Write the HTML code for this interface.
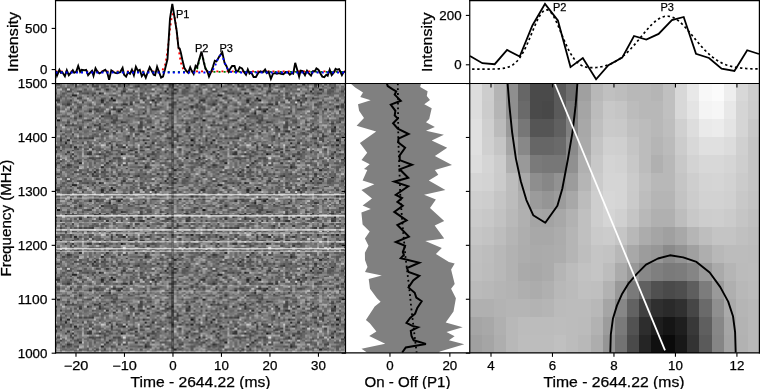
<!DOCTYPE html><html><head><meta charset="utf-8"><style>html,body{margin:0;padding:0;background:#fff;}svg{display:block;will-change:transform}text{font-family:"Liberation Sans", sans-serif;fill:#000;stroke:#000;stroke-width:0.25px}</style></head><body>
<svg width="760" height="389" viewBox="0 0 760 389">
<defs><filter id="nz" x="55" y="83.5" width="291" height="269" filterUnits="userSpaceOnUse" color-interpolation-filters="sRGB"><feTurbulence type="fractalNoise" baseFrequency="0.5 0.6" numOctaves="2" seed="3" result="t"/><feColorMatrix in="t" type="matrix" values="0 0 0 0.85 0.034  0 0 0 0.85 0.034  0 0 0 0.85 0.034  0 0 0 0 1"/></filter></defs>
<defs><pattern id="np" patternUnits="userSpaceOnUse" x="55" y="83.5" width="145.500" height="89.667"><g shape-rendering="crispEdges">
<path fill="#141414" d="M55.77 14.35h2.44v1.81h-2.44zM58.20 16.14h2.44v1.81h-2.44zM2.42 35.87h2.44v1.81h-2.44zM135.80 55.59h2.44v1.81h-2.44zM65.47 69.94h2.44v1.81h-2.44z"/>
<path fill="#252525" d="M130.95 3.59h2.44v1.81h-2.44zM118.82 5.38h2.44v1.81h-2.44zM109.12 7.17h2.44v1.81h-2.44zM43.65 8.97h2.44v1.81h-2.44zM16.97 10.76h2.44v1.81h-2.44zM19.40 10.76h2.44v1.81h-2.44zM46.07 16.14h2.44v1.81h-2.44zM97.00 16.14h2.44v1.81h-2.44zM135.80 21.52h2.44v1.81h-2.44zM65.47 25.11h2.44v1.81h-2.44zM63.05 26.90h2.44v1.81h-2.44zM53.35 28.69h2.44v1.81h-2.44zM43.65 39.45h2.44v1.81h-2.44zM97.00 43.04h2.44v1.81h-2.44zM133.38 43.04h2.44v1.81h-2.44zM58.20 48.42h2.44v1.81h-2.44zM12.12 55.59h2.44v1.81h-2.44zM9.70 59.18h2.44v1.81h-2.44zM89.72 59.18h2.44v1.81h-2.44zM135.80 60.97h2.44v1.81h-2.44zM19.40 62.77h2.44v1.81h-2.44zM67.90 62.77h2.44v1.81h-2.44zM75.17 66.35h2.44v1.81h-2.44zM130.95 73.53h2.44v1.81h-2.44zM143.07 73.53h2.44v1.81h-2.44zM97.00 75.32h2.44v1.81h-2.44zM140.65 75.32h2.44v1.81h-2.44zM24.25 78.91h2.44v1.81h-2.44zM46.07 82.49h2.44v1.81h-2.44zM89.72 82.49h2.44v1.81h-2.44zM118.82 86.08h2.44v1.81h-2.44zM38.80 87.87h2.44v1.81h-2.44z"/>
<path fill="#353535" d="M36.38 0.00h2.44v1.81h-2.44zM101.85 0.00h2.44v1.81h-2.44zM113.97 0.00h2.44v1.81h-2.44zM82.45 1.79h2.44v1.81h-2.44zM75.17 3.59h2.44v1.81h-2.44zM50.92 5.38h2.44v1.81h-2.44zM111.55 5.38h2.44v1.81h-2.44zM67.90 7.17h2.44v1.81h-2.44zM104.27 14.35h2.44v1.81h-2.44zM111.55 14.35h2.44v1.81h-2.44zM0.00 16.14h2.44v1.81h-2.44zM2.42 16.14h2.44v1.81h-2.44zM46.07 17.93h2.44v1.81h-2.44zM99.42 17.93h2.44v1.81h-2.44zM12.12 19.73h2.44v1.81h-2.44zM67.90 19.73h2.44v1.81h-2.44zM70.32 19.73h2.44v1.81h-2.44zM75.17 19.73h2.44v1.81h-2.44zM99.42 21.52h2.44v1.81h-2.44zM135.80 23.31h2.44v1.81h-2.44zM14.55 25.11h2.44v1.81h-2.44zM58.20 25.11h2.44v1.81h-2.44zM123.67 25.11h2.44v1.81h-2.44zM33.95 26.90h2.44v1.81h-2.44zM87.30 28.69h2.44v1.81h-2.44zM113.97 28.69h2.44v1.81h-2.44zM72.75 30.49h2.44v1.81h-2.44zM24.25 32.28h2.44v1.81h-2.44zM46.07 32.28h2.44v1.81h-2.44zM65.47 37.66h2.44v1.81h-2.44zM111.55 39.45h2.44v1.81h-2.44zM130.95 39.45h2.44v1.81h-2.44zM9.70 41.25h2.44v1.81h-2.44zM38.80 41.25h2.44v1.81h-2.44zM0.00 43.04h2.44v1.81h-2.44zM31.52 43.04h2.44v1.81h-2.44zM43.65 43.04h2.44v1.81h-2.44zM75.17 43.04h2.44v1.81h-2.44zM116.40 43.04h2.44v1.81h-2.44zM24.25 44.83h2.44v1.81h-2.44zM43.65 44.83h2.44v1.81h-2.44zM77.60 44.83h2.44v1.81h-2.44zM111.55 44.83h2.44v1.81h-2.44zM50.92 46.63h2.44v1.81h-2.44zM84.88 46.63h2.44v1.81h-2.44zM87.30 46.63h2.44v1.81h-2.44zM130.95 46.63h2.44v1.81h-2.44zM101.85 48.42h2.44v1.81h-2.44zM72.75 52.01h2.44v1.81h-2.44zM92.15 52.01h2.44v1.81h-2.44zM121.25 52.01h2.44v1.81h-2.44zM36.38 53.80h2.44v1.81h-2.44zM113.97 53.80h2.44v1.81h-2.44zM4.85 55.59h2.44v1.81h-2.44zM87.30 55.59h2.44v1.81h-2.44zM53.35 59.18h2.44v1.81h-2.44zM97.00 59.18h2.44v1.81h-2.44zM60.62 60.97h2.44v1.81h-2.44zM116.40 60.97h2.44v1.81h-2.44zM0.00 62.77h2.44v1.81h-2.44zM55.77 62.77h2.44v1.81h-2.44zM92.15 62.77h2.44v1.81h-2.44zM4.85 66.35h2.44v1.81h-2.44zM16.97 66.35h2.44v1.81h-2.44zM72.75 66.35h2.44v1.81h-2.44zM84.88 66.35h2.44v1.81h-2.44zM87.30 66.35h2.44v1.81h-2.44zM111.55 66.35h2.44v1.81h-2.44zM138.22 66.35h2.44v1.81h-2.44zM12.12 68.15h2.44v1.81h-2.44zM33.95 68.15h2.44v1.81h-2.44zM80.02 68.15h2.44v1.81h-2.44zM133.38 68.15h2.44v1.81h-2.44zM16.97 69.94h2.44v1.81h-2.44zM31.52 69.94h2.44v1.81h-2.44zM33.95 69.94h2.44v1.81h-2.44zM43.65 69.94h2.44v1.81h-2.44zM92.15 71.73h2.44v1.81h-2.44zM87.30 73.53h2.44v1.81h-2.44zM111.55 75.32h2.44v1.81h-2.44zM53.35 77.11h2.44v1.81h-2.44zM50.92 78.91h2.44v1.81h-2.44zM80.02 78.91h2.44v1.81h-2.44zM12.12 80.70h2.44v1.81h-2.44zM70.32 84.29h2.44v1.81h-2.44zM116.40 84.29h2.44v1.81h-2.44z"/>
<path fill="#464646" d="M2.42 0.00h2.44v1.81h-2.44zM26.67 0.00h2.44v1.81h-2.44zM63.05 0.00h2.44v1.81h-2.44zM72.75 0.00h2.44v1.81h-2.44zM89.72 0.00h2.44v1.81h-2.44zM36.38 1.79h2.44v1.81h-2.44zM38.80 1.79h2.44v1.81h-2.44zM41.22 1.79h2.44v1.81h-2.44zM58.20 1.79h2.44v1.81h-2.44zM80.02 1.79h2.44v1.81h-2.44zM113.97 1.79h2.44v1.81h-2.44zM2.42 3.59h2.44v1.81h-2.44zM60.62 3.59h2.44v1.81h-2.44zM116.40 3.59h2.44v1.81h-2.44zM41.22 5.38h2.44v1.81h-2.44zM12.12 7.17h2.44v1.81h-2.44zM24.25 7.17h2.44v1.81h-2.44zM77.60 7.17h2.44v1.81h-2.44zM140.65 7.17h2.44v1.81h-2.44zM31.52 8.97h2.44v1.81h-2.44zM38.80 8.97h2.44v1.81h-2.44zM46.07 8.97h2.44v1.81h-2.44zM65.47 8.97h2.44v1.81h-2.44zM84.88 8.97h2.44v1.81h-2.44zM104.27 8.97h2.44v1.81h-2.44zM111.55 8.97h2.44v1.81h-2.44zM116.40 8.97h2.44v1.81h-2.44zM118.82 8.97h2.44v1.81h-2.44zM36.38 10.76h2.44v1.81h-2.44zM101.85 10.76h2.44v1.81h-2.44zM4.85 12.55h2.44v1.81h-2.44zM14.55 12.55h2.44v1.81h-2.44zM31.52 12.55h2.44v1.81h-2.44zM123.67 12.55h2.44v1.81h-2.44zM21.82 14.35h2.44v1.81h-2.44zM24.25 14.35h2.44v1.81h-2.44zM84.88 14.35h2.44v1.81h-2.44zM87.30 14.35h2.44v1.81h-2.44zM89.72 14.35h2.44v1.81h-2.44zM14.55 16.14h2.44v1.81h-2.44zM53.35 16.14h2.44v1.81h-2.44zM87.30 16.14h2.44v1.81h-2.44zM135.80 16.14h2.44v1.81h-2.44zM26.67 17.93h2.44v1.81h-2.44zM75.17 17.93h2.44v1.81h-2.44zM82.45 17.93h2.44v1.81h-2.44zM118.82 17.93h2.44v1.81h-2.44zM143.07 17.93h2.44v1.81h-2.44zM48.50 19.73h2.44v1.81h-2.44zM94.57 19.73h2.44v1.81h-2.44zM113.97 19.73h2.44v1.81h-2.44zM140.65 19.73h2.44v1.81h-2.44zM140.65 21.52h2.44v1.81h-2.44zM24.25 23.31h2.44v1.81h-2.44zM140.65 23.31h2.44v1.81h-2.44zM2.42 25.11h2.44v1.81h-2.44zM38.80 25.11h2.44v1.81h-2.44zM41.22 25.11h2.44v1.81h-2.44zM63.05 25.11h2.44v1.81h-2.44zM97.00 25.11h2.44v1.81h-2.44zM99.42 25.11h2.44v1.81h-2.44zM128.52 25.11h2.44v1.81h-2.44zM41.22 26.90h2.44v1.81h-2.44zM53.35 26.90h2.44v1.81h-2.44zM89.72 26.90h2.44v1.81h-2.44zM138.22 26.90h2.44v1.81h-2.44zM116.40 28.69h2.44v1.81h-2.44zM58.20 30.49h2.44v1.81h-2.44zM82.45 30.49h2.44v1.81h-2.44zM99.42 30.49h2.44v1.81h-2.44zM111.55 32.28h2.44v1.81h-2.44zM19.40 34.07h2.44v1.81h-2.44zM36.38 34.07h2.44v1.81h-2.44zM55.77 34.07h2.44v1.81h-2.44zM60.62 34.07h2.44v1.81h-2.44zM84.88 34.07h2.44v1.81h-2.44zM138.22 34.07h2.44v1.81h-2.44zM140.65 34.07h2.44v1.81h-2.44zM31.52 35.87h2.44v1.81h-2.44zM33.95 35.87h2.44v1.81h-2.44zM58.20 35.87h2.44v1.81h-2.44zM60.62 35.87h2.44v1.81h-2.44zM126.10 35.87h2.44v1.81h-2.44zM12.12 37.66h2.44v1.81h-2.44zM55.77 37.66h2.44v1.81h-2.44zM58.20 37.66h2.44v1.81h-2.44zM67.90 37.66h2.44v1.81h-2.44zM84.88 37.66h2.44v1.81h-2.44zM94.57 37.66h2.44v1.81h-2.44zM104.27 37.66h2.44v1.81h-2.44zM138.22 37.66h2.44v1.81h-2.44zM50.92 39.45h2.44v1.81h-2.44zM84.88 39.45h2.44v1.81h-2.44zM128.52 39.45h2.44v1.81h-2.44zM16.97 41.25h2.44v1.81h-2.44zM41.22 41.25h2.44v1.81h-2.44zM48.50 41.25h2.44v1.81h-2.44zM84.88 41.25h2.44v1.81h-2.44zM109.12 41.25h2.44v1.81h-2.44zM24.25 43.04h2.44v1.81h-2.44zM82.45 43.04h2.44v1.81h-2.44zM84.88 43.04h2.44v1.81h-2.44zM92.15 44.83h2.44v1.81h-2.44zM113.97 44.83h2.44v1.81h-2.44zM130.95 44.83h2.44v1.81h-2.44zM133.38 44.83h2.44v1.81h-2.44zM4.85 46.63h2.44v1.81h-2.44zM60.62 46.63h2.44v1.81h-2.44zM65.47 46.63h2.44v1.81h-2.44zM133.38 46.63h2.44v1.81h-2.44zM92.15 48.42h2.44v1.81h-2.44zM118.82 48.42h2.44v1.81h-2.44zM16.97 50.21h2.44v1.81h-2.44zM80.02 50.21h2.44v1.81h-2.44zM82.45 50.21h2.44v1.81h-2.44zM121.25 50.21h2.44v1.81h-2.44zM123.67 52.01h2.44v1.81h-2.44zM4.85 53.80h2.44v1.81h-2.44zM24.25 53.80h2.44v1.81h-2.44zM29.10 53.80h2.44v1.81h-2.44zM33.95 53.80h2.44v1.81h-2.44zM77.60 53.80h2.44v1.81h-2.44zM111.55 53.80h2.44v1.81h-2.44zM118.82 53.80h2.44v1.81h-2.44zM121.25 55.59h2.44v1.81h-2.44zM143.07 55.59h2.44v1.81h-2.44zM9.70 57.39h2.44v1.81h-2.44zM16.97 57.39h2.44v1.81h-2.44zM31.52 57.39h2.44v1.81h-2.44zM43.65 57.39h2.44v1.81h-2.44zM104.27 57.39h2.44v1.81h-2.44zM121.25 57.39h2.44v1.81h-2.44zM138.22 57.39h2.44v1.81h-2.44zM26.67 59.18h2.44v1.81h-2.44zM113.97 59.18h2.44v1.81h-2.44zM14.55 60.97h2.44v1.81h-2.44zM70.32 60.97h2.44v1.81h-2.44zM123.67 60.97h2.44v1.81h-2.44zM130.95 60.97h2.44v1.81h-2.44zM143.07 60.97h2.44v1.81h-2.44zM2.42 62.77h2.44v1.81h-2.44zM14.55 62.77h2.44v1.81h-2.44zM33.95 62.77h2.44v1.81h-2.44zM65.47 62.77h2.44v1.81h-2.44zM84.88 62.77h2.44v1.81h-2.44zM106.70 62.77h2.44v1.81h-2.44zM21.82 64.56h2.44v1.81h-2.44zM36.38 64.56h2.44v1.81h-2.44zM55.77 64.56h2.44v1.81h-2.44zM80.02 64.56h2.44v1.81h-2.44zM101.85 64.56h2.44v1.81h-2.44zM123.67 64.56h2.44v1.81h-2.44zM143.07 64.56h2.44v1.81h-2.44zM0.00 66.35h2.44v1.81h-2.44zM48.50 66.35h2.44v1.81h-2.44zM60.62 66.35h2.44v1.81h-2.44zM0.00 68.15h2.44v1.81h-2.44zM50.92 68.15h2.44v1.81h-2.44zM97.00 68.15h2.44v1.81h-2.44zM109.12 68.15h2.44v1.81h-2.44zM9.70 69.94h2.44v1.81h-2.44zM67.90 69.94h2.44v1.81h-2.44zM97.00 69.94h2.44v1.81h-2.44zM130.95 69.94h2.44v1.81h-2.44zM138.22 69.94h2.44v1.81h-2.44zM14.55 71.73h2.44v1.81h-2.44zM48.50 71.73h2.44v1.81h-2.44zM80.02 71.73h2.44v1.81h-2.44zM2.42 73.53h2.44v1.81h-2.44zM16.97 73.53h2.44v1.81h-2.44zM33.95 73.53h2.44v1.81h-2.44zM36.38 73.53h2.44v1.81h-2.44zM43.65 73.53h2.44v1.81h-2.44zM58.20 73.53h2.44v1.81h-2.44zM63.05 73.53h2.44v1.81h-2.44zM38.80 75.32h2.44v1.81h-2.44zM65.47 75.32h2.44v1.81h-2.44zM82.45 75.32h2.44v1.81h-2.44zM84.88 75.32h2.44v1.81h-2.44zM87.30 75.32h2.44v1.81h-2.44zM89.72 75.32h2.44v1.81h-2.44zM4.85 77.11h2.44v1.81h-2.44zM21.82 77.11h2.44v1.81h-2.44zM2.42 78.91h2.44v1.81h-2.44zM14.55 80.70h2.44v1.81h-2.44zM48.50 80.70h2.44v1.81h-2.44zM63.05 80.70h2.44v1.81h-2.44zM67.90 80.70h2.44v1.81h-2.44zM89.72 80.70h2.44v1.81h-2.44zM123.67 80.70h2.44v1.81h-2.44zM126.10 80.70h2.44v1.81h-2.44zM7.27 82.49h2.44v1.81h-2.44zM21.82 82.49h2.44v1.81h-2.44zM55.77 82.49h2.44v1.81h-2.44zM92.15 82.49h2.44v1.81h-2.44zM89.72 84.29h2.44v1.81h-2.44zM104.27 84.29h2.44v1.81h-2.44zM111.55 84.29h2.44v1.81h-2.44zM121.25 84.29h2.44v1.81h-2.44zM126.10 84.29h2.44v1.81h-2.44zM41.22 86.08h2.44v1.81h-2.44zM48.50 86.08h2.44v1.81h-2.44zM19.40 87.87h2.44v1.81h-2.44zM46.07 87.87h2.44v1.81h-2.44z"/>
<path fill="#565656" d="M0.00 0.00h2.44v1.81h-2.44zM16.97 0.00h2.44v1.81h-2.44zM29.10 0.00h2.44v1.81h-2.44zM41.22 0.00h2.44v1.81h-2.44zM48.50 0.00h2.44v1.81h-2.44zM67.90 0.00h2.44v1.81h-2.44zM82.45 0.00h2.44v1.81h-2.44zM87.30 0.00h2.44v1.81h-2.44zM94.57 0.00h2.44v1.81h-2.44zM106.70 0.00h2.44v1.81h-2.44zM123.67 0.00h2.44v1.81h-2.44zM128.52 0.00h2.44v1.81h-2.44zM133.38 0.00h2.44v1.81h-2.44zM31.52 1.79h2.44v1.81h-2.44zM48.50 1.79h2.44v1.81h-2.44zM50.92 1.79h2.44v1.81h-2.44zM55.77 1.79h2.44v1.81h-2.44zM63.05 1.79h2.44v1.81h-2.44zM97.00 1.79h2.44v1.81h-2.44zM121.25 1.79h2.44v1.81h-2.44zM133.38 1.79h2.44v1.81h-2.44zM9.70 3.59h2.44v1.81h-2.44zM12.12 3.59h2.44v1.81h-2.44zM46.07 3.59h2.44v1.81h-2.44zM67.90 3.59h2.44v1.81h-2.44zM84.88 3.59h2.44v1.81h-2.44zM94.57 3.59h2.44v1.81h-2.44zM104.27 3.59h2.44v1.81h-2.44zM106.70 3.59h2.44v1.81h-2.44zM111.55 3.59h2.44v1.81h-2.44zM123.67 3.59h2.44v1.81h-2.44zM9.70 5.38h2.44v1.81h-2.44zM14.55 5.38h2.44v1.81h-2.44zM29.10 5.38h2.44v1.81h-2.44zM43.65 5.38h2.44v1.81h-2.44zM60.62 5.38h2.44v1.81h-2.44zM67.90 5.38h2.44v1.81h-2.44zM89.72 5.38h2.44v1.81h-2.44zM121.25 5.38h2.44v1.81h-2.44zM128.52 5.38h2.44v1.81h-2.44zM143.07 5.38h2.44v1.81h-2.44zM14.55 7.17h2.44v1.81h-2.44zM21.82 7.17h2.44v1.81h-2.44zM65.47 7.17h2.44v1.81h-2.44zM97.00 7.17h2.44v1.81h-2.44zM121.25 7.17h2.44v1.81h-2.44zM126.10 7.17h2.44v1.81h-2.44zM128.52 7.17h2.44v1.81h-2.44zM130.95 7.17h2.44v1.81h-2.44zM0.00 8.97h2.44v1.81h-2.44zM7.27 8.97h2.44v1.81h-2.44zM26.67 8.97h2.44v1.81h-2.44zM29.10 8.97h2.44v1.81h-2.44zM36.38 8.97h2.44v1.81h-2.44zM70.32 8.97h2.44v1.81h-2.44zM72.75 8.97h2.44v1.81h-2.44zM75.17 8.97h2.44v1.81h-2.44zM126.10 8.97h2.44v1.81h-2.44zM128.52 8.97h2.44v1.81h-2.44zM58.20 10.76h2.44v1.81h-2.44zM77.60 10.76h2.44v1.81h-2.44zM84.88 10.76h2.44v1.81h-2.44zM89.72 10.76h2.44v1.81h-2.44zM94.57 10.76h2.44v1.81h-2.44zM24.25 12.55h2.44v1.81h-2.44zM38.80 12.55h2.44v1.81h-2.44zM60.62 12.55h2.44v1.81h-2.44zM75.17 12.55h2.44v1.81h-2.44zM80.02 12.55h2.44v1.81h-2.44zM94.57 12.55h2.44v1.81h-2.44zM126.10 12.55h2.44v1.81h-2.44zM143.07 12.55h2.44v1.81h-2.44zM2.42 14.35h2.44v1.81h-2.44zM38.80 14.35h2.44v1.81h-2.44zM46.07 14.35h2.44v1.81h-2.44zM48.50 14.35h2.44v1.81h-2.44zM70.32 14.35h2.44v1.81h-2.44zM77.60 14.35h2.44v1.81h-2.44zM99.42 14.35h2.44v1.81h-2.44zM101.85 14.35h2.44v1.81h-2.44zM113.97 14.35h2.44v1.81h-2.44zM116.40 14.35h2.44v1.81h-2.44zM133.38 14.35h2.44v1.81h-2.44zM29.10 16.14h2.44v1.81h-2.44zM55.77 16.14h2.44v1.81h-2.44zM94.57 16.14h2.44v1.81h-2.44zM101.85 16.14h2.44v1.81h-2.44zM104.27 16.14h2.44v1.81h-2.44zM109.12 16.14h2.44v1.81h-2.44zM121.25 16.14h2.44v1.81h-2.44zM2.42 17.93h2.44v1.81h-2.44zM12.12 17.93h2.44v1.81h-2.44zM19.40 17.93h2.44v1.81h-2.44zM50.92 17.93h2.44v1.81h-2.44zM80.02 17.93h2.44v1.81h-2.44zM89.72 17.93h2.44v1.81h-2.44zM123.67 17.93h2.44v1.81h-2.44zM7.27 19.73h2.44v1.81h-2.44zM9.70 19.73h2.44v1.81h-2.44zM14.55 19.73h2.44v1.81h-2.44zM21.82 19.73h2.44v1.81h-2.44zM33.95 19.73h2.44v1.81h-2.44zM60.62 19.73h2.44v1.81h-2.44zM65.47 19.73h2.44v1.81h-2.44zM99.42 19.73h2.44v1.81h-2.44zM116.40 19.73h2.44v1.81h-2.44zM118.82 19.73h2.44v1.81h-2.44zM128.52 19.73h2.44v1.81h-2.44zM9.70 21.52h2.44v1.81h-2.44zM12.12 21.52h2.44v1.81h-2.44zM24.25 21.52h2.44v1.81h-2.44zM33.95 21.52h2.44v1.81h-2.44zM65.47 21.52h2.44v1.81h-2.44zM72.75 21.52h2.44v1.81h-2.44zM87.30 21.52h2.44v1.81h-2.44zM113.97 21.52h2.44v1.81h-2.44zM116.40 21.52h2.44v1.81h-2.44zM133.38 21.52h2.44v1.81h-2.44zM138.22 21.52h2.44v1.81h-2.44zM0.00 23.31h2.44v1.81h-2.44zM2.42 23.31h2.44v1.81h-2.44zM21.82 23.31h2.44v1.81h-2.44zM43.65 23.31h2.44v1.81h-2.44zM58.20 23.31h2.44v1.81h-2.44zM67.90 23.31h2.44v1.81h-2.44zM104.27 23.31h2.44v1.81h-2.44zM116.40 23.31h2.44v1.81h-2.44zM33.95 25.11h2.44v1.81h-2.44zM46.07 25.11h2.44v1.81h-2.44zM55.77 25.11h2.44v1.81h-2.44zM60.62 25.11h2.44v1.81h-2.44zM87.30 25.11h2.44v1.81h-2.44zM101.85 25.11h2.44v1.81h-2.44zM130.95 25.11h2.44v1.81h-2.44zM143.07 25.11h2.44v1.81h-2.44zM19.40 26.90h2.44v1.81h-2.44zM21.82 26.90h2.44v1.81h-2.44zM43.65 26.90h2.44v1.81h-2.44zM46.07 26.90h2.44v1.81h-2.44zM60.62 26.90h2.44v1.81h-2.44zM111.55 26.90h2.44v1.81h-2.44zM121.25 26.90h2.44v1.81h-2.44zM19.40 28.69h2.44v1.81h-2.44zM50.92 28.69h2.44v1.81h-2.44zM77.60 28.69h2.44v1.81h-2.44zM138.22 28.69h2.44v1.81h-2.44zM24.25 30.49h2.44v1.81h-2.44zM53.35 30.49h2.44v1.81h-2.44zM80.02 30.49h2.44v1.81h-2.44zM133.38 30.49h2.44v1.81h-2.44zM140.65 30.49h2.44v1.81h-2.44zM7.27 32.28h2.44v1.81h-2.44zM12.12 32.28h2.44v1.81h-2.44zM48.50 32.28h2.44v1.81h-2.44zM50.92 32.28h2.44v1.81h-2.44zM53.35 32.28h2.44v1.81h-2.44zM55.77 32.28h2.44v1.81h-2.44zM60.62 32.28h2.44v1.81h-2.44zM72.75 32.28h2.44v1.81h-2.44zM75.17 32.28h2.44v1.81h-2.44zM92.15 32.28h2.44v1.81h-2.44zM0.00 34.07h2.44v1.81h-2.44zM43.65 34.07h2.44v1.81h-2.44zM87.30 34.07h2.44v1.81h-2.44zM29.10 35.87h2.44v1.81h-2.44zM92.15 35.87h2.44v1.81h-2.44zM94.57 35.87h2.44v1.81h-2.44zM138.22 35.87h2.44v1.81h-2.44zM26.67 37.66h2.44v1.81h-2.44zM70.32 37.66h2.44v1.81h-2.44zM92.15 37.66h2.44v1.81h-2.44zM106.70 37.66h2.44v1.81h-2.44zM130.95 37.66h2.44v1.81h-2.44zM135.80 37.66h2.44v1.81h-2.44zM16.97 39.45h2.44v1.81h-2.44zM36.38 39.45h2.44v1.81h-2.44zM58.20 39.45h2.44v1.81h-2.44zM143.07 39.45h2.44v1.81h-2.44zM12.12 41.25h2.44v1.81h-2.44zM14.55 41.25h2.44v1.81h-2.44zM19.40 41.25h2.44v1.81h-2.44zM43.65 41.25h2.44v1.81h-2.44zM72.75 41.25h2.44v1.81h-2.44zM82.45 41.25h2.44v1.81h-2.44zM104.27 41.25h2.44v1.81h-2.44zM33.95 43.04h2.44v1.81h-2.44zM55.77 43.04h2.44v1.81h-2.44zM60.62 43.04h2.44v1.81h-2.44zM63.05 43.04h2.44v1.81h-2.44zM65.47 43.04h2.44v1.81h-2.44zM89.72 43.04h2.44v1.81h-2.44zM113.97 43.04h2.44v1.81h-2.44zM19.40 44.83h2.44v1.81h-2.44zM46.07 44.83h2.44v1.81h-2.44zM48.50 44.83h2.44v1.81h-2.44zM65.47 44.83h2.44v1.81h-2.44zM75.17 44.83h2.44v1.81h-2.44zM101.85 44.83h2.44v1.81h-2.44zM109.12 44.83h2.44v1.81h-2.44zM0.00 46.63h2.44v1.81h-2.44zM14.55 46.63h2.44v1.81h-2.44zM36.38 46.63h2.44v1.81h-2.44zM75.17 46.63h2.44v1.81h-2.44zM77.60 46.63h2.44v1.81h-2.44zM82.45 46.63h2.44v1.81h-2.44zM106.70 46.63h2.44v1.81h-2.44zM109.12 46.63h2.44v1.81h-2.44zM111.55 46.63h2.44v1.81h-2.44zM116.40 46.63h2.44v1.81h-2.44zM138.22 46.63h2.44v1.81h-2.44zM9.70 48.42h2.44v1.81h-2.44zM21.82 48.42h2.44v1.81h-2.44zM48.50 48.42h2.44v1.81h-2.44zM87.30 48.42h2.44v1.81h-2.44zM99.42 48.42h2.44v1.81h-2.44zM109.12 48.42h2.44v1.81h-2.44zM7.27 50.21h2.44v1.81h-2.44zM38.80 50.21h2.44v1.81h-2.44zM48.50 50.21h2.44v1.81h-2.44zM50.92 50.21h2.44v1.81h-2.44zM58.20 50.21h2.44v1.81h-2.44zM101.85 50.21h2.44v1.81h-2.44zM104.27 50.21h2.44v1.81h-2.44zM106.70 50.21h2.44v1.81h-2.44zM130.95 50.21h2.44v1.81h-2.44zM135.80 50.21h2.44v1.81h-2.44zM138.22 50.21h2.44v1.81h-2.44zM143.07 50.21h2.44v1.81h-2.44zM9.70 52.01h2.44v1.81h-2.44zM36.38 52.01h2.44v1.81h-2.44zM41.22 52.01h2.44v1.81h-2.44zM46.07 52.01h2.44v1.81h-2.44zM70.32 52.01h2.44v1.81h-2.44zM133.38 52.01h2.44v1.81h-2.44zM14.55 53.80h2.44v1.81h-2.44zM19.40 53.80h2.44v1.81h-2.44zM31.52 53.80h2.44v1.81h-2.44zM70.32 53.80h2.44v1.81h-2.44zM72.75 53.80h2.44v1.81h-2.44zM121.25 53.80h2.44v1.81h-2.44zM135.80 53.80h2.44v1.81h-2.44zM138.22 53.80h2.44v1.81h-2.44zM70.32 55.59h2.44v1.81h-2.44zM72.75 55.59h2.44v1.81h-2.44zM82.45 55.59h2.44v1.81h-2.44zM89.72 55.59h2.44v1.81h-2.44zM92.15 55.59h2.44v1.81h-2.44zM99.42 55.59h2.44v1.81h-2.44zM118.82 55.59h2.44v1.81h-2.44zM138.22 55.59h2.44v1.81h-2.44zM4.85 57.39h2.44v1.81h-2.44zM19.40 57.39h2.44v1.81h-2.44zM48.50 57.39h2.44v1.81h-2.44zM55.77 57.39h2.44v1.81h-2.44zM58.20 57.39h2.44v1.81h-2.44zM63.05 57.39h2.44v1.81h-2.44zM80.02 57.39h2.44v1.81h-2.44zM97.00 57.39h2.44v1.81h-2.44zM109.12 57.39h2.44v1.81h-2.44zM128.52 57.39h2.44v1.81h-2.44zM126.10 59.18h2.44v1.81h-2.44zM138.22 59.18h2.44v1.81h-2.44zM4.85 60.97h2.44v1.81h-2.44zM7.27 60.97h2.44v1.81h-2.44zM33.95 60.97h2.44v1.81h-2.44zM36.38 60.97h2.44v1.81h-2.44zM50.92 60.97h2.44v1.81h-2.44zM55.77 60.97h2.44v1.81h-2.44zM63.05 60.97h2.44v1.81h-2.44zM65.47 60.97h2.44v1.81h-2.44zM94.57 60.97h2.44v1.81h-2.44zM101.85 60.97h2.44v1.81h-2.44zM104.27 60.97h2.44v1.81h-2.44zM109.12 60.97h2.44v1.81h-2.44zM140.65 60.97h2.44v1.81h-2.44zM7.27 62.77h2.44v1.81h-2.44zM24.25 62.77h2.44v1.81h-2.44zM63.05 62.77h2.44v1.81h-2.44zM72.75 62.77h2.44v1.81h-2.44zM77.60 62.77h2.44v1.81h-2.44zM89.72 62.77h2.44v1.81h-2.44zM94.57 62.77h2.44v1.81h-2.44zM116.40 62.77h2.44v1.81h-2.44zM143.07 62.77h2.44v1.81h-2.44zM19.40 64.56h2.44v1.81h-2.44zM29.10 64.56h2.44v1.81h-2.44zM31.52 64.56h2.44v1.81h-2.44zM43.65 64.56h2.44v1.81h-2.44zM75.17 64.56h2.44v1.81h-2.44zM77.60 64.56h2.44v1.81h-2.44zM135.80 64.56h2.44v1.81h-2.44zM41.22 66.35h2.44v1.81h-2.44zM43.65 66.35h2.44v1.81h-2.44zM55.77 66.35h2.44v1.81h-2.44zM58.20 66.35h2.44v1.81h-2.44zM63.05 66.35h2.44v1.81h-2.44zM77.60 66.35h2.44v1.81h-2.44zM99.42 66.35h2.44v1.81h-2.44zM123.67 66.35h2.44v1.81h-2.44zM143.07 66.35h2.44v1.81h-2.44zM31.52 68.15h2.44v1.81h-2.44zM53.35 68.15h2.44v1.81h-2.44zM63.05 68.15h2.44v1.81h-2.44zM101.85 68.15h2.44v1.81h-2.44zM116.40 68.15h2.44v1.81h-2.44zM143.07 68.15h2.44v1.81h-2.44zM41.22 69.94h2.44v1.81h-2.44zM46.07 69.94h2.44v1.81h-2.44zM48.50 69.94h2.44v1.81h-2.44zM53.35 69.94h2.44v1.81h-2.44zM55.77 69.94h2.44v1.81h-2.44zM60.62 69.94h2.44v1.81h-2.44zM75.17 69.94h2.44v1.81h-2.44zM92.15 69.94h2.44v1.81h-2.44zM94.57 69.94h2.44v1.81h-2.44zM99.42 69.94h2.44v1.81h-2.44zM140.65 69.94h2.44v1.81h-2.44zM19.40 71.73h2.44v1.81h-2.44zM50.92 71.73h2.44v1.81h-2.44zM99.42 71.73h2.44v1.81h-2.44zM128.52 71.73h2.44v1.81h-2.44zM135.80 71.73h2.44v1.81h-2.44zM14.55 73.53h2.44v1.81h-2.44zM38.80 73.53h2.44v1.81h-2.44zM41.22 73.53h2.44v1.81h-2.44zM48.50 73.53h2.44v1.81h-2.44zM60.62 73.53h2.44v1.81h-2.44zM84.88 73.53h2.44v1.81h-2.44zM97.00 73.53h2.44v1.81h-2.44zM118.82 73.53h2.44v1.81h-2.44zM121.25 73.53h2.44v1.81h-2.44zM0.00 75.32h2.44v1.81h-2.44zM7.27 75.32h2.44v1.81h-2.44zM16.97 75.32h2.44v1.81h-2.44zM21.82 75.32h2.44v1.81h-2.44zM24.25 75.32h2.44v1.81h-2.44zM29.10 75.32h2.44v1.81h-2.44zM36.38 75.32h2.44v1.81h-2.44zM48.50 75.32h2.44v1.81h-2.44zM63.05 75.32h2.44v1.81h-2.44zM70.32 75.32h2.44v1.81h-2.44zM72.75 75.32h2.44v1.81h-2.44zM94.57 75.32h2.44v1.81h-2.44zM99.42 75.32h2.44v1.81h-2.44zM104.27 75.32h2.44v1.81h-2.44zM109.12 75.32h2.44v1.81h-2.44zM116.40 75.32h2.44v1.81h-2.44zM128.52 75.32h2.44v1.81h-2.44zM19.40 77.11h2.44v1.81h-2.44zM55.77 77.11h2.44v1.81h-2.44zM63.05 77.11h2.44v1.81h-2.44zM72.75 77.11h2.44v1.81h-2.44zM77.60 77.11h2.44v1.81h-2.44zM121.25 77.11h2.44v1.81h-2.44zM143.07 77.11h2.44v1.81h-2.44zM0.00 78.91h2.44v1.81h-2.44zM38.80 78.91h2.44v1.81h-2.44zM70.32 78.91h2.44v1.81h-2.44zM87.30 78.91h2.44v1.81h-2.44zM92.15 78.91h2.44v1.81h-2.44zM97.00 78.91h2.44v1.81h-2.44zM104.27 78.91h2.44v1.81h-2.44zM106.70 78.91h2.44v1.81h-2.44zM109.12 78.91h2.44v1.81h-2.44zM126.10 78.91h2.44v1.81h-2.44zM133.38 78.91h2.44v1.81h-2.44zM135.80 78.91h2.44v1.81h-2.44zM140.65 78.91h2.44v1.81h-2.44zM0.00 80.70h2.44v1.81h-2.44zM70.32 80.70h2.44v1.81h-2.44zM92.15 80.70h2.44v1.81h-2.44zM113.97 80.70h2.44v1.81h-2.44zM143.07 80.70h2.44v1.81h-2.44zM12.12 82.49h2.44v1.81h-2.44zM14.55 82.49h2.44v1.81h-2.44zM19.40 82.49h2.44v1.81h-2.44zM58.20 82.49h2.44v1.81h-2.44zM82.45 82.49h2.44v1.81h-2.44zM84.88 82.49h2.44v1.81h-2.44zM94.57 82.49h2.44v1.81h-2.44zM135.80 82.49h2.44v1.81h-2.44zM138.22 82.49h2.44v1.81h-2.44zM31.52 84.29h2.44v1.81h-2.44zM38.80 84.29h2.44v1.81h-2.44zM94.57 84.29h2.44v1.81h-2.44zM106.70 84.29h2.44v1.81h-2.44zM135.80 84.29h2.44v1.81h-2.44zM24.25 86.08h2.44v1.81h-2.44zM31.52 86.08h2.44v1.81h-2.44zM60.62 86.08h2.44v1.81h-2.44zM75.17 86.08h2.44v1.81h-2.44zM84.88 86.08h2.44v1.81h-2.44zM104.27 86.08h2.44v1.81h-2.44zM106.70 86.08h2.44v1.81h-2.44zM123.67 86.08h2.44v1.81h-2.44zM135.80 86.08h2.44v1.81h-2.44zM4.85 87.87h2.44v1.81h-2.44zM21.82 87.87h2.44v1.81h-2.44zM24.25 87.87h2.44v1.81h-2.44zM31.52 87.87h2.44v1.81h-2.44zM33.95 87.87h2.44v1.81h-2.44zM48.50 87.87h2.44v1.81h-2.44zM50.92 87.87h2.44v1.81h-2.44zM55.77 87.87h2.44v1.81h-2.44zM65.47 87.87h2.44v1.81h-2.44z"/>
<path fill="#676767" d="M4.85 0.00h2.44v1.81h-2.44zM14.55 0.00h2.44v1.81h-2.44zM43.65 0.00h2.44v1.81h-2.44zM46.07 0.00h2.44v1.81h-2.44zM55.77 0.00h2.44v1.81h-2.44zM65.47 0.00h2.44v1.81h-2.44zM70.32 0.00h2.44v1.81h-2.44zM80.02 0.00h2.44v1.81h-2.44zM84.88 0.00h2.44v1.81h-2.44zM116.40 0.00h2.44v1.81h-2.44zM118.82 0.00h2.44v1.81h-2.44zM130.95 0.00h2.44v1.81h-2.44zM4.85 1.79h2.44v1.81h-2.44zM12.12 1.79h2.44v1.81h-2.44zM21.82 1.79h2.44v1.81h-2.44zM24.25 1.79h2.44v1.81h-2.44zM46.07 1.79h2.44v1.81h-2.44zM65.47 1.79h2.44v1.81h-2.44zM70.32 1.79h2.44v1.81h-2.44zM77.60 1.79h2.44v1.81h-2.44zM84.88 1.79h2.44v1.81h-2.44zM87.30 1.79h2.44v1.81h-2.44zM92.15 1.79h2.44v1.81h-2.44zM94.57 1.79h2.44v1.81h-2.44zM99.42 1.79h2.44v1.81h-2.44zM104.27 1.79h2.44v1.81h-2.44zM128.52 1.79h2.44v1.81h-2.44zM130.95 1.79h2.44v1.81h-2.44zM140.65 1.79h2.44v1.81h-2.44zM7.27 3.59h2.44v1.81h-2.44zM19.40 3.59h2.44v1.81h-2.44zM48.50 3.59h2.44v1.81h-2.44zM77.60 3.59h2.44v1.81h-2.44zM80.02 3.59h2.44v1.81h-2.44zM87.30 3.59h2.44v1.81h-2.44zM89.72 3.59h2.44v1.81h-2.44zM92.15 3.59h2.44v1.81h-2.44zM113.97 3.59h2.44v1.81h-2.44zM133.38 3.59h2.44v1.81h-2.44zM135.80 3.59h2.44v1.81h-2.44zM143.07 3.59h2.44v1.81h-2.44zM7.27 5.38h2.44v1.81h-2.44zM16.97 5.38h2.44v1.81h-2.44zM48.50 5.38h2.44v1.81h-2.44zM53.35 5.38h2.44v1.81h-2.44zM70.32 5.38h2.44v1.81h-2.44zM84.88 5.38h2.44v1.81h-2.44zM99.42 5.38h2.44v1.81h-2.44zM106.70 5.38h2.44v1.81h-2.44zM126.10 5.38h2.44v1.81h-2.44zM130.95 5.38h2.44v1.81h-2.44zM133.38 5.38h2.44v1.81h-2.44zM140.65 5.38h2.44v1.81h-2.44zM9.70 7.17h2.44v1.81h-2.44zM29.10 7.17h2.44v1.81h-2.44zM31.52 7.17h2.44v1.81h-2.44zM33.95 7.17h2.44v1.81h-2.44zM50.92 7.17h2.44v1.81h-2.44zM58.20 7.17h2.44v1.81h-2.44zM87.30 7.17h2.44v1.81h-2.44zM92.15 7.17h2.44v1.81h-2.44zM94.57 7.17h2.44v1.81h-2.44zM113.97 7.17h2.44v1.81h-2.44zM116.40 7.17h2.44v1.81h-2.44zM138.22 7.17h2.44v1.81h-2.44zM9.70 8.97h2.44v1.81h-2.44zM16.97 8.97h2.44v1.81h-2.44zM24.25 8.97h2.44v1.81h-2.44zM33.95 8.97h2.44v1.81h-2.44zM80.02 8.97h2.44v1.81h-2.44zM87.30 8.97h2.44v1.81h-2.44zM106.70 8.97h2.44v1.81h-2.44zM109.12 8.97h2.44v1.81h-2.44zM113.97 8.97h2.44v1.81h-2.44zM130.95 8.97h2.44v1.81h-2.44zM133.38 8.97h2.44v1.81h-2.44zM135.80 8.97h2.44v1.81h-2.44zM140.65 8.97h2.44v1.81h-2.44zM4.85 10.76h2.44v1.81h-2.44zM7.27 10.76h2.44v1.81h-2.44zM12.12 10.76h2.44v1.81h-2.44zM41.22 10.76h2.44v1.81h-2.44zM53.35 10.76h2.44v1.81h-2.44zM55.77 10.76h2.44v1.81h-2.44zM60.62 10.76h2.44v1.81h-2.44zM65.47 10.76h2.44v1.81h-2.44zM99.42 10.76h2.44v1.81h-2.44zM113.97 10.76h2.44v1.81h-2.44zM116.40 10.76h2.44v1.81h-2.44zM128.52 10.76h2.44v1.81h-2.44zM130.95 10.76h2.44v1.81h-2.44zM138.22 10.76h2.44v1.81h-2.44zM140.65 10.76h2.44v1.81h-2.44zM7.27 12.55h2.44v1.81h-2.44zM9.70 12.55h2.44v1.81h-2.44zM43.65 12.55h2.44v1.81h-2.44zM63.05 12.55h2.44v1.81h-2.44zM84.88 12.55h2.44v1.81h-2.44zM87.30 12.55h2.44v1.81h-2.44zM97.00 12.55h2.44v1.81h-2.44zM101.85 12.55h2.44v1.81h-2.44zM138.22 12.55h2.44v1.81h-2.44zM4.85 14.35h2.44v1.81h-2.44zM9.70 14.35h2.44v1.81h-2.44zM63.05 14.35h2.44v1.81h-2.44zM75.17 14.35h2.44v1.81h-2.44zM94.57 14.35h2.44v1.81h-2.44zM135.80 14.35h2.44v1.81h-2.44zM9.70 16.14h2.44v1.81h-2.44zM12.12 16.14h2.44v1.81h-2.44zM26.67 16.14h2.44v1.81h-2.44zM36.38 16.14h2.44v1.81h-2.44zM43.65 16.14h2.44v1.81h-2.44zM48.50 16.14h2.44v1.81h-2.44zM67.90 16.14h2.44v1.81h-2.44zM70.32 16.14h2.44v1.81h-2.44zM75.17 16.14h2.44v1.81h-2.44zM77.60 16.14h2.44v1.81h-2.44zM92.15 16.14h2.44v1.81h-2.44zM130.95 16.14h2.44v1.81h-2.44zM143.07 16.14h2.44v1.81h-2.44zM7.27 17.93h2.44v1.81h-2.44zM9.70 17.93h2.44v1.81h-2.44zM14.55 17.93h2.44v1.81h-2.44zM67.90 17.93h2.44v1.81h-2.44zM92.15 17.93h2.44v1.81h-2.44zM101.85 17.93h2.44v1.81h-2.44zM116.40 17.93h2.44v1.81h-2.44zM24.25 19.73h2.44v1.81h-2.44zM31.52 19.73h2.44v1.81h-2.44zM41.22 19.73h2.44v1.81h-2.44zM43.65 19.73h2.44v1.81h-2.44zM50.92 19.73h2.44v1.81h-2.44zM53.35 19.73h2.44v1.81h-2.44zM58.20 19.73h2.44v1.81h-2.44zM84.88 19.73h2.44v1.81h-2.44zM87.30 19.73h2.44v1.81h-2.44zM92.15 19.73h2.44v1.81h-2.44zM106.70 19.73h2.44v1.81h-2.44zM130.95 19.73h2.44v1.81h-2.44zM36.38 21.52h2.44v1.81h-2.44zM38.80 21.52h2.44v1.81h-2.44zM50.92 21.52h2.44v1.81h-2.44zM58.20 21.52h2.44v1.81h-2.44zM70.32 21.52h2.44v1.81h-2.44zM77.60 21.52h2.44v1.81h-2.44zM89.72 21.52h2.44v1.81h-2.44zM94.57 21.52h2.44v1.81h-2.44zM143.07 21.52h2.44v1.81h-2.44zM14.55 23.31h2.44v1.81h-2.44zM16.97 23.31h2.44v1.81h-2.44zM38.80 23.31h2.44v1.81h-2.44zM50.92 23.31h2.44v1.81h-2.44zM77.60 23.31h2.44v1.81h-2.44zM89.72 23.31h2.44v1.81h-2.44zM94.57 23.31h2.44v1.81h-2.44zM101.85 23.31h2.44v1.81h-2.44zM106.70 23.31h2.44v1.81h-2.44zM118.82 23.31h2.44v1.81h-2.44zM133.38 23.31h2.44v1.81h-2.44zM138.22 23.31h2.44v1.81h-2.44zM7.27 25.11h2.44v1.81h-2.44zM21.82 25.11h2.44v1.81h-2.44zM24.25 25.11h2.44v1.81h-2.44zM36.38 25.11h2.44v1.81h-2.44zM43.65 25.11h2.44v1.81h-2.44zM48.50 25.11h2.44v1.81h-2.44zM70.32 25.11h2.44v1.81h-2.44zM84.88 25.11h2.44v1.81h-2.44zM89.72 25.11h2.44v1.81h-2.44zM94.57 25.11h2.44v1.81h-2.44zM113.97 25.11h2.44v1.81h-2.44zM135.80 25.11h2.44v1.81h-2.44zM2.42 26.90h2.44v1.81h-2.44zM12.12 26.90h2.44v1.81h-2.44zM29.10 26.90h2.44v1.81h-2.44zM31.52 26.90h2.44v1.81h-2.44zM67.90 26.90h2.44v1.81h-2.44zM70.32 26.90h2.44v1.81h-2.44zM72.75 26.90h2.44v1.81h-2.44zM82.45 26.90h2.44v1.81h-2.44zM94.57 26.90h2.44v1.81h-2.44zM109.12 26.90h2.44v1.81h-2.44zM116.40 26.90h2.44v1.81h-2.44zM0.00 28.69h2.44v1.81h-2.44zM2.42 28.69h2.44v1.81h-2.44zM16.97 28.69h2.44v1.81h-2.44zM24.25 28.69h2.44v1.81h-2.44zM38.80 28.69h2.44v1.81h-2.44zM43.65 28.69h2.44v1.81h-2.44zM63.05 28.69h2.44v1.81h-2.44zM65.47 28.69h2.44v1.81h-2.44zM82.45 28.69h2.44v1.81h-2.44zM89.72 28.69h2.44v1.81h-2.44zM94.57 28.69h2.44v1.81h-2.44zM106.70 28.69h2.44v1.81h-2.44zM109.12 28.69h2.44v1.81h-2.44zM111.55 28.69h2.44v1.81h-2.44zM121.25 28.69h2.44v1.81h-2.44zM128.52 28.69h2.44v1.81h-2.44zM9.70 30.49h2.44v1.81h-2.44zM26.67 30.49h2.44v1.81h-2.44zM31.52 30.49h2.44v1.81h-2.44zM41.22 30.49h2.44v1.81h-2.44zM48.50 30.49h2.44v1.81h-2.44zM50.92 30.49h2.44v1.81h-2.44zM60.62 30.49h2.44v1.81h-2.44zM67.90 30.49h2.44v1.81h-2.44zM84.88 30.49h2.44v1.81h-2.44zM101.85 30.49h2.44v1.81h-2.44zM104.27 30.49h2.44v1.81h-2.44zM109.12 30.49h2.44v1.81h-2.44zM130.95 30.49h2.44v1.81h-2.44zM135.80 30.49h2.44v1.81h-2.44zM4.85 32.28h2.44v1.81h-2.44zM9.70 32.28h2.44v1.81h-2.44zM19.40 32.28h2.44v1.81h-2.44zM26.67 32.28h2.44v1.81h-2.44zM41.22 32.28h2.44v1.81h-2.44zM58.20 32.28h2.44v1.81h-2.44zM77.60 32.28h2.44v1.81h-2.44zM113.97 32.28h2.44v1.81h-2.44zM121.25 32.28h2.44v1.81h-2.44zM128.52 32.28h2.44v1.81h-2.44zM133.38 32.28h2.44v1.81h-2.44zM143.07 32.28h2.44v1.81h-2.44zM14.55 34.07h2.44v1.81h-2.44zM24.25 34.07h2.44v1.81h-2.44zM48.50 34.07h2.44v1.81h-2.44zM50.92 34.07h2.44v1.81h-2.44zM53.35 34.07h2.44v1.81h-2.44zM58.20 34.07h2.44v1.81h-2.44zM80.02 34.07h2.44v1.81h-2.44zM82.45 34.07h2.44v1.81h-2.44zM89.72 34.07h2.44v1.81h-2.44zM94.57 34.07h2.44v1.81h-2.44zM99.42 34.07h2.44v1.81h-2.44zM101.85 34.07h2.44v1.81h-2.44zM113.97 34.07h2.44v1.81h-2.44zM116.40 34.07h2.44v1.81h-2.44zM4.85 35.87h2.44v1.81h-2.44zM12.12 35.87h2.44v1.81h-2.44zM19.40 35.87h2.44v1.81h-2.44zM26.67 35.87h2.44v1.81h-2.44zM46.07 35.87h2.44v1.81h-2.44zM63.05 35.87h2.44v1.81h-2.44zM65.47 35.87h2.44v1.81h-2.44zM70.32 35.87h2.44v1.81h-2.44zM72.75 35.87h2.44v1.81h-2.44zM82.45 35.87h2.44v1.81h-2.44zM84.88 35.87h2.44v1.81h-2.44zM89.72 35.87h2.44v1.81h-2.44zM104.27 35.87h2.44v1.81h-2.44zM109.12 35.87h2.44v1.81h-2.44zM111.55 35.87h2.44v1.81h-2.44zM113.97 35.87h2.44v1.81h-2.44zM123.67 35.87h2.44v1.81h-2.44zM130.95 35.87h2.44v1.81h-2.44zM133.38 35.87h2.44v1.81h-2.44zM135.80 35.87h2.44v1.81h-2.44zM140.65 35.87h2.44v1.81h-2.44zM7.27 37.66h2.44v1.81h-2.44zM21.82 37.66h2.44v1.81h-2.44zM41.22 37.66h2.44v1.81h-2.44zM46.07 37.66h2.44v1.81h-2.44zM48.50 37.66h2.44v1.81h-2.44zM111.55 37.66h2.44v1.81h-2.44zM12.12 39.45h2.44v1.81h-2.44zM21.82 39.45h2.44v1.81h-2.44zM60.62 39.45h2.44v1.81h-2.44zM63.05 39.45h2.44v1.81h-2.44zM89.72 39.45h2.44v1.81h-2.44zM92.15 39.45h2.44v1.81h-2.44zM118.82 39.45h2.44v1.81h-2.44zM123.67 39.45h2.44v1.81h-2.44zM133.38 39.45h2.44v1.81h-2.44zM140.65 39.45h2.44v1.81h-2.44zM21.82 41.25h2.44v1.81h-2.44zM24.25 41.25h2.44v1.81h-2.44zM26.67 41.25h2.44v1.81h-2.44zM50.92 41.25h2.44v1.81h-2.44zM60.62 41.25h2.44v1.81h-2.44zM67.90 41.25h2.44v1.81h-2.44zM87.30 41.25h2.44v1.81h-2.44zM89.72 41.25h2.44v1.81h-2.44zM94.57 41.25h2.44v1.81h-2.44zM111.55 41.25h2.44v1.81h-2.44zM116.40 41.25h2.44v1.81h-2.44zM130.95 41.25h2.44v1.81h-2.44zM143.07 41.25h2.44v1.81h-2.44zM21.82 43.04h2.44v1.81h-2.44zM46.07 43.04h2.44v1.81h-2.44zM70.32 43.04h2.44v1.81h-2.44zM94.57 43.04h2.44v1.81h-2.44zM106.70 43.04h2.44v1.81h-2.44zM109.12 43.04h2.44v1.81h-2.44zM121.25 43.04h2.44v1.81h-2.44zM126.10 43.04h2.44v1.81h-2.44zM128.52 43.04h2.44v1.81h-2.44zM130.95 43.04h2.44v1.81h-2.44zM138.22 43.04h2.44v1.81h-2.44zM140.65 43.04h2.44v1.81h-2.44zM14.55 44.83h2.44v1.81h-2.44zM41.22 44.83h2.44v1.81h-2.44zM50.92 44.83h2.44v1.81h-2.44zM58.20 44.83h2.44v1.81h-2.44zM67.90 44.83h2.44v1.81h-2.44zM82.45 44.83h2.44v1.81h-2.44zM84.88 44.83h2.44v1.81h-2.44zM94.57 44.83h2.44v1.81h-2.44zM123.67 44.83h2.44v1.81h-2.44zM9.70 46.63h2.44v1.81h-2.44zM12.12 46.63h2.44v1.81h-2.44zM21.82 46.63h2.44v1.81h-2.44zM29.10 46.63h2.44v1.81h-2.44zM31.52 46.63h2.44v1.81h-2.44zM38.80 46.63h2.44v1.81h-2.44zM41.22 46.63h2.44v1.81h-2.44zM46.07 46.63h2.44v1.81h-2.44zM118.82 46.63h2.44v1.81h-2.44zM123.67 46.63h2.44v1.81h-2.44zM0.00 48.42h2.44v1.81h-2.44zM12.12 48.42h2.44v1.81h-2.44zM14.55 48.42h2.44v1.81h-2.44zM19.40 48.42h2.44v1.81h-2.44zM29.10 48.42h2.44v1.81h-2.44zM43.65 48.42h2.44v1.81h-2.44zM75.17 48.42h2.44v1.81h-2.44zM116.40 48.42h2.44v1.81h-2.44zM140.65 48.42h2.44v1.81h-2.44zM0.00 50.21h2.44v1.81h-2.44zM24.25 50.21h2.44v1.81h-2.44zM36.38 50.21h2.44v1.81h-2.44zM41.22 50.21h2.44v1.81h-2.44zM46.07 50.21h2.44v1.81h-2.44zM75.17 50.21h2.44v1.81h-2.44zM89.72 50.21h2.44v1.81h-2.44zM97.00 50.21h2.44v1.81h-2.44zM99.42 50.21h2.44v1.81h-2.44zM116.40 50.21h2.44v1.81h-2.44zM128.52 50.21h2.44v1.81h-2.44zM4.85 52.01h2.44v1.81h-2.44zM14.55 52.01h2.44v1.81h-2.44zM16.97 52.01h2.44v1.81h-2.44zM33.95 52.01h2.44v1.81h-2.44zM38.80 52.01h2.44v1.81h-2.44zM60.62 52.01h2.44v1.81h-2.44zM67.90 52.01h2.44v1.81h-2.44zM80.02 52.01h2.44v1.81h-2.44zM104.27 52.01h2.44v1.81h-2.44zM111.55 52.01h2.44v1.81h-2.44zM116.40 52.01h2.44v1.81h-2.44zM126.10 52.01h2.44v1.81h-2.44zM140.65 52.01h2.44v1.81h-2.44zM7.27 53.80h2.44v1.81h-2.44zM26.67 53.80h2.44v1.81h-2.44zM46.07 53.80h2.44v1.81h-2.44zM50.92 53.80h2.44v1.81h-2.44zM101.85 53.80h2.44v1.81h-2.44zM109.12 53.80h2.44v1.81h-2.44zM133.38 53.80h2.44v1.81h-2.44zM43.65 55.59h2.44v1.81h-2.44zM46.07 55.59h2.44v1.81h-2.44zM77.60 55.59h2.44v1.81h-2.44zM97.00 55.59h2.44v1.81h-2.44zM113.97 55.59h2.44v1.81h-2.44zM126.10 55.59h2.44v1.81h-2.44zM2.42 57.39h2.44v1.81h-2.44zM7.27 57.39h2.44v1.81h-2.44zM26.67 57.39h2.44v1.81h-2.44zM33.95 57.39h2.44v1.81h-2.44zM38.80 57.39h2.44v1.81h-2.44zM65.47 57.39h2.44v1.81h-2.44zM70.32 57.39h2.44v1.81h-2.44zM77.60 57.39h2.44v1.81h-2.44zM82.45 57.39h2.44v1.81h-2.44zM99.42 57.39h2.44v1.81h-2.44zM113.97 57.39h2.44v1.81h-2.44zM130.95 57.39h2.44v1.81h-2.44zM4.85 59.18h2.44v1.81h-2.44zM21.82 59.18h2.44v1.81h-2.44zM31.52 59.18h2.44v1.81h-2.44zM33.95 59.18h2.44v1.81h-2.44zM41.22 59.18h2.44v1.81h-2.44zM50.92 59.18h2.44v1.81h-2.44zM60.62 59.18h2.44v1.81h-2.44zM77.60 59.18h2.44v1.81h-2.44zM104.27 59.18h2.44v1.81h-2.44zM106.70 59.18h2.44v1.81h-2.44zM116.40 59.18h2.44v1.81h-2.44zM128.52 59.18h2.44v1.81h-2.44zM133.38 59.18h2.44v1.81h-2.44zM12.12 60.97h2.44v1.81h-2.44zM16.97 60.97h2.44v1.81h-2.44zM29.10 60.97h2.44v1.81h-2.44zM87.30 60.97h2.44v1.81h-2.44zM106.70 60.97h2.44v1.81h-2.44zM118.82 60.97h2.44v1.81h-2.44zM126.10 60.97h2.44v1.81h-2.44zM133.38 60.97h2.44v1.81h-2.44zM9.70 62.77h2.44v1.81h-2.44zM12.12 62.77h2.44v1.81h-2.44zM41.22 62.77h2.44v1.81h-2.44zM43.65 62.77h2.44v1.81h-2.44zM118.82 62.77h2.44v1.81h-2.44zM130.95 62.77h2.44v1.81h-2.44zM140.65 62.77h2.44v1.81h-2.44zM2.42 64.56h2.44v1.81h-2.44zM7.27 64.56h2.44v1.81h-2.44zM38.80 64.56h2.44v1.81h-2.44zM41.22 64.56h2.44v1.81h-2.44zM46.07 64.56h2.44v1.81h-2.44zM84.88 64.56h2.44v1.81h-2.44zM94.57 64.56h2.44v1.81h-2.44zM104.27 64.56h2.44v1.81h-2.44zM50.92 66.35h2.44v1.81h-2.44zM104.27 66.35h2.44v1.81h-2.44zM109.12 66.35h2.44v1.81h-2.44zM121.25 66.35h2.44v1.81h-2.44zM128.52 66.35h2.44v1.81h-2.44zM135.80 66.35h2.44v1.81h-2.44zM21.82 68.15h2.44v1.81h-2.44zM24.25 68.15h2.44v1.81h-2.44zM29.10 68.15h2.44v1.81h-2.44zM46.07 68.15h2.44v1.81h-2.44zM65.47 68.15h2.44v1.81h-2.44zM67.90 68.15h2.44v1.81h-2.44zM70.32 68.15h2.44v1.81h-2.44zM72.75 68.15h2.44v1.81h-2.44zM113.97 68.15h2.44v1.81h-2.44zM123.67 68.15h2.44v1.81h-2.44zM130.95 68.15h2.44v1.81h-2.44zM14.55 69.94h2.44v1.81h-2.44zM24.25 69.94h2.44v1.81h-2.44zM29.10 69.94h2.44v1.81h-2.44zM38.80 69.94h2.44v1.81h-2.44zM77.60 69.94h2.44v1.81h-2.44zM80.02 69.94h2.44v1.81h-2.44zM82.45 69.94h2.44v1.81h-2.44zM87.30 69.94h2.44v1.81h-2.44zM101.85 69.94h2.44v1.81h-2.44zM104.27 69.94h2.44v1.81h-2.44zM113.97 69.94h2.44v1.81h-2.44zM135.80 69.94h2.44v1.81h-2.44zM143.07 69.94h2.44v1.81h-2.44zM82.45 71.73h2.44v1.81h-2.44zM101.85 71.73h2.44v1.81h-2.44zM123.67 71.73h2.44v1.81h-2.44zM130.95 71.73h2.44v1.81h-2.44zM138.22 71.73h2.44v1.81h-2.44zM143.07 71.73h2.44v1.81h-2.44zM31.52 73.53h2.44v1.81h-2.44zM46.07 73.53h2.44v1.81h-2.44zM72.75 73.53h2.44v1.81h-2.44zM99.42 73.53h2.44v1.81h-2.44zM101.85 73.53h2.44v1.81h-2.44zM111.55 73.53h2.44v1.81h-2.44zM113.97 73.53h2.44v1.81h-2.44zM31.52 75.32h2.44v1.81h-2.44zM55.77 75.32h2.44v1.81h-2.44zM58.20 75.32h2.44v1.81h-2.44zM77.60 75.32h2.44v1.81h-2.44zM80.02 75.32h2.44v1.81h-2.44zM113.97 75.32h2.44v1.81h-2.44zM143.07 75.32h2.44v1.81h-2.44zM7.27 77.11h2.44v1.81h-2.44zM14.55 77.11h2.44v1.81h-2.44zM24.25 77.11h2.44v1.81h-2.44zM31.52 77.11h2.44v1.81h-2.44zM38.80 77.11h2.44v1.81h-2.44zM41.22 77.11h2.44v1.81h-2.44zM43.65 77.11h2.44v1.81h-2.44zM48.50 77.11h2.44v1.81h-2.44zM58.20 77.11h2.44v1.81h-2.44zM65.47 77.11h2.44v1.81h-2.44zM70.32 77.11h2.44v1.81h-2.44zM75.17 77.11h2.44v1.81h-2.44zM94.57 77.11h2.44v1.81h-2.44zM101.85 77.11h2.44v1.81h-2.44zM109.12 77.11h2.44v1.81h-2.44zM123.67 77.11h2.44v1.81h-2.44zM135.80 77.11h2.44v1.81h-2.44zM140.65 77.11h2.44v1.81h-2.44zM12.12 78.91h2.44v1.81h-2.44zM19.40 78.91h2.44v1.81h-2.44zM33.95 78.91h2.44v1.81h-2.44zM46.07 78.91h2.44v1.81h-2.44zM55.77 78.91h2.44v1.81h-2.44zM63.05 78.91h2.44v1.81h-2.44zM65.47 78.91h2.44v1.81h-2.44zM84.88 78.91h2.44v1.81h-2.44zM111.55 78.91h2.44v1.81h-2.44zM113.97 78.91h2.44v1.81h-2.44zM121.25 78.91h2.44v1.81h-2.44zM123.67 78.91h2.44v1.81h-2.44zM138.22 78.91h2.44v1.81h-2.44zM4.85 80.70h2.44v1.81h-2.44zM9.70 80.70h2.44v1.81h-2.44zM16.97 80.70h2.44v1.81h-2.44zM33.95 80.70h2.44v1.81h-2.44zM50.92 80.70h2.44v1.81h-2.44zM53.35 80.70h2.44v1.81h-2.44zM109.12 80.70h2.44v1.81h-2.44zM111.55 80.70h2.44v1.81h-2.44zM118.82 80.70h2.44v1.81h-2.44zM138.22 80.70h2.44v1.81h-2.44zM140.65 80.70h2.44v1.81h-2.44zM0.00 82.49h2.44v1.81h-2.44zM9.70 82.49h2.44v1.81h-2.44zM33.95 82.49h2.44v1.81h-2.44zM50.92 82.49h2.44v1.81h-2.44zM75.17 82.49h2.44v1.81h-2.44zM77.60 82.49h2.44v1.81h-2.44zM80.02 82.49h2.44v1.81h-2.44zM106.70 82.49h2.44v1.81h-2.44zM113.97 82.49h2.44v1.81h-2.44zM123.67 82.49h2.44v1.81h-2.44zM130.95 82.49h2.44v1.81h-2.44zM133.38 82.49h2.44v1.81h-2.44zM4.85 84.29h2.44v1.81h-2.44zM7.27 84.29h2.44v1.81h-2.44zM12.12 84.29h2.44v1.81h-2.44zM21.82 84.29h2.44v1.81h-2.44zM48.50 84.29h2.44v1.81h-2.44zM55.77 84.29h2.44v1.81h-2.44zM58.20 84.29h2.44v1.81h-2.44zM60.62 84.29h2.44v1.81h-2.44zM87.30 84.29h2.44v1.81h-2.44zM92.15 84.29h2.44v1.81h-2.44zM113.97 84.29h2.44v1.81h-2.44zM7.27 86.08h2.44v1.81h-2.44zM9.70 86.08h2.44v1.81h-2.44zM14.55 86.08h2.44v1.81h-2.44zM16.97 86.08h2.44v1.81h-2.44zM26.67 86.08h2.44v1.81h-2.44zM29.10 86.08h2.44v1.81h-2.44zM36.38 86.08h2.44v1.81h-2.44zM65.47 86.08h2.44v1.81h-2.44zM99.42 86.08h2.44v1.81h-2.44zM109.12 86.08h2.44v1.81h-2.44zM111.55 86.08h2.44v1.81h-2.44zM121.25 86.08h2.44v1.81h-2.44zM126.10 86.08h2.44v1.81h-2.44zM12.12 87.87h2.44v1.81h-2.44zM41.22 87.87h2.44v1.81h-2.44zM60.62 87.87h2.44v1.81h-2.44zM63.05 87.87h2.44v1.81h-2.44zM84.88 87.87h2.44v1.81h-2.44zM89.72 87.87h2.44v1.81h-2.44zM97.00 87.87h2.44v1.81h-2.44zM99.42 87.87h2.44v1.81h-2.44zM111.55 87.87h2.44v1.81h-2.44zM130.95 87.87h2.44v1.81h-2.44zM135.80 87.87h2.44v1.81h-2.44zM138.22 87.87h2.44v1.81h-2.44z"/>
<path fill="#777777" d="M12.12 0.00h2.44v1.81h-2.44zM24.25 0.00h2.44v1.81h-2.44zM33.95 0.00h2.44v1.81h-2.44zM38.80 0.00h2.44v1.81h-2.44zM53.35 0.00h2.44v1.81h-2.44zM75.17 0.00h2.44v1.81h-2.44zM77.60 0.00h2.44v1.81h-2.44zM92.15 0.00h2.44v1.81h-2.44zM104.27 0.00h2.44v1.81h-2.44zM109.12 0.00h2.44v1.81h-2.44zM111.55 0.00h2.44v1.81h-2.44zM7.27 1.79h2.44v1.81h-2.44zM14.55 1.79h2.44v1.81h-2.44zM16.97 1.79h2.44v1.81h-2.44zM26.67 1.79h2.44v1.81h-2.44zM29.10 1.79h2.44v1.81h-2.44zM67.90 1.79h2.44v1.81h-2.44zM72.75 1.79h2.44v1.81h-2.44zM89.72 1.79h2.44v1.81h-2.44zM101.85 1.79h2.44v1.81h-2.44zM106.70 1.79h2.44v1.81h-2.44zM118.82 1.79h2.44v1.81h-2.44zM126.10 1.79h2.44v1.81h-2.44zM135.80 1.79h2.44v1.81h-2.44zM4.85 3.59h2.44v1.81h-2.44zM14.55 3.59h2.44v1.81h-2.44zM21.82 3.59h2.44v1.81h-2.44zM26.67 3.59h2.44v1.81h-2.44zM41.22 3.59h2.44v1.81h-2.44zM58.20 3.59h2.44v1.81h-2.44zM72.75 3.59h2.44v1.81h-2.44zM97.00 3.59h2.44v1.81h-2.44zM109.12 3.59h2.44v1.81h-2.44zM140.65 3.59h2.44v1.81h-2.44zM0.00 5.38h2.44v1.81h-2.44zM19.40 5.38h2.44v1.81h-2.44zM26.67 5.38h2.44v1.81h-2.44zM33.95 5.38h2.44v1.81h-2.44zM38.80 5.38h2.44v1.81h-2.44zM55.77 5.38h2.44v1.81h-2.44zM80.02 5.38h2.44v1.81h-2.44zM87.30 5.38h2.44v1.81h-2.44zM92.15 5.38h2.44v1.81h-2.44zM94.57 5.38h2.44v1.81h-2.44zM113.97 5.38h2.44v1.81h-2.44zM0.00 7.17h2.44v1.81h-2.44zM4.85 7.17h2.44v1.81h-2.44zM19.40 7.17h2.44v1.81h-2.44zM26.67 7.17h2.44v1.81h-2.44zM36.38 7.17h2.44v1.81h-2.44zM38.80 7.17h2.44v1.81h-2.44zM53.35 7.17h2.44v1.81h-2.44zM72.75 7.17h2.44v1.81h-2.44zM84.88 7.17h2.44v1.81h-2.44zM89.72 7.17h2.44v1.81h-2.44zM101.85 7.17h2.44v1.81h-2.44zM104.27 7.17h2.44v1.81h-2.44zM106.70 7.17h2.44v1.81h-2.44zM118.82 7.17h2.44v1.81h-2.44zM133.38 7.17h2.44v1.81h-2.44zM4.85 8.97h2.44v1.81h-2.44zM63.05 8.97h2.44v1.81h-2.44zM67.90 8.97h2.44v1.81h-2.44zM77.60 8.97h2.44v1.81h-2.44zM92.15 8.97h2.44v1.81h-2.44zM121.25 8.97h2.44v1.81h-2.44zM123.67 8.97h2.44v1.81h-2.44zM138.22 8.97h2.44v1.81h-2.44zM143.07 8.97h2.44v1.81h-2.44zM2.42 10.76h2.44v1.81h-2.44zM14.55 10.76h2.44v1.81h-2.44zM21.82 10.76h2.44v1.81h-2.44zM24.25 10.76h2.44v1.81h-2.44zM31.52 10.76h2.44v1.81h-2.44zM33.95 10.76h2.44v1.81h-2.44zM46.07 10.76h2.44v1.81h-2.44zM48.50 10.76h2.44v1.81h-2.44zM80.02 10.76h2.44v1.81h-2.44zM87.30 10.76h2.44v1.81h-2.44zM92.15 10.76h2.44v1.81h-2.44zM126.10 10.76h2.44v1.81h-2.44zM12.12 12.55h2.44v1.81h-2.44zM19.40 12.55h2.44v1.81h-2.44zM26.67 12.55h2.44v1.81h-2.44zM33.95 12.55h2.44v1.81h-2.44zM50.92 12.55h2.44v1.81h-2.44zM70.32 12.55h2.44v1.81h-2.44zM77.60 12.55h2.44v1.81h-2.44zM82.45 12.55h2.44v1.81h-2.44zM89.72 12.55h2.44v1.81h-2.44zM106.70 12.55h2.44v1.81h-2.44zM109.12 12.55h2.44v1.81h-2.44zM111.55 12.55h2.44v1.81h-2.44zM121.25 12.55h2.44v1.81h-2.44zM140.65 12.55h2.44v1.81h-2.44zM0.00 14.35h2.44v1.81h-2.44zM16.97 14.35h2.44v1.81h-2.44zM50.92 14.35h2.44v1.81h-2.44zM53.35 14.35h2.44v1.81h-2.44zM58.20 14.35h2.44v1.81h-2.44zM60.62 14.35h2.44v1.81h-2.44zM65.47 14.35h2.44v1.81h-2.44zM80.02 14.35h2.44v1.81h-2.44zM97.00 14.35h2.44v1.81h-2.44zM106.70 14.35h2.44v1.81h-2.44zM109.12 14.35h2.44v1.81h-2.44zM118.82 14.35h2.44v1.81h-2.44zM121.25 14.35h2.44v1.81h-2.44zM140.65 14.35h2.44v1.81h-2.44zM143.07 14.35h2.44v1.81h-2.44zM7.27 16.14h2.44v1.81h-2.44zM16.97 16.14h2.44v1.81h-2.44zM24.25 16.14h2.44v1.81h-2.44zM38.80 16.14h2.44v1.81h-2.44zM41.22 16.14h2.44v1.81h-2.44zM65.47 16.14h2.44v1.81h-2.44zM72.75 16.14h2.44v1.81h-2.44zM80.02 16.14h2.44v1.81h-2.44zM82.45 16.14h2.44v1.81h-2.44zM89.72 16.14h2.44v1.81h-2.44zM111.55 16.14h2.44v1.81h-2.44zM113.97 16.14h2.44v1.81h-2.44zM126.10 16.14h2.44v1.81h-2.44zM128.52 16.14h2.44v1.81h-2.44zM138.22 16.14h2.44v1.81h-2.44zM4.85 17.93h2.44v1.81h-2.44zM16.97 17.93h2.44v1.81h-2.44zM31.52 17.93h2.44v1.81h-2.44zM33.95 17.93h2.44v1.81h-2.44zM41.22 17.93h2.44v1.81h-2.44zM43.65 17.93h2.44v1.81h-2.44zM53.35 17.93h2.44v1.81h-2.44zM55.77 17.93h2.44v1.81h-2.44zM97.00 17.93h2.44v1.81h-2.44zM126.10 17.93h2.44v1.81h-2.44zM133.38 17.93h2.44v1.81h-2.44zM135.80 17.93h2.44v1.81h-2.44zM0.00 19.73h2.44v1.81h-2.44zM19.40 19.73h2.44v1.81h-2.44zM26.67 19.73h2.44v1.81h-2.44zM29.10 19.73h2.44v1.81h-2.44zM55.77 19.73h2.44v1.81h-2.44zM63.05 19.73h2.44v1.81h-2.44zM89.72 19.73h2.44v1.81h-2.44zM121.25 19.73h2.44v1.81h-2.44zM126.10 19.73h2.44v1.81h-2.44zM138.22 19.73h2.44v1.81h-2.44zM0.00 21.52h2.44v1.81h-2.44zM2.42 21.52h2.44v1.81h-2.44zM16.97 21.52h2.44v1.81h-2.44zM21.82 21.52h2.44v1.81h-2.44zM26.67 21.52h2.44v1.81h-2.44zM31.52 21.52h2.44v1.81h-2.44zM41.22 21.52h2.44v1.81h-2.44zM48.50 21.52h2.44v1.81h-2.44zM53.35 21.52h2.44v1.81h-2.44zM55.77 21.52h2.44v1.81h-2.44zM60.62 21.52h2.44v1.81h-2.44zM63.05 21.52h2.44v1.81h-2.44zM84.88 21.52h2.44v1.81h-2.44zM101.85 21.52h2.44v1.81h-2.44zM109.12 21.52h2.44v1.81h-2.44zM118.82 21.52h2.44v1.81h-2.44zM126.10 21.52h2.44v1.81h-2.44zM128.52 21.52h2.44v1.81h-2.44zM7.27 23.31h2.44v1.81h-2.44zM9.70 23.31h2.44v1.81h-2.44zM41.22 23.31h2.44v1.81h-2.44zM46.07 23.31h2.44v1.81h-2.44zM48.50 23.31h2.44v1.81h-2.44zM75.17 23.31h2.44v1.81h-2.44zM80.02 23.31h2.44v1.81h-2.44zM99.42 23.31h2.44v1.81h-2.44zM109.12 23.31h2.44v1.81h-2.44zM121.25 23.31h2.44v1.81h-2.44zM123.67 23.31h2.44v1.81h-2.44zM126.10 23.31h2.44v1.81h-2.44zM130.95 23.31h2.44v1.81h-2.44zM143.07 23.31h2.44v1.81h-2.44zM0.00 25.11h2.44v1.81h-2.44zM4.85 25.11h2.44v1.81h-2.44zM19.40 25.11h2.44v1.81h-2.44zM31.52 25.11h2.44v1.81h-2.44zM53.35 25.11h2.44v1.81h-2.44zM72.75 25.11h2.44v1.81h-2.44zM77.60 25.11h2.44v1.81h-2.44zM80.02 25.11h2.44v1.81h-2.44zM82.45 25.11h2.44v1.81h-2.44zM104.27 25.11h2.44v1.81h-2.44zM106.70 25.11h2.44v1.81h-2.44zM109.12 25.11h2.44v1.81h-2.44zM118.82 25.11h2.44v1.81h-2.44zM140.65 25.11h2.44v1.81h-2.44zM0.00 26.90h2.44v1.81h-2.44zM14.55 26.90h2.44v1.81h-2.44zM38.80 26.90h2.44v1.81h-2.44zM84.88 26.90h2.44v1.81h-2.44zM97.00 26.90h2.44v1.81h-2.44zM99.42 26.90h2.44v1.81h-2.44zM113.97 26.90h2.44v1.81h-2.44zM123.67 26.90h2.44v1.81h-2.44zM130.95 26.90h2.44v1.81h-2.44zM140.65 26.90h2.44v1.81h-2.44zM143.07 26.90h2.44v1.81h-2.44zM4.85 28.69h2.44v1.81h-2.44zM9.70 28.69h2.44v1.81h-2.44zM26.67 28.69h2.44v1.81h-2.44zM46.07 28.69h2.44v1.81h-2.44zM48.50 28.69h2.44v1.81h-2.44zM60.62 28.69h2.44v1.81h-2.44zM70.32 28.69h2.44v1.81h-2.44zM75.17 28.69h2.44v1.81h-2.44zM84.88 28.69h2.44v1.81h-2.44zM97.00 28.69h2.44v1.81h-2.44zM101.85 28.69h2.44v1.81h-2.44zM126.10 28.69h2.44v1.81h-2.44zM133.38 28.69h2.44v1.81h-2.44zM7.27 30.49h2.44v1.81h-2.44zM14.55 30.49h2.44v1.81h-2.44zM21.82 30.49h2.44v1.81h-2.44zM36.38 30.49h2.44v1.81h-2.44zM38.80 30.49h2.44v1.81h-2.44zM43.65 30.49h2.44v1.81h-2.44zM77.60 30.49h2.44v1.81h-2.44zM87.30 30.49h2.44v1.81h-2.44zM92.15 30.49h2.44v1.81h-2.44zM113.97 30.49h2.44v1.81h-2.44zM118.82 30.49h2.44v1.81h-2.44zM121.25 30.49h2.44v1.81h-2.44zM123.67 30.49h2.44v1.81h-2.44zM126.10 30.49h2.44v1.81h-2.44zM2.42 32.28h2.44v1.81h-2.44zM21.82 32.28h2.44v1.81h-2.44zM29.10 32.28h2.44v1.81h-2.44zM31.52 32.28h2.44v1.81h-2.44zM33.95 32.28h2.44v1.81h-2.44zM38.80 32.28h2.44v1.81h-2.44zM63.05 32.28h2.44v1.81h-2.44zM67.90 32.28h2.44v1.81h-2.44zM70.32 32.28h2.44v1.81h-2.44zM82.45 32.28h2.44v1.81h-2.44zM104.27 32.28h2.44v1.81h-2.44zM106.70 32.28h2.44v1.81h-2.44zM109.12 32.28h2.44v1.81h-2.44zM116.40 32.28h2.44v1.81h-2.44zM123.67 32.28h2.44v1.81h-2.44zM135.80 32.28h2.44v1.81h-2.44zM4.85 34.07h2.44v1.81h-2.44zM16.97 34.07h2.44v1.81h-2.44zM21.82 34.07h2.44v1.81h-2.44zM26.67 34.07h2.44v1.81h-2.44zM33.95 34.07h2.44v1.81h-2.44zM67.90 34.07h2.44v1.81h-2.44zM70.32 34.07h2.44v1.81h-2.44zM72.75 34.07h2.44v1.81h-2.44zM75.17 34.07h2.44v1.81h-2.44zM77.60 34.07h2.44v1.81h-2.44zM92.15 34.07h2.44v1.81h-2.44zM121.25 34.07h2.44v1.81h-2.44zM126.10 34.07h2.44v1.81h-2.44zM135.80 34.07h2.44v1.81h-2.44zM143.07 34.07h2.44v1.81h-2.44zM16.97 35.87h2.44v1.81h-2.44zM41.22 35.87h2.44v1.81h-2.44zM48.50 35.87h2.44v1.81h-2.44zM53.35 35.87h2.44v1.81h-2.44zM55.77 35.87h2.44v1.81h-2.44zM67.90 35.87h2.44v1.81h-2.44zM75.17 35.87h2.44v1.81h-2.44zM80.02 35.87h2.44v1.81h-2.44zM97.00 35.87h2.44v1.81h-2.44zM121.25 35.87h2.44v1.81h-2.44zM128.52 35.87h2.44v1.81h-2.44zM2.42 37.66h2.44v1.81h-2.44zM4.85 37.66h2.44v1.81h-2.44zM9.70 37.66h2.44v1.81h-2.44zM24.25 37.66h2.44v1.81h-2.44zM29.10 37.66h2.44v1.81h-2.44zM31.52 37.66h2.44v1.81h-2.44zM36.38 37.66h2.44v1.81h-2.44zM50.92 37.66h2.44v1.81h-2.44zM53.35 37.66h2.44v1.81h-2.44zM60.62 37.66h2.44v1.81h-2.44zM63.05 37.66h2.44v1.81h-2.44zM72.75 37.66h2.44v1.81h-2.44zM75.17 37.66h2.44v1.81h-2.44zM87.30 37.66h2.44v1.81h-2.44zM97.00 37.66h2.44v1.81h-2.44zM109.12 37.66h2.44v1.81h-2.44zM113.97 37.66h2.44v1.81h-2.44zM116.40 37.66h2.44v1.81h-2.44zM121.25 37.66h2.44v1.81h-2.44zM123.67 37.66h2.44v1.81h-2.44zM126.10 37.66h2.44v1.81h-2.44zM2.42 39.45h2.44v1.81h-2.44zM7.27 39.45h2.44v1.81h-2.44zM26.67 39.45h2.44v1.81h-2.44zM33.95 39.45h2.44v1.81h-2.44zM38.80 39.45h2.44v1.81h-2.44zM53.35 39.45h2.44v1.81h-2.44zM70.32 39.45h2.44v1.81h-2.44zM72.75 39.45h2.44v1.81h-2.44zM80.02 39.45h2.44v1.81h-2.44zM87.30 39.45h2.44v1.81h-2.44zM94.57 39.45h2.44v1.81h-2.44zM97.00 39.45h2.44v1.81h-2.44zM104.27 39.45h2.44v1.81h-2.44zM113.97 39.45h2.44v1.81h-2.44zM121.25 39.45h2.44v1.81h-2.44zM135.80 39.45h2.44v1.81h-2.44zM2.42 41.25h2.44v1.81h-2.44zM7.27 41.25h2.44v1.81h-2.44zM33.95 41.25h2.44v1.81h-2.44zM36.38 41.25h2.44v1.81h-2.44zM46.07 41.25h2.44v1.81h-2.44zM53.35 41.25h2.44v1.81h-2.44zM58.20 41.25h2.44v1.81h-2.44zM65.47 41.25h2.44v1.81h-2.44zM75.17 41.25h2.44v1.81h-2.44zM77.60 41.25h2.44v1.81h-2.44zM92.15 41.25h2.44v1.81h-2.44zM101.85 41.25h2.44v1.81h-2.44zM133.38 41.25h2.44v1.81h-2.44zM138.22 41.25h2.44v1.81h-2.44zM140.65 41.25h2.44v1.81h-2.44zM2.42 43.04h2.44v1.81h-2.44zM4.85 43.04h2.44v1.81h-2.44zM12.12 43.04h2.44v1.81h-2.44zM19.40 43.04h2.44v1.81h-2.44zM26.67 43.04h2.44v1.81h-2.44zM38.80 43.04h2.44v1.81h-2.44zM53.35 43.04h2.44v1.81h-2.44zM72.75 43.04h2.44v1.81h-2.44zM0.00 44.83h2.44v1.81h-2.44zM4.85 44.83h2.44v1.81h-2.44zM9.70 44.83h2.44v1.81h-2.44zM26.67 44.83h2.44v1.81h-2.44zM29.10 44.83h2.44v1.81h-2.44zM31.52 44.83h2.44v1.81h-2.44zM33.95 44.83h2.44v1.81h-2.44zM53.35 44.83h2.44v1.81h-2.44zM60.62 44.83h2.44v1.81h-2.44zM63.05 44.83h2.44v1.81h-2.44zM72.75 44.83h2.44v1.81h-2.44zM121.25 44.83h2.44v1.81h-2.44zM126.10 44.83h2.44v1.81h-2.44zM135.80 44.83h2.44v1.81h-2.44zM140.65 44.83h2.44v1.81h-2.44zM143.07 44.83h2.44v1.81h-2.44zM7.27 46.63h2.44v1.81h-2.44zM19.40 46.63h2.44v1.81h-2.44zM26.67 46.63h2.44v1.81h-2.44zM43.65 46.63h2.44v1.81h-2.44zM55.77 46.63h2.44v1.81h-2.44zM72.75 46.63h2.44v1.81h-2.44zM80.02 46.63h2.44v1.81h-2.44zM97.00 46.63h2.44v1.81h-2.44zM99.42 46.63h2.44v1.81h-2.44zM104.27 46.63h2.44v1.81h-2.44zM113.97 46.63h2.44v1.81h-2.44zM24.25 48.42h2.44v1.81h-2.44zM31.52 48.42h2.44v1.81h-2.44zM33.95 48.42h2.44v1.81h-2.44zM41.22 48.42h2.44v1.81h-2.44zM53.35 48.42h2.44v1.81h-2.44zM55.77 48.42h2.44v1.81h-2.44zM67.90 48.42h2.44v1.81h-2.44zM82.45 48.42h2.44v1.81h-2.44zM84.88 48.42h2.44v1.81h-2.44zM104.27 48.42h2.44v1.81h-2.44zM113.97 48.42h2.44v1.81h-2.44zM121.25 48.42h2.44v1.81h-2.44zM123.67 48.42h2.44v1.81h-2.44zM130.95 48.42h2.44v1.81h-2.44zM4.85 50.21h2.44v1.81h-2.44zM12.12 50.21h2.44v1.81h-2.44zM26.67 50.21h2.44v1.81h-2.44zM29.10 50.21h2.44v1.81h-2.44zM31.52 50.21h2.44v1.81h-2.44zM53.35 50.21h2.44v1.81h-2.44zM60.62 50.21h2.44v1.81h-2.44zM63.05 50.21h2.44v1.81h-2.44zM67.90 50.21h2.44v1.81h-2.44zM87.30 50.21h2.44v1.81h-2.44zM92.15 50.21h2.44v1.81h-2.44zM111.55 50.21h2.44v1.81h-2.44zM140.65 50.21h2.44v1.81h-2.44zM0.00 52.01h2.44v1.81h-2.44zM12.12 52.01h2.44v1.81h-2.44zM24.25 52.01h2.44v1.81h-2.44zM29.10 52.01h2.44v1.81h-2.44zM43.65 52.01h2.44v1.81h-2.44zM48.50 52.01h2.44v1.81h-2.44zM50.92 52.01h2.44v1.81h-2.44zM75.17 52.01h2.44v1.81h-2.44zM84.88 52.01h2.44v1.81h-2.44zM94.57 52.01h2.44v1.81h-2.44zM97.00 52.01h2.44v1.81h-2.44zM99.42 52.01h2.44v1.81h-2.44zM113.97 52.01h2.44v1.81h-2.44zM138.22 52.01h2.44v1.81h-2.44zM2.42 53.80h2.44v1.81h-2.44zM9.70 53.80h2.44v1.81h-2.44zM16.97 53.80h2.44v1.81h-2.44zM21.82 53.80h2.44v1.81h-2.44zM58.20 53.80h2.44v1.81h-2.44zM63.05 53.80h2.44v1.81h-2.44zM65.47 53.80h2.44v1.81h-2.44zM67.90 53.80h2.44v1.81h-2.44zM82.45 53.80h2.44v1.81h-2.44zM94.57 53.80h2.44v1.81h-2.44zM97.00 53.80h2.44v1.81h-2.44zM128.52 53.80h2.44v1.81h-2.44zM130.95 53.80h2.44v1.81h-2.44zM2.42 55.59h2.44v1.81h-2.44zM9.70 55.59h2.44v1.81h-2.44zM16.97 55.59h2.44v1.81h-2.44zM19.40 55.59h2.44v1.81h-2.44zM21.82 55.59h2.44v1.81h-2.44zM24.25 55.59h2.44v1.81h-2.44zM26.67 55.59h2.44v1.81h-2.44zM29.10 55.59h2.44v1.81h-2.44zM31.52 55.59h2.44v1.81h-2.44zM41.22 55.59h2.44v1.81h-2.44zM50.92 55.59h2.44v1.81h-2.44zM53.35 55.59h2.44v1.81h-2.44zM55.77 55.59h2.44v1.81h-2.44zM58.20 55.59h2.44v1.81h-2.44zM67.90 55.59h2.44v1.81h-2.44zM75.17 55.59h2.44v1.81h-2.44zM80.02 55.59h2.44v1.81h-2.44zM84.88 55.59h2.44v1.81h-2.44zM101.85 55.59h2.44v1.81h-2.44zM104.27 55.59h2.44v1.81h-2.44zM109.12 55.59h2.44v1.81h-2.44zM111.55 55.59h2.44v1.81h-2.44zM128.52 55.59h2.44v1.81h-2.44zM24.25 57.39h2.44v1.81h-2.44zM36.38 57.39h2.44v1.81h-2.44zM46.07 57.39h2.44v1.81h-2.44zM60.62 57.39h2.44v1.81h-2.44zM75.17 57.39h2.44v1.81h-2.44zM101.85 57.39h2.44v1.81h-2.44zM106.70 57.39h2.44v1.81h-2.44zM111.55 57.39h2.44v1.81h-2.44zM123.67 57.39h2.44v1.81h-2.44zM133.38 57.39h2.44v1.81h-2.44zM135.80 57.39h2.44v1.81h-2.44zM140.65 57.39h2.44v1.81h-2.44zM2.42 59.18h2.44v1.81h-2.44zM7.27 59.18h2.44v1.81h-2.44zM12.12 59.18h2.44v1.81h-2.44zM16.97 59.18h2.44v1.81h-2.44zM19.40 59.18h2.44v1.81h-2.44zM24.25 59.18h2.44v1.81h-2.44zM38.80 59.18h2.44v1.81h-2.44zM46.07 59.18h2.44v1.81h-2.44zM55.77 59.18h2.44v1.81h-2.44zM63.05 59.18h2.44v1.81h-2.44zM67.90 59.18h2.44v1.81h-2.44zM70.32 59.18h2.44v1.81h-2.44zM75.17 59.18h2.44v1.81h-2.44zM92.15 59.18h2.44v1.81h-2.44zM94.57 59.18h2.44v1.81h-2.44zM101.85 59.18h2.44v1.81h-2.44zM109.12 59.18h2.44v1.81h-2.44zM111.55 59.18h2.44v1.81h-2.44zM135.80 59.18h2.44v1.81h-2.44zM143.07 59.18h2.44v1.81h-2.44zM2.42 60.97h2.44v1.81h-2.44zM9.70 60.97h2.44v1.81h-2.44zM31.52 60.97h2.44v1.81h-2.44zM77.60 60.97h2.44v1.81h-2.44zM84.88 60.97h2.44v1.81h-2.44zM97.00 60.97h2.44v1.81h-2.44zM99.42 60.97h2.44v1.81h-2.44zM113.97 60.97h2.44v1.81h-2.44zM121.25 60.97h2.44v1.81h-2.44zM128.52 60.97h2.44v1.81h-2.44zM26.67 62.77h2.44v1.81h-2.44zM29.10 62.77h2.44v1.81h-2.44zM38.80 62.77h2.44v1.81h-2.44zM58.20 62.77h2.44v1.81h-2.44zM75.17 62.77h2.44v1.81h-2.44zM87.30 62.77h2.44v1.81h-2.44zM97.00 62.77h2.44v1.81h-2.44zM104.27 62.77h2.44v1.81h-2.44zM111.55 62.77h2.44v1.81h-2.44zM113.97 62.77h2.44v1.81h-2.44zM133.38 62.77h2.44v1.81h-2.44zM135.80 62.77h2.44v1.81h-2.44zM138.22 62.77h2.44v1.81h-2.44zM24.25 64.56h2.44v1.81h-2.44zM50.92 64.56h2.44v1.81h-2.44zM53.35 64.56h2.44v1.81h-2.44zM60.62 64.56h2.44v1.81h-2.44zM63.05 64.56h2.44v1.81h-2.44zM67.90 64.56h2.44v1.81h-2.44zM70.32 64.56h2.44v1.81h-2.44zM87.30 64.56h2.44v1.81h-2.44zM97.00 64.56h2.44v1.81h-2.44zM99.42 64.56h2.44v1.81h-2.44zM109.12 64.56h2.44v1.81h-2.44zM121.25 64.56h2.44v1.81h-2.44zM138.22 64.56h2.44v1.81h-2.44zM140.65 64.56h2.44v1.81h-2.44zM2.42 66.35h2.44v1.81h-2.44zM12.12 66.35h2.44v1.81h-2.44zM14.55 66.35h2.44v1.81h-2.44zM19.40 66.35h2.44v1.81h-2.44zM29.10 66.35h2.44v1.81h-2.44zM92.15 66.35h2.44v1.81h-2.44zM101.85 66.35h2.44v1.81h-2.44zM2.42 68.15h2.44v1.81h-2.44zM4.85 68.15h2.44v1.81h-2.44zM7.27 68.15h2.44v1.81h-2.44zM19.40 68.15h2.44v1.81h-2.44zM41.22 68.15h2.44v1.81h-2.44zM55.77 68.15h2.44v1.81h-2.44zM84.88 68.15h2.44v1.81h-2.44zM87.30 68.15h2.44v1.81h-2.44zM89.72 68.15h2.44v1.81h-2.44zM104.27 68.15h2.44v1.81h-2.44zM106.70 68.15h2.44v1.81h-2.44zM111.55 68.15h2.44v1.81h-2.44zM121.25 68.15h2.44v1.81h-2.44zM128.52 68.15h2.44v1.81h-2.44zM7.27 69.94h2.44v1.81h-2.44zM12.12 69.94h2.44v1.81h-2.44zM21.82 69.94h2.44v1.81h-2.44zM50.92 69.94h2.44v1.81h-2.44zM58.20 69.94h2.44v1.81h-2.44zM63.05 69.94h2.44v1.81h-2.44zM72.75 69.94h2.44v1.81h-2.44zM89.72 69.94h2.44v1.81h-2.44zM106.70 69.94h2.44v1.81h-2.44zM109.12 69.94h2.44v1.81h-2.44zM123.67 69.94h2.44v1.81h-2.44zM128.52 69.94h2.44v1.81h-2.44zM133.38 69.94h2.44v1.81h-2.44zM2.42 71.73h2.44v1.81h-2.44zM24.25 71.73h2.44v1.81h-2.44zM36.38 71.73h2.44v1.81h-2.44zM46.07 71.73h2.44v1.81h-2.44zM53.35 71.73h2.44v1.81h-2.44zM60.62 71.73h2.44v1.81h-2.44zM63.05 71.73h2.44v1.81h-2.44zM84.88 71.73h2.44v1.81h-2.44zM87.30 71.73h2.44v1.81h-2.44zM94.57 71.73h2.44v1.81h-2.44zM97.00 71.73h2.44v1.81h-2.44zM109.12 71.73h2.44v1.81h-2.44zM111.55 71.73h2.44v1.81h-2.44zM113.97 71.73h2.44v1.81h-2.44zM118.82 71.73h2.44v1.81h-2.44zM126.10 71.73h2.44v1.81h-2.44zM140.65 71.73h2.44v1.81h-2.44zM12.12 73.53h2.44v1.81h-2.44zM24.25 73.53h2.44v1.81h-2.44zM26.67 73.53h2.44v1.81h-2.44zM53.35 73.53h2.44v1.81h-2.44zM65.47 73.53h2.44v1.81h-2.44zM70.32 73.53h2.44v1.81h-2.44zM75.17 73.53h2.44v1.81h-2.44zM77.60 73.53h2.44v1.81h-2.44zM82.45 73.53h2.44v1.81h-2.44zM89.72 73.53h2.44v1.81h-2.44zM94.57 73.53h2.44v1.81h-2.44zM106.70 73.53h2.44v1.81h-2.44zM126.10 73.53h2.44v1.81h-2.44zM135.80 73.53h2.44v1.81h-2.44zM138.22 73.53h2.44v1.81h-2.44zM41.22 75.32h2.44v1.81h-2.44zM43.65 75.32h2.44v1.81h-2.44zM60.62 75.32h2.44v1.81h-2.44zM106.70 75.32h2.44v1.81h-2.44zM118.82 75.32h2.44v1.81h-2.44zM123.67 75.32h2.44v1.81h-2.44zM133.38 75.32h2.44v1.81h-2.44zM2.42 77.11h2.44v1.81h-2.44zM9.70 77.11h2.44v1.81h-2.44zM16.97 77.11h2.44v1.81h-2.44zM33.95 77.11h2.44v1.81h-2.44zM67.90 77.11h2.44v1.81h-2.44zM82.45 77.11h2.44v1.81h-2.44zM99.42 77.11h2.44v1.81h-2.44zM116.40 77.11h2.44v1.81h-2.44zM128.52 77.11h2.44v1.81h-2.44zM130.95 77.11h2.44v1.81h-2.44zM7.27 78.91h2.44v1.81h-2.44zM21.82 78.91h2.44v1.81h-2.44zM29.10 78.91h2.44v1.81h-2.44zM43.65 78.91h2.44v1.81h-2.44zM53.35 78.91h2.44v1.81h-2.44zM128.52 78.91h2.44v1.81h-2.44zM130.95 78.91h2.44v1.81h-2.44zM143.07 78.91h2.44v1.81h-2.44zM19.40 80.70h2.44v1.81h-2.44zM21.82 80.70h2.44v1.81h-2.44zM29.10 80.70h2.44v1.81h-2.44zM38.80 80.70h2.44v1.81h-2.44zM41.22 80.70h2.44v1.81h-2.44zM43.65 80.70h2.44v1.81h-2.44zM58.20 80.70h2.44v1.81h-2.44zM75.17 80.70h2.44v1.81h-2.44zM77.60 80.70h2.44v1.81h-2.44zM80.02 80.70h2.44v1.81h-2.44zM104.27 80.70h2.44v1.81h-2.44zM135.80 80.70h2.44v1.81h-2.44zM4.85 82.49h2.44v1.81h-2.44zM16.97 82.49h2.44v1.81h-2.44zM29.10 82.49h2.44v1.81h-2.44zM36.38 82.49h2.44v1.81h-2.44zM41.22 82.49h2.44v1.81h-2.44zM48.50 82.49h2.44v1.81h-2.44zM53.35 82.49h2.44v1.81h-2.44zM72.75 82.49h2.44v1.81h-2.44zM87.30 82.49h2.44v1.81h-2.44zM101.85 82.49h2.44v1.81h-2.44zM104.27 82.49h2.44v1.81h-2.44zM116.40 82.49h2.44v1.81h-2.44zM140.65 82.49h2.44v1.81h-2.44zM2.42 84.29h2.44v1.81h-2.44zM16.97 84.29h2.44v1.81h-2.44zM19.40 84.29h2.44v1.81h-2.44zM29.10 84.29h2.44v1.81h-2.44zM41.22 84.29h2.44v1.81h-2.44zM46.07 84.29h2.44v1.81h-2.44zM63.05 84.29h2.44v1.81h-2.44zM80.02 84.29h2.44v1.81h-2.44zM82.45 84.29h2.44v1.81h-2.44zM99.42 84.29h2.44v1.81h-2.44zM123.67 84.29h2.44v1.81h-2.44zM133.38 84.29h2.44v1.81h-2.44zM4.85 86.08h2.44v1.81h-2.44zM12.12 86.08h2.44v1.81h-2.44zM19.40 86.08h2.44v1.81h-2.44zM46.07 86.08h2.44v1.81h-2.44zM55.77 86.08h2.44v1.81h-2.44zM77.60 86.08h2.44v1.81h-2.44zM80.02 86.08h2.44v1.81h-2.44zM92.15 86.08h2.44v1.81h-2.44zM101.85 86.08h2.44v1.81h-2.44zM128.52 86.08h2.44v1.81h-2.44zM130.95 86.08h2.44v1.81h-2.44zM140.65 86.08h2.44v1.81h-2.44zM0.00 87.87h2.44v1.81h-2.44zM9.70 87.87h2.44v1.81h-2.44zM14.55 87.87h2.44v1.81h-2.44zM29.10 87.87h2.44v1.81h-2.44zM36.38 87.87h2.44v1.81h-2.44zM72.75 87.87h2.44v1.81h-2.44zM80.02 87.87h2.44v1.81h-2.44zM82.45 87.87h2.44v1.81h-2.44zM87.30 87.87h2.44v1.81h-2.44zM106.70 87.87h2.44v1.81h-2.44zM113.97 87.87h2.44v1.81h-2.44zM118.82 87.87h2.44v1.81h-2.44zM126.10 87.87h2.44v1.81h-2.44z"/>
<path fill="#888888" d="M7.27 0.00h2.44v1.81h-2.44zM19.40 0.00h2.44v1.81h-2.44zM50.92 0.00h2.44v1.81h-2.44zM58.20 0.00h2.44v1.81h-2.44zM60.62 0.00h2.44v1.81h-2.44zM99.42 0.00h2.44v1.81h-2.44zM126.10 0.00h2.44v1.81h-2.44zM138.22 0.00h2.44v1.81h-2.44zM143.07 0.00h2.44v1.81h-2.44zM0.00 1.79h2.44v1.81h-2.44zM2.42 1.79h2.44v1.81h-2.44zM19.40 1.79h2.44v1.81h-2.44zM33.95 1.79h2.44v1.81h-2.44zM53.35 1.79h2.44v1.81h-2.44zM60.62 1.79h2.44v1.81h-2.44zM111.55 1.79h2.44v1.81h-2.44zM123.67 1.79h2.44v1.81h-2.44zM143.07 1.79h2.44v1.81h-2.44zM16.97 3.59h2.44v1.81h-2.44zM24.25 3.59h2.44v1.81h-2.44zM29.10 3.59h2.44v1.81h-2.44zM31.52 3.59h2.44v1.81h-2.44zM33.95 3.59h2.44v1.81h-2.44zM38.80 3.59h2.44v1.81h-2.44zM43.65 3.59h2.44v1.81h-2.44zM50.92 3.59h2.44v1.81h-2.44zM53.35 3.59h2.44v1.81h-2.44zM101.85 3.59h2.44v1.81h-2.44zM121.25 3.59h2.44v1.81h-2.44zM126.10 3.59h2.44v1.81h-2.44zM138.22 3.59h2.44v1.81h-2.44zM21.82 5.38h2.44v1.81h-2.44zM31.52 5.38h2.44v1.81h-2.44zM63.05 5.38h2.44v1.81h-2.44zM65.47 5.38h2.44v1.81h-2.44zM77.60 5.38h2.44v1.81h-2.44zM116.40 5.38h2.44v1.81h-2.44zM135.80 5.38h2.44v1.81h-2.44zM138.22 5.38h2.44v1.81h-2.44zM7.27 7.17h2.44v1.81h-2.44zM16.97 7.17h2.44v1.81h-2.44zM43.65 7.17h2.44v1.81h-2.44zM48.50 7.17h2.44v1.81h-2.44zM55.77 7.17h2.44v1.81h-2.44zM60.62 7.17h2.44v1.81h-2.44zM75.17 7.17h2.44v1.81h-2.44zM82.45 7.17h2.44v1.81h-2.44zM111.55 7.17h2.44v1.81h-2.44zM123.67 7.17h2.44v1.81h-2.44zM135.80 7.17h2.44v1.81h-2.44zM12.12 8.97h2.44v1.81h-2.44zM14.55 8.97h2.44v1.81h-2.44zM41.22 8.97h2.44v1.81h-2.44zM53.35 8.97h2.44v1.81h-2.44zM55.77 8.97h2.44v1.81h-2.44zM60.62 8.97h2.44v1.81h-2.44zM82.45 8.97h2.44v1.81h-2.44zM101.85 8.97h2.44v1.81h-2.44zM0.00 10.76h2.44v1.81h-2.44zM9.70 10.76h2.44v1.81h-2.44zM29.10 10.76h2.44v1.81h-2.44zM38.80 10.76h2.44v1.81h-2.44zM43.65 10.76h2.44v1.81h-2.44zM50.92 10.76h2.44v1.81h-2.44zM70.32 10.76h2.44v1.81h-2.44zM72.75 10.76h2.44v1.81h-2.44zM75.17 10.76h2.44v1.81h-2.44zM109.12 10.76h2.44v1.81h-2.44zM111.55 10.76h2.44v1.81h-2.44zM118.82 10.76h2.44v1.81h-2.44zM121.25 10.76h2.44v1.81h-2.44zM123.67 10.76h2.44v1.81h-2.44zM0.00 12.55h2.44v1.81h-2.44zM2.42 12.55h2.44v1.81h-2.44zM21.82 12.55h2.44v1.81h-2.44zM36.38 12.55h2.44v1.81h-2.44zM41.22 12.55h2.44v1.81h-2.44zM48.50 12.55h2.44v1.81h-2.44zM55.77 12.55h2.44v1.81h-2.44zM65.47 12.55h2.44v1.81h-2.44zM67.90 12.55h2.44v1.81h-2.44zM72.75 12.55h2.44v1.81h-2.44zM116.40 12.55h2.44v1.81h-2.44zM118.82 12.55h2.44v1.81h-2.44zM130.95 12.55h2.44v1.81h-2.44zM133.38 12.55h2.44v1.81h-2.44zM135.80 12.55h2.44v1.81h-2.44zM7.27 14.35h2.44v1.81h-2.44zM12.12 14.35h2.44v1.81h-2.44zM14.55 14.35h2.44v1.81h-2.44zM26.67 14.35h2.44v1.81h-2.44zM33.95 14.35h2.44v1.81h-2.44zM36.38 14.35h2.44v1.81h-2.44zM41.22 14.35h2.44v1.81h-2.44zM43.65 14.35h2.44v1.81h-2.44zM67.90 14.35h2.44v1.81h-2.44zM72.75 14.35h2.44v1.81h-2.44zM4.85 16.14h2.44v1.81h-2.44zM50.92 16.14h2.44v1.81h-2.44zM63.05 16.14h2.44v1.81h-2.44zM99.42 16.14h2.44v1.81h-2.44zM106.70 16.14h2.44v1.81h-2.44zM116.40 16.14h2.44v1.81h-2.44zM123.67 16.14h2.44v1.81h-2.44zM133.38 16.14h2.44v1.81h-2.44zM21.82 17.93h2.44v1.81h-2.44zM29.10 17.93h2.44v1.81h-2.44zM48.50 17.93h2.44v1.81h-2.44zM70.32 17.93h2.44v1.81h-2.44zM72.75 17.93h2.44v1.81h-2.44zM106.70 17.93h2.44v1.81h-2.44zM109.12 17.93h2.44v1.81h-2.44zM113.97 17.93h2.44v1.81h-2.44zM121.25 17.93h2.44v1.81h-2.44zM130.95 17.93h2.44v1.81h-2.44zM138.22 17.93h2.44v1.81h-2.44zM140.65 17.93h2.44v1.81h-2.44zM4.85 19.73h2.44v1.81h-2.44zM36.38 19.73h2.44v1.81h-2.44zM72.75 19.73h2.44v1.81h-2.44zM77.60 19.73h2.44v1.81h-2.44zM80.02 19.73h2.44v1.81h-2.44zM82.45 19.73h2.44v1.81h-2.44zM104.27 19.73h2.44v1.81h-2.44zM109.12 19.73h2.44v1.81h-2.44zM123.67 19.73h2.44v1.81h-2.44zM143.07 19.73h2.44v1.81h-2.44zM7.27 21.52h2.44v1.81h-2.44zM19.40 21.52h2.44v1.81h-2.44zM67.90 21.52h2.44v1.81h-2.44zM75.17 21.52h2.44v1.81h-2.44zM82.45 21.52h2.44v1.81h-2.44zM92.15 21.52h2.44v1.81h-2.44zM97.00 21.52h2.44v1.81h-2.44zM104.27 21.52h2.44v1.81h-2.44zM106.70 21.52h2.44v1.81h-2.44zM123.67 21.52h2.44v1.81h-2.44zM130.95 21.52h2.44v1.81h-2.44zM4.85 23.31h2.44v1.81h-2.44zM29.10 23.31h2.44v1.81h-2.44zM31.52 23.31h2.44v1.81h-2.44zM33.95 23.31h2.44v1.81h-2.44zM53.35 23.31h2.44v1.81h-2.44zM72.75 23.31h2.44v1.81h-2.44zM92.15 23.31h2.44v1.81h-2.44zM97.00 23.31h2.44v1.81h-2.44zM113.97 23.31h2.44v1.81h-2.44zM128.52 23.31h2.44v1.81h-2.44zM12.12 25.11h2.44v1.81h-2.44zM16.97 25.11h2.44v1.81h-2.44zM26.67 25.11h2.44v1.81h-2.44zM29.10 25.11h2.44v1.81h-2.44zM67.90 25.11h2.44v1.81h-2.44zM116.40 25.11h2.44v1.81h-2.44zM121.25 25.11h2.44v1.81h-2.44zM133.38 25.11h2.44v1.81h-2.44zM9.70 26.90h2.44v1.81h-2.44zM24.25 26.90h2.44v1.81h-2.44zM26.67 26.90h2.44v1.81h-2.44zM50.92 26.90h2.44v1.81h-2.44zM80.02 26.90h2.44v1.81h-2.44zM87.30 26.90h2.44v1.81h-2.44zM101.85 26.90h2.44v1.81h-2.44zM118.82 26.90h2.44v1.81h-2.44zM7.27 28.69h2.44v1.81h-2.44zM21.82 28.69h2.44v1.81h-2.44zM29.10 28.69h2.44v1.81h-2.44zM33.95 28.69h2.44v1.81h-2.44zM41.22 28.69h2.44v1.81h-2.44zM58.20 28.69h2.44v1.81h-2.44zM67.90 28.69h2.44v1.81h-2.44zM80.02 28.69h2.44v1.81h-2.44zM92.15 28.69h2.44v1.81h-2.44zM99.42 28.69h2.44v1.81h-2.44zM118.82 28.69h2.44v1.81h-2.44zM140.65 28.69h2.44v1.81h-2.44zM143.07 28.69h2.44v1.81h-2.44zM0.00 30.49h2.44v1.81h-2.44zM29.10 30.49h2.44v1.81h-2.44zM55.77 30.49h2.44v1.81h-2.44zM75.17 30.49h2.44v1.81h-2.44zM89.72 30.49h2.44v1.81h-2.44zM94.57 30.49h2.44v1.81h-2.44zM97.00 30.49h2.44v1.81h-2.44zM138.22 30.49h2.44v1.81h-2.44zM143.07 30.49h2.44v1.81h-2.44zM0.00 32.28h2.44v1.81h-2.44zM36.38 32.28h2.44v1.81h-2.44zM65.47 32.28h2.44v1.81h-2.44zM80.02 32.28h2.44v1.81h-2.44zM97.00 32.28h2.44v1.81h-2.44zM101.85 32.28h2.44v1.81h-2.44zM130.95 32.28h2.44v1.81h-2.44zM138.22 32.28h2.44v1.81h-2.44zM140.65 32.28h2.44v1.81h-2.44zM7.27 34.07h2.44v1.81h-2.44zM9.70 34.07h2.44v1.81h-2.44zM12.12 34.07h2.44v1.81h-2.44zM31.52 34.07h2.44v1.81h-2.44zM38.80 34.07h2.44v1.81h-2.44zM46.07 34.07h2.44v1.81h-2.44zM104.27 34.07h2.44v1.81h-2.44zM123.67 34.07h2.44v1.81h-2.44zM0.00 35.87h2.44v1.81h-2.44zM14.55 35.87h2.44v1.81h-2.44zM50.92 35.87h2.44v1.81h-2.44zM77.60 35.87h2.44v1.81h-2.44zM87.30 35.87h2.44v1.81h-2.44zM99.42 35.87h2.44v1.81h-2.44zM116.40 35.87h2.44v1.81h-2.44zM143.07 35.87h2.44v1.81h-2.44zM14.55 37.66h2.44v1.81h-2.44zM16.97 37.66h2.44v1.81h-2.44zM33.95 37.66h2.44v1.81h-2.44zM38.80 37.66h2.44v1.81h-2.44zM43.65 37.66h2.44v1.81h-2.44zM133.38 37.66h2.44v1.81h-2.44zM143.07 37.66h2.44v1.81h-2.44zM4.85 39.45h2.44v1.81h-2.44zM9.70 39.45h2.44v1.81h-2.44zM24.25 39.45h2.44v1.81h-2.44zM29.10 39.45h2.44v1.81h-2.44zM41.22 39.45h2.44v1.81h-2.44zM55.77 39.45h2.44v1.81h-2.44zM65.47 39.45h2.44v1.81h-2.44zM77.60 39.45h2.44v1.81h-2.44zM101.85 39.45h2.44v1.81h-2.44zM116.40 39.45h2.44v1.81h-2.44zM126.10 39.45h2.44v1.81h-2.44zM29.10 41.25h2.44v1.81h-2.44zM31.52 41.25h2.44v1.81h-2.44zM80.02 41.25h2.44v1.81h-2.44zM97.00 41.25h2.44v1.81h-2.44zM99.42 41.25h2.44v1.81h-2.44zM113.97 41.25h2.44v1.81h-2.44zM126.10 41.25h2.44v1.81h-2.44zM135.80 41.25h2.44v1.81h-2.44zM9.70 43.04h2.44v1.81h-2.44zM14.55 43.04h2.44v1.81h-2.44zM16.97 43.04h2.44v1.81h-2.44zM36.38 43.04h2.44v1.81h-2.44zM41.22 43.04h2.44v1.81h-2.44zM48.50 43.04h2.44v1.81h-2.44zM50.92 43.04h2.44v1.81h-2.44zM58.20 43.04h2.44v1.81h-2.44zM80.02 43.04h2.44v1.81h-2.44zM101.85 43.04h2.44v1.81h-2.44zM104.27 43.04h2.44v1.81h-2.44zM118.82 43.04h2.44v1.81h-2.44zM2.42 44.83h2.44v1.81h-2.44zM7.27 44.83h2.44v1.81h-2.44zM16.97 44.83h2.44v1.81h-2.44zM99.42 44.83h2.44v1.81h-2.44zM116.40 44.83h2.44v1.81h-2.44zM128.52 44.83h2.44v1.81h-2.44zM2.42 46.63h2.44v1.81h-2.44zM16.97 46.63h2.44v1.81h-2.44zM24.25 46.63h2.44v1.81h-2.44zM33.95 46.63h2.44v1.81h-2.44zM53.35 46.63h2.44v1.81h-2.44zM67.90 46.63h2.44v1.81h-2.44zM70.32 46.63h2.44v1.81h-2.44zM89.72 46.63h2.44v1.81h-2.44zM92.15 46.63h2.44v1.81h-2.44zM94.57 46.63h2.44v1.81h-2.44zM101.85 46.63h2.44v1.81h-2.44zM135.80 46.63h2.44v1.81h-2.44zM140.65 46.63h2.44v1.81h-2.44zM143.07 46.63h2.44v1.81h-2.44zM2.42 48.42h2.44v1.81h-2.44zM26.67 48.42h2.44v1.81h-2.44zM36.38 48.42h2.44v1.81h-2.44zM46.07 48.42h2.44v1.81h-2.44zM70.32 48.42h2.44v1.81h-2.44zM77.60 48.42h2.44v1.81h-2.44zM80.02 48.42h2.44v1.81h-2.44zM89.72 48.42h2.44v1.81h-2.44zM97.00 48.42h2.44v1.81h-2.44zM106.70 48.42h2.44v1.81h-2.44zM126.10 48.42h2.44v1.81h-2.44zM133.38 48.42h2.44v1.81h-2.44zM138.22 48.42h2.44v1.81h-2.44zM143.07 48.42h2.44v1.81h-2.44zM2.42 50.21h2.44v1.81h-2.44zM9.70 50.21h2.44v1.81h-2.44zM14.55 50.21h2.44v1.81h-2.44zM33.95 50.21h2.44v1.81h-2.44zM65.47 50.21h2.44v1.81h-2.44zM72.75 50.21h2.44v1.81h-2.44zM94.57 50.21h2.44v1.81h-2.44zM113.97 50.21h2.44v1.81h-2.44zM123.67 50.21h2.44v1.81h-2.44zM126.10 50.21h2.44v1.81h-2.44zM133.38 50.21h2.44v1.81h-2.44zM7.27 52.01h2.44v1.81h-2.44zM19.40 52.01h2.44v1.81h-2.44zM31.52 52.01h2.44v1.81h-2.44zM58.20 52.01h2.44v1.81h-2.44zM63.05 52.01h2.44v1.81h-2.44zM65.47 52.01h2.44v1.81h-2.44zM82.45 52.01h2.44v1.81h-2.44zM87.30 52.01h2.44v1.81h-2.44zM89.72 52.01h2.44v1.81h-2.44zM118.82 52.01h2.44v1.81h-2.44zM128.52 52.01h2.44v1.81h-2.44zM130.95 52.01h2.44v1.81h-2.44zM143.07 52.01h2.44v1.81h-2.44zM43.65 53.80h2.44v1.81h-2.44zM53.35 53.80h2.44v1.81h-2.44zM75.17 53.80h2.44v1.81h-2.44zM87.30 53.80h2.44v1.81h-2.44zM89.72 53.80h2.44v1.81h-2.44zM106.70 53.80h2.44v1.81h-2.44zM123.67 53.80h2.44v1.81h-2.44zM126.10 53.80h2.44v1.81h-2.44zM140.65 53.80h2.44v1.81h-2.44zM7.27 55.59h2.44v1.81h-2.44zM33.95 55.59h2.44v1.81h-2.44zM36.38 55.59h2.44v1.81h-2.44zM48.50 55.59h2.44v1.81h-2.44zM60.62 55.59h2.44v1.81h-2.44zM65.47 55.59h2.44v1.81h-2.44zM94.57 55.59h2.44v1.81h-2.44zM116.40 55.59h2.44v1.81h-2.44zM123.67 55.59h2.44v1.81h-2.44zM130.95 55.59h2.44v1.81h-2.44zM0.00 57.39h2.44v1.81h-2.44zM12.12 57.39h2.44v1.81h-2.44zM41.22 57.39h2.44v1.81h-2.44zM67.90 57.39h2.44v1.81h-2.44zM87.30 57.39h2.44v1.81h-2.44zM94.57 57.39h2.44v1.81h-2.44zM116.40 57.39h2.44v1.81h-2.44zM143.07 57.39h2.44v1.81h-2.44zM65.47 59.18h2.44v1.81h-2.44zM72.75 59.18h2.44v1.81h-2.44zM82.45 59.18h2.44v1.81h-2.44zM84.88 59.18h2.44v1.81h-2.44zM87.30 59.18h2.44v1.81h-2.44zM118.82 59.18h2.44v1.81h-2.44zM121.25 59.18h2.44v1.81h-2.44zM123.67 59.18h2.44v1.81h-2.44zM130.95 59.18h2.44v1.81h-2.44zM140.65 59.18h2.44v1.81h-2.44zM0.00 60.97h2.44v1.81h-2.44zM19.40 60.97h2.44v1.81h-2.44zM24.25 60.97h2.44v1.81h-2.44zM41.22 60.97h2.44v1.81h-2.44zM43.65 60.97h2.44v1.81h-2.44zM80.02 60.97h2.44v1.81h-2.44zM92.15 60.97h2.44v1.81h-2.44zM111.55 60.97h2.44v1.81h-2.44zM138.22 60.97h2.44v1.81h-2.44zM16.97 62.77h2.44v1.81h-2.44zM21.82 62.77h2.44v1.81h-2.44zM31.52 62.77h2.44v1.81h-2.44zM36.38 62.77h2.44v1.81h-2.44zM48.50 62.77h2.44v1.81h-2.44zM53.35 62.77h2.44v1.81h-2.44zM80.02 62.77h2.44v1.81h-2.44zM109.12 62.77h2.44v1.81h-2.44zM128.52 62.77h2.44v1.81h-2.44zM4.85 64.56h2.44v1.81h-2.44zM9.70 64.56h2.44v1.81h-2.44zM12.12 64.56h2.44v1.81h-2.44zM14.55 64.56h2.44v1.81h-2.44zM16.97 64.56h2.44v1.81h-2.44zM58.20 64.56h2.44v1.81h-2.44zM65.47 64.56h2.44v1.81h-2.44zM72.75 64.56h2.44v1.81h-2.44zM113.97 64.56h2.44v1.81h-2.44zM128.52 64.56h2.44v1.81h-2.44zM130.95 64.56h2.44v1.81h-2.44zM133.38 64.56h2.44v1.81h-2.44zM7.27 66.35h2.44v1.81h-2.44zM9.70 66.35h2.44v1.81h-2.44zM21.82 66.35h2.44v1.81h-2.44zM24.25 66.35h2.44v1.81h-2.44zM26.67 66.35h2.44v1.81h-2.44zM33.95 66.35h2.44v1.81h-2.44zM36.38 66.35h2.44v1.81h-2.44zM46.07 66.35h2.44v1.81h-2.44zM67.90 66.35h2.44v1.81h-2.44zM89.72 66.35h2.44v1.81h-2.44zM94.57 66.35h2.44v1.81h-2.44zM97.00 66.35h2.44v1.81h-2.44zM130.95 66.35h2.44v1.81h-2.44zM133.38 66.35h2.44v1.81h-2.44zM140.65 66.35h2.44v1.81h-2.44zM9.70 68.15h2.44v1.81h-2.44zM14.55 68.15h2.44v1.81h-2.44zM48.50 68.15h2.44v1.81h-2.44zM58.20 68.15h2.44v1.81h-2.44zM60.62 68.15h2.44v1.81h-2.44zM75.17 68.15h2.44v1.81h-2.44zM92.15 68.15h2.44v1.81h-2.44zM94.57 68.15h2.44v1.81h-2.44zM99.42 68.15h2.44v1.81h-2.44zM135.80 68.15h2.44v1.81h-2.44zM4.85 69.94h2.44v1.81h-2.44zM19.40 69.94h2.44v1.81h-2.44zM36.38 69.94h2.44v1.81h-2.44zM111.55 69.94h2.44v1.81h-2.44zM118.82 69.94h2.44v1.81h-2.44zM7.27 71.73h2.44v1.81h-2.44zM12.12 71.73h2.44v1.81h-2.44zM21.82 71.73h2.44v1.81h-2.44zM33.95 71.73h2.44v1.81h-2.44zM38.80 71.73h2.44v1.81h-2.44zM43.65 71.73h2.44v1.81h-2.44zM55.77 71.73h2.44v1.81h-2.44zM58.20 71.73h2.44v1.81h-2.44zM106.70 71.73h2.44v1.81h-2.44zM133.38 71.73h2.44v1.81h-2.44zM0.00 73.53h2.44v1.81h-2.44zM4.85 73.53h2.44v1.81h-2.44zM19.40 73.53h2.44v1.81h-2.44zM21.82 73.53h2.44v1.81h-2.44zM29.10 73.53h2.44v1.81h-2.44zM50.92 73.53h2.44v1.81h-2.44zM55.77 73.53h2.44v1.81h-2.44zM104.27 73.53h2.44v1.81h-2.44zM140.65 73.53h2.44v1.81h-2.44zM2.42 75.32h2.44v1.81h-2.44zM12.12 75.32h2.44v1.81h-2.44zM19.40 75.32h2.44v1.81h-2.44zM33.95 75.32h2.44v1.81h-2.44zM50.92 75.32h2.44v1.81h-2.44zM53.35 75.32h2.44v1.81h-2.44zM67.90 75.32h2.44v1.81h-2.44zM75.17 75.32h2.44v1.81h-2.44zM101.85 75.32h2.44v1.81h-2.44zM121.25 75.32h2.44v1.81h-2.44zM138.22 75.32h2.44v1.81h-2.44zM29.10 77.11h2.44v1.81h-2.44zM36.38 77.11h2.44v1.81h-2.44zM46.07 77.11h2.44v1.81h-2.44zM50.92 77.11h2.44v1.81h-2.44zM60.62 77.11h2.44v1.81h-2.44zM80.02 77.11h2.44v1.81h-2.44zM84.88 77.11h2.44v1.81h-2.44zM92.15 77.11h2.44v1.81h-2.44zM106.70 77.11h2.44v1.81h-2.44zM111.55 77.11h2.44v1.81h-2.44zM118.82 77.11h2.44v1.81h-2.44zM4.85 78.91h2.44v1.81h-2.44zM14.55 78.91h2.44v1.81h-2.44zM31.52 78.91h2.44v1.81h-2.44zM36.38 78.91h2.44v1.81h-2.44zM41.22 78.91h2.44v1.81h-2.44zM48.50 78.91h2.44v1.81h-2.44zM60.62 78.91h2.44v1.81h-2.44zM77.60 78.91h2.44v1.81h-2.44zM82.45 78.91h2.44v1.81h-2.44zM89.72 78.91h2.44v1.81h-2.44zM94.57 78.91h2.44v1.81h-2.44zM99.42 78.91h2.44v1.81h-2.44zM101.85 78.91h2.44v1.81h-2.44zM118.82 78.91h2.44v1.81h-2.44zM2.42 80.70h2.44v1.81h-2.44zM7.27 80.70h2.44v1.81h-2.44zM24.25 80.70h2.44v1.81h-2.44zM26.67 80.70h2.44v1.81h-2.44zM31.52 80.70h2.44v1.81h-2.44zM36.38 80.70h2.44v1.81h-2.44zM55.77 80.70h2.44v1.81h-2.44zM72.75 80.70h2.44v1.81h-2.44zM82.45 80.70h2.44v1.81h-2.44zM87.30 80.70h2.44v1.81h-2.44zM121.25 80.70h2.44v1.81h-2.44zM130.95 80.70h2.44v1.81h-2.44zM133.38 80.70h2.44v1.81h-2.44zM43.65 82.49h2.44v1.81h-2.44zM60.62 82.49h2.44v1.81h-2.44zM63.05 82.49h2.44v1.81h-2.44zM65.47 82.49h2.44v1.81h-2.44zM67.90 82.49h2.44v1.81h-2.44zM97.00 82.49h2.44v1.81h-2.44zM111.55 82.49h2.44v1.81h-2.44zM118.82 82.49h2.44v1.81h-2.44zM121.25 82.49h2.44v1.81h-2.44zM9.70 84.29h2.44v1.81h-2.44zM14.55 84.29h2.44v1.81h-2.44zM33.95 84.29h2.44v1.81h-2.44zM36.38 84.29h2.44v1.81h-2.44zM50.92 84.29h2.44v1.81h-2.44zM67.90 84.29h2.44v1.81h-2.44zM72.75 84.29h2.44v1.81h-2.44zM75.17 84.29h2.44v1.81h-2.44zM77.60 84.29h2.44v1.81h-2.44zM84.88 84.29h2.44v1.81h-2.44zM109.12 84.29h2.44v1.81h-2.44zM118.82 84.29h2.44v1.81h-2.44zM128.52 84.29h2.44v1.81h-2.44zM138.22 84.29h2.44v1.81h-2.44zM143.07 84.29h2.44v1.81h-2.44zM38.80 86.08h2.44v1.81h-2.44zM43.65 86.08h2.44v1.81h-2.44zM50.92 86.08h2.44v1.81h-2.44zM58.20 86.08h2.44v1.81h-2.44zM67.90 86.08h2.44v1.81h-2.44zM70.32 86.08h2.44v1.81h-2.44zM72.75 86.08h2.44v1.81h-2.44zM89.72 86.08h2.44v1.81h-2.44zM97.00 86.08h2.44v1.81h-2.44zM116.40 86.08h2.44v1.81h-2.44zM133.38 86.08h2.44v1.81h-2.44zM2.42 87.87h2.44v1.81h-2.44zM16.97 87.87h2.44v1.81h-2.44zM26.67 87.87h2.44v1.81h-2.44zM53.35 87.87h2.44v1.81h-2.44zM67.90 87.87h2.44v1.81h-2.44zM94.57 87.87h2.44v1.81h-2.44zM101.85 87.87h2.44v1.81h-2.44zM116.40 87.87h2.44v1.81h-2.44zM121.25 87.87h2.44v1.81h-2.44zM133.38 87.87h2.44v1.81h-2.44zM140.65 87.87h2.44v1.81h-2.44z"/>
<path fill="#989898" d="M9.70 0.00h2.44v1.81h-2.44zM97.00 0.00h2.44v1.81h-2.44zM121.25 0.00h2.44v1.81h-2.44zM135.80 0.00h2.44v1.81h-2.44zM9.70 1.79h2.44v1.81h-2.44zM43.65 1.79h2.44v1.81h-2.44zM75.17 1.79h2.44v1.81h-2.44zM138.22 1.79h2.44v1.81h-2.44zM65.47 3.59h2.44v1.81h-2.44zM70.32 3.59h2.44v1.81h-2.44zM99.42 3.59h2.44v1.81h-2.44zM128.52 3.59h2.44v1.81h-2.44zM24.25 5.38h2.44v1.81h-2.44zM46.07 5.38h2.44v1.81h-2.44zM58.20 5.38h2.44v1.81h-2.44zM82.45 5.38h2.44v1.81h-2.44zM101.85 5.38h2.44v1.81h-2.44zM104.27 5.38h2.44v1.81h-2.44zM109.12 5.38h2.44v1.81h-2.44zM123.67 5.38h2.44v1.81h-2.44zM2.42 7.17h2.44v1.81h-2.44zM41.22 7.17h2.44v1.81h-2.44zM46.07 7.17h2.44v1.81h-2.44zM63.05 7.17h2.44v1.81h-2.44zM70.32 7.17h2.44v1.81h-2.44zM99.42 7.17h2.44v1.81h-2.44zM143.07 7.17h2.44v1.81h-2.44zM2.42 8.97h2.44v1.81h-2.44zM19.40 8.97h2.44v1.81h-2.44zM50.92 8.97h2.44v1.81h-2.44zM94.57 8.97h2.44v1.81h-2.44zM97.00 8.97h2.44v1.81h-2.44zM99.42 8.97h2.44v1.81h-2.44zM26.67 10.76h2.44v1.81h-2.44zM67.90 10.76h2.44v1.81h-2.44zM106.70 10.76h2.44v1.81h-2.44zM133.38 10.76h2.44v1.81h-2.44zM135.80 10.76h2.44v1.81h-2.44zM143.07 10.76h2.44v1.81h-2.44zM16.97 12.55h2.44v1.81h-2.44zM29.10 12.55h2.44v1.81h-2.44zM46.07 12.55h2.44v1.81h-2.44zM58.20 12.55h2.44v1.81h-2.44zM99.42 12.55h2.44v1.81h-2.44zM19.40 14.35h2.44v1.81h-2.44zM29.10 14.35h2.44v1.81h-2.44zM123.67 14.35h2.44v1.81h-2.44zM126.10 14.35h2.44v1.81h-2.44zM128.52 14.35h2.44v1.81h-2.44zM130.95 14.35h2.44v1.81h-2.44zM138.22 14.35h2.44v1.81h-2.44zM19.40 16.14h2.44v1.81h-2.44zM31.52 16.14h2.44v1.81h-2.44zM60.62 16.14h2.44v1.81h-2.44zM118.82 16.14h2.44v1.81h-2.44zM140.65 16.14h2.44v1.81h-2.44zM38.80 17.93h2.44v1.81h-2.44zM58.20 17.93h2.44v1.81h-2.44zM63.05 17.93h2.44v1.81h-2.44zM65.47 17.93h2.44v1.81h-2.44zM111.55 17.93h2.44v1.81h-2.44zM46.07 19.73h2.44v1.81h-2.44zM97.00 19.73h2.44v1.81h-2.44zM111.55 19.73h2.44v1.81h-2.44zM133.38 19.73h2.44v1.81h-2.44zM135.80 19.73h2.44v1.81h-2.44zM14.55 21.52h2.44v1.81h-2.44zM43.65 21.52h2.44v1.81h-2.44zM111.55 21.52h2.44v1.81h-2.44zM121.25 21.52h2.44v1.81h-2.44zM19.40 23.31h2.44v1.81h-2.44zM26.67 23.31h2.44v1.81h-2.44zM36.38 23.31h2.44v1.81h-2.44zM60.62 23.31h2.44v1.81h-2.44zM63.05 23.31h2.44v1.81h-2.44zM65.47 23.31h2.44v1.81h-2.44zM70.32 23.31h2.44v1.81h-2.44zM82.45 23.31h2.44v1.81h-2.44zM84.88 23.31h2.44v1.81h-2.44zM92.15 25.11h2.44v1.81h-2.44zM111.55 25.11h2.44v1.81h-2.44zM126.10 25.11h2.44v1.81h-2.44zM16.97 26.90h2.44v1.81h-2.44zM36.38 26.90h2.44v1.81h-2.44zM58.20 26.90h2.44v1.81h-2.44zM65.47 26.90h2.44v1.81h-2.44zM75.17 26.90h2.44v1.81h-2.44zM92.15 26.90h2.44v1.81h-2.44zM104.27 26.90h2.44v1.81h-2.44zM126.10 26.90h2.44v1.81h-2.44zM128.52 26.90h2.44v1.81h-2.44zM133.38 26.90h2.44v1.81h-2.44zM135.80 26.90h2.44v1.81h-2.44zM12.12 28.69h2.44v1.81h-2.44zM14.55 28.69h2.44v1.81h-2.44zM31.52 28.69h2.44v1.81h-2.44zM55.77 28.69h2.44v1.81h-2.44zM72.75 28.69h2.44v1.81h-2.44zM123.67 28.69h2.44v1.81h-2.44zM130.95 28.69h2.44v1.81h-2.44zM2.42 30.49h2.44v1.81h-2.44zM4.85 30.49h2.44v1.81h-2.44zM12.12 30.49h2.44v1.81h-2.44zM16.97 30.49h2.44v1.81h-2.44zM19.40 30.49h2.44v1.81h-2.44zM33.95 30.49h2.44v1.81h-2.44zM46.07 30.49h2.44v1.81h-2.44zM63.05 30.49h2.44v1.81h-2.44zM70.32 30.49h2.44v1.81h-2.44zM106.70 30.49h2.44v1.81h-2.44zM111.55 30.49h2.44v1.81h-2.44zM14.55 32.28h2.44v1.81h-2.44zM84.88 32.28h2.44v1.81h-2.44zM87.30 32.28h2.44v1.81h-2.44zM89.72 32.28h2.44v1.81h-2.44zM94.57 32.28h2.44v1.81h-2.44zM118.82 32.28h2.44v1.81h-2.44zM63.05 34.07h2.44v1.81h-2.44zM65.47 34.07h2.44v1.81h-2.44zM106.70 34.07h2.44v1.81h-2.44zM111.55 34.07h2.44v1.81h-2.44zM118.82 34.07h2.44v1.81h-2.44zM130.95 34.07h2.44v1.81h-2.44zM133.38 34.07h2.44v1.81h-2.44zM7.27 35.87h2.44v1.81h-2.44zM9.70 35.87h2.44v1.81h-2.44zM21.82 35.87h2.44v1.81h-2.44zM24.25 35.87h2.44v1.81h-2.44zM36.38 35.87h2.44v1.81h-2.44zM43.65 35.87h2.44v1.81h-2.44zM101.85 35.87h2.44v1.81h-2.44zM106.70 35.87h2.44v1.81h-2.44zM118.82 35.87h2.44v1.81h-2.44zM0.00 37.66h2.44v1.81h-2.44zM19.40 37.66h2.44v1.81h-2.44zM77.60 37.66h2.44v1.81h-2.44zM80.02 37.66h2.44v1.81h-2.44zM89.72 37.66h2.44v1.81h-2.44zM99.42 37.66h2.44v1.81h-2.44zM101.85 37.66h2.44v1.81h-2.44zM128.52 37.66h2.44v1.81h-2.44zM140.65 37.66h2.44v1.81h-2.44zM0.00 39.45h2.44v1.81h-2.44zM46.07 39.45h2.44v1.81h-2.44zM48.50 39.45h2.44v1.81h-2.44zM67.90 39.45h2.44v1.81h-2.44zM75.17 39.45h2.44v1.81h-2.44zM82.45 39.45h2.44v1.81h-2.44zM109.12 39.45h2.44v1.81h-2.44zM138.22 39.45h2.44v1.81h-2.44zM0.00 41.25h2.44v1.81h-2.44zM63.05 41.25h2.44v1.81h-2.44zM70.32 41.25h2.44v1.81h-2.44zM106.70 41.25h2.44v1.81h-2.44zM118.82 41.25h2.44v1.81h-2.44zM128.52 41.25h2.44v1.81h-2.44zM67.90 43.04h2.44v1.81h-2.44zM77.60 43.04h2.44v1.81h-2.44zM99.42 43.04h2.44v1.81h-2.44zM111.55 43.04h2.44v1.81h-2.44zM123.67 43.04h2.44v1.81h-2.44zM135.80 43.04h2.44v1.81h-2.44zM143.07 43.04h2.44v1.81h-2.44zM12.12 44.83h2.44v1.81h-2.44zM21.82 44.83h2.44v1.81h-2.44zM36.38 44.83h2.44v1.81h-2.44zM55.77 44.83h2.44v1.81h-2.44zM80.02 44.83h2.44v1.81h-2.44zM89.72 44.83h2.44v1.81h-2.44zM97.00 44.83h2.44v1.81h-2.44zM118.82 44.83h2.44v1.81h-2.44zM138.22 44.83h2.44v1.81h-2.44zM58.20 46.63h2.44v1.81h-2.44zM63.05 46.63h2.44v1.81h-2.44zM121.25 46.63h2.44v1.81h-2.44zM126.10 46.63h2.44v1.81h-2.44zM7.27 48.42h2.44v1.81h-2.44zM38.80 48.42h2.44v1.81h-2.44zM50.92 48.42h2.44v1.81h-2.44zM65.47 48.42h2.44v1.81h-2.44zM128.52 48.42h2.44v1.81h-2.44zM19.40 50.21h2.44v1.81h-2.44zM21.82 50.21h2.44v1.81h-2.44zM55.77 50.21h2.44v1.81h-2.44zM70.32 50.21h2.44v1.81h-2.44zM84.88 50.21h2.44v1.81h-2.44zM109.12 50.21h2.44v1.81h-2.44zM118.82 50.21h2.44v1.81h-2.44zM26.67 52.01h2.44v1.81h-2.44zM101.85 52.01h2.44v1.81h-2.44zM106.70 52.01h2.44v1.81h-2.44zM0.00 53.80h2.44v1.81h-2.44zM12.12 53.80h2.44v1.81h-2.44zM38.80 53.80h2.44v1.81h-2.44zM41.22 53.80h2.44v1.81h-2.44zM55.77 53.80h2.44v1.81h-2.44zM80.02 53.80h2.44v1.81h-2.44zM84.88 53.80h2.44v1.81h-2.44zM99.42 53.80h2.44v1.81h-2.44zM104.27 53.80h2.44v1.81h-2.44zM143.07 53.80h2.44v1.81h-2.44zM0.00 55.59h2.44v1.81h-2.44zM14.55 55.59h2.44v1.81h-2.44zM63.05 55.59h2.44v1.81h-2.44zM106.70 55.59h2.44v1.81h-2.44zM133.38 55.59h2.44v1.81h-2.44zM140.65 55.59h2.44v1.81h-2.44zM14.55 57.39h2.44v1.81h-2.44zM21.82 57.39h2.44v1.81h-2.44zM29.10 57.39h2.44v1.81h-2.44zM50.92 57.39h2.44v1.81h-2.44zM53.35 57.39h2.44v1.81h-2.44zM84.88 57.39h2.44v1.81h-2.44zM89.72 57.39h2.44v1.81h-2.44zM92.15 57.39h2.44v1.81h-2.44zM48.50 59.18h2.44v1.81h-2.44zM58.20 59.18h2.44v1.81h-2.44zM80.02 59.18h2.44v1.81h-2.44zM21.82 60.97h2.44v1.81h-2.44zM26.67 60.97h2.44v1.81h-2.44zM53.35 60.97h2.44v1.81h-2.44zM58.20 60.97h2.44v1.81h-2.44zM72.75 60.97h2.44v1.81h-2.44zM75.17 60.97h2.44v1.81h-2.44zM89.72 60.97h2.44v1.81h-2.44zM4.85 62.77h2.44v1.81h-2.44zM46.07 62.77h2.44v1.81h-2.44zM50.92 62.77h2.44v1.81h-2.44zM60.62 62.77h2.44v1.81h-2.44zM99.42 62.77h2.44v1.81h-2.44zM101.85 62.77h2.44v1.81h-2.44zM126.10 62.77h2.44v1.81h-2.44zM0.00 64.56h2.44v1.81h-2.44zM48.50 64.56h2.44v1.81h-2.44zM82.45 64.56h2.44v1.81h-2.44zM89.72 64.56h2.44v1.81h-2.44zM118.82 64.56h2.44v1.81h-2.44zM126.10 64.56h2.44v1.81h-2.44zM38.80 66.35h2.44v1.81h-2.44zM53.35 66.35h2.44v1.81h-2.44zM70.32 66.35h2.44v1.81h-2.44zM80.02 66.35h2.44v1.81h-2.44zM82.45 66.35h2.44v1.81h-2.44zM106.70 66.35h2.44v1.81h-2.44zM113.97 66.35h2.44v1.81h-2.44zM118.82 66.35h2.44v1.81h-2.44zM126.10 66.35h2.44v1.81h-2.44zM26.67 68.15h2.44v1.81h-2.44zM36.38 68.15h2.44v1.81h-2.44zM38.80 68.15h2.44v1.81h-2.44zM77.60 68.15h2.44v1.81h-2.44zM82.45 68.15h2.44v1.81h-2.44zM138.22 68.15h2.44v1.81h-2.44zM0.00 69.94h2.44v1.81h-2.44zM2.42 69.94h2.44v1.81h-2.44zM70.32 69.94h2.44v1.81h-2.44zM84.88 69.94h2.44v1.81h-2.44zM116.40 69.94h2.44v1.81h-2.44zM121.25 69.94h2.44v1.81h-2.44zM126.10 69.94h2.44v1.81h-2.44zM9.70 71.73h2.44v1.81h-2.44zM16.97 71.73h2.44v1.81h-2.44zM29.10 71.73h2.44v1.81h-2.44zM70.32 71.73h2.44v1.81h-2.44zM75.17 71.73h2.44v1.81h-2.44zM89.72 71.73h2.44v1.81h-2.44zM104.27 71.73h2.44v1.81h-2.44zM116.40 71.73h2.44v1.81h-2.44zM121.25 71.73h2.44v1.81h-2.44zM7.27 73.53h2.44v1.81h-2.44zM80.02 73.53h2.44v1.81h-2.44zM92.15 73.53h2.44v1.81h-2.44zM109.12 73.53h2.44v1.81h-2.44zM133.38 73.53h2.44v1.81h-2.44zM14.55 75.32h2.44v1.81h-2.44zM26.67 75.32h2.44v1.81h-2.44zM92.15 75.32h2.44v1.81h-2.44zM130.95 75.32h2.44v1.81h-2.44zM135.80 75.32h2.44v1.81h-2.44zM0.00 77.11h2.44v1.81h-2.44zM12.12 77.11h2.44v1.81h-2.44zM26.67 77.11h2.44v1.81h-2.44zM89.72 77.11h2.44v1.81h-2.44zM104.27 77.11h2.44v1.81h-2.44zM126.10 77.11h2.44v1.81h-2.44zM133.38 77.11h2.44v1.81h-2.44zM9.70 78.91h2.44v1.81h-2.44zM16.97 78.91h2.44v1.81h-2.44zM75.17 78.91h2.44v1.81h-2.44zM84.88 80.70h2.44v1.81h-2.44zM94.57 80.70h2.44v1.81h-2.44zM99.42 80.70h2.44v1.81h-2.44zM101.85 80.70h2.44v1.81h-2.44zM128.52 80.70h2.44v1.81h-2.44zM2.42 82.49h2.44v1.81h-2.44zM38.80 82.49h2.44v1.81h-2.44zM70.32 82.49h2.44v1.81h-2.44zM99.42 82.49h2.44v1.81h-2.44zM109.12 82.49h2.44v1.81h-2.44zM128.52 82.49h2.44v1.81h-2.44zM143.07 82.49h2.44v1.81h-2.44zM26.67 84.29h2.44v1.81h-2.44zM65.47 84.29h2.44v1.81h-2.44zM130.95 84.29h2.44v1.81h-2.44zM140.65 84.29h2.44v1.81h-2.44zM0.00 86.08h2.44v1.81h-2.44zM33.95 86.08h2.44v1.81h-2.44zM53.35 86.08h2.44v1.81h-2.44zM63.05 86.08h2.44v1.81h-2.44zM82.45 86.08h2.44v1.81h-2.44zM87.30 86.08h2.44v1.81h-2.44zM138.22 86.08h2.44v1.81h-2.44zM143.07 86.08h2.44v1.81h-2.44zM7.27 87.87h2.44v1.81h-2.44zM70.32 87.87h2.44v1.81h-2.44zM75.17 87.87h2.44v1.81h-2.44zM77.60 87.87h2.44v1.81h-2.44zM104.27 87.87h2.44v1.81h-2.44zM109.12 87.87h2.44v1.81h-2.44zM123.67 87.87h2.44v1.81h-2.44zM128.52 87.87h2.44v1.81h-2.44zM143.07 87.87h2.44v1.81h-2.44z"/>
<path fill="#a9a9a9" d="M21.82 0.00h2.44v1.81h-2.44zM31.52 0.00h2.44v1.81h-2.44zM109.12 1.79h2.44v1.81h-2.44zM116.40 1.79h2.44v1.81h-2.44zM0.00 3.59h2.44v1.81h-2.44zM36.38 3.59h2.44v1.81h-2.44zM55.77 3.59h2.44v1.81h-2.44zM63.05 3.59h2.44v1.81h-2.44zM82.45 3.59h2.44v1.81h-2.44zM118.82 3.59h2.44v1.81h-2.44zM2.42 5.38h2.44v1.81h-2.44zM36.38 5.38h2.44v1.81h-2.44zM72.75 5.38h2.44v1.81h-2.44zM75.17 5.38h2.44v1.81h-2.44zM80.02 7.17h2.44v1.81h-2.44zM58.20 8.97h2.44v1.81h-2.44zM89.72 8.97h2.44v1.81h-2.44zM63.05 10.76h2.44v1.81h-2.44zM82.45 10.76h2.44v1.81h-2.44zM97.00 10.76h2.44v1.81h-2.44zM104.27 10.76h2.44v1.81h-2.44zM92.15 12.55h2.44v1.81h-2.44zM104.27 12.55h2.44v1.81h-2.44zM113.97 12.55h2.44v1.81h-2.44zM128.52 12.55h2.44v1.81h-2.44zM82.45 14.35h2.44v1.81h-2.44zM92.15 14.35h2.44v1.81h-2.44zM21.82 16.14h2.44v1.81h-2.44zM33.95 16.14h2.44v1.81h-2.44zM84.88 16.14h2.44v1.81h-2.44zM24.25 17.93h2.44v1.81h-2.44zM84.88 17.93h2.44v1.81h-2.44zM104.27 17.93h2.44v1.81h-2.44zM128.52 17.93h2.44v1.81h-2.44zM2.42 19.73h2.44v1.81h-2.44zM16.97 19.73h2.44v1.81h-2.44zM38.80 19.73h2.44v1.81h-2.44zM101.85 19.73h2.44v1.81h-2.44zM4.85 21.52h2.44v1.81h-2.44zM29.10 21.52h2.44v1.81h-2.44zM80.02 21.52h2.44v1.81h-2.44zM12.12 23.31h2.44v1.81h-2.44zM111.55 23.31h2.44v1.81h-2.44zM9.70 25.11h2.44v1.81h-2.44zM138.22 25.11h2.44v1.81h-2.44zM4.85 26.90h2.44v1.81h-2.44zM7.27 26.90h2.44v1.81h-2.44zM48.50 26.90h2.44v1.81h-2.44zM55.77 26.90h2.44v1.81h-2.44zM77.60 26.90h2.44v1.81h-2.44zM36.38 28.69h2.44v1.81h-2.44zM104.27 28.69h2.44v1.81h-2.44zM135.80 28.69h2.44v1.81h-2.44zM65.47 30.49h2.44v1.81h-2.44zM16.97 32.28h2.44v1.81h-2.44zM43.65 32.28h2.44v1.81h-2.44zM126.10 32.28h2.44v1.81h-2.44zM2.42 34.07h2.44v1.81h-2.44zM29.10 34.07h2.44v1.81h-2.44zM41.22 34.07h2.44v1.81h-2.44zM97.00 34.07h2.44v1.81h-2.44zM109.12 34.07h2.44v1.81h-2.44zM128.52 34.07h2.44v1.81h-2.44zM38.80 35.87h2.44v1.81h-2.44zM118.82 37.66h2.44v1.81h-2.44zM14.55 39.45h2.44v1.81h-2.44zM19.40 39.45h2.44v1.81h-2.44zM31.52 39.45h2.44v1.81h-2.44zM106.70 39.45h2.44v1.81h-2.44zM4.85 41.25h2.44v1.81h-2.44zM55.77 41.25h2.44v1.81h-2.44zM121.25 41.25h2.44v1.81h-2.44zM123.67 41.25h2.44v1.81h-2.44zM29.10 43.04h2.44v1.81h-2.44zM87.30 43.04h2.44v1.81h-2.44zM92.15 43.04h2.44v1.81h-2.44zM104.27 44.83h2.44v1.81h-2.44zM106.70 44.83h2.44v1.81h-2.44zM128.52 46.63h2.44v1.81h-2.44zM4.85 48.42h2.44v1.81h-2.44zM16.97 48.42h2.44v1.81h-2.44zM63.05 48.42h2.44v1.81h-2.44zM94.57 48.42h2.44v1.81h-2.44zM111.55 48.42h2.44v1.81h-2.44zM135.80 48.42h2.44v1.81h-2.44zM43.65 50.21h2.44v1.81h-2.44zM53.35 52.01h2.44v1.81h-2.44zM55.77 52.01h2.44v1.81h-2.44zM77.60 52.01h2.44v1.81h-2.44zM109.12 52.01h2.44v1.81h-2.44zM135.80 52.01h2.44v1.81h-2.44zM48.50 53.80h2.44v1.81h-2.44zM60.62 53.80h2.44v1.81h-2.44zM92.15 53.80h2.44v1.81h-2.44zM116.40 53.80h2.44v1.81h-2.44zM72.75 57.39h2.44v1.81h-2.44zM14.55 59.18h2.44v1.81h-2.44zM29.10 59.18h2.44v1.81h-2.44zM36.38 59.18h2.44v1.81h-2.44zM43.65 59.18h2.44v1.81h-2.44zM38.80 60.97h2.44v1.81h-2.44zM82.45 62.77h2.44v1.81h-2.44zM123.67 62.77h2.44v1.81h-2.44zM26.67 64.56h2.44v1.81h-2.44zM92.15 64.56h2.44v1.81h-2.44zM111.55 64.56h2.44v1.81h-2.44zM116.40 64.56h2.44v1.81h-2.44zM65.47 66.35h2.44v1.81h-2.44zM116.40 66.35h2.44v1.81h-2.44zM16.97 68.15h2.44v1.81h-2.44zM126.10 68.15h2.44v1.81h-2.44zM140.65 68.15h2.44v1.81h-2.44zM26.67 69.94h2.44v1.81h-2.44zM4.85 71.73h2.44v1.81h-2.44zM26.67 71.73h2.44v1.81h-2.44zM31.52 71.73h2.44v1.81h-2.44zM65.47 71.73h2.44v1.81h-2.44zM67.90 71.73h2.44v1.81h-2.44zM72.75 71.73h2.44v1.81h-2.44zM77.60 71.73h2.44v1.81h-2.44zM9.70 73.53h2.44v1.81h-2.44zM116.40 73.53h2.44v1.81h-2.44zM128.52 73.53h2.44v1.81h-2.44zM46.07 75.32h2.44v1.81h-2.44zM113.97 77.11h2.44v1.81h-2.44zM138.22 77.11h2.44v1.81h-2.44zM58.20 78.91h2.44v1.81h-2.44zM72.75 78.91h2.44v1.81h-2.44zM116.40 78.91h2.44v1.81h-2.44zM60.62 80.70h2.44v1.81h-2.44zM65.47 80.70h2.44v1.81h-2.44zM97.00 80.70h2.44v1.81h-2.44zM116.40 80.70h2.44v1.81h-2.44zM24.25 82.49h2.44v1.81h-2.44zM26.67 82.49h2.44v1.81h-2.44zM31.52 82.49h2.44v1.81h-2.44zM126.10 82.49h2.44v1.81h-2.44zM0.00 84.29h2.44v1.81h-2.44zM53.35 84.29h2.44v1.81h-2.44zM97.00 84.29h2.44v1.81h-2.44zM101.85 84.29h2.44v1.81h-2.44zM2.42 86.08h2.44v1.81h-2.44zM94.57 86.08h2.44v1.81h-2.44zM113.97 86.08h2.44v1.81h-2.44zM43.65 87.87h2.44v1.81h-2.44zM58.20 87.87h2.44v1.81h-2.44zM92.15 87.87h2.44v1.81h-2.44z"/>
<path fill="#b9b9b9" d="M140.65 0.00h2.44v1.81h-2.44zM4.85 5.38h2.44v1.81h-2.44zM21.82 8.97h2.44v1.81h-2.44zM48.50 8.97h2.44v1.81h-2.44zM53.35 12.55h2.44v1.81h-2.44zM31.52 14.35h2.44v1.81h-2.44zM0.00 17.93h2.44v1.81h-2.44zM36.38 17.93h2.44v1.81h-2.44zM60.62 17.93h2.44v1.81h-2.44zM77.60 17.93h2.44v1.81h-2.44zM87.30 17.93h2.44v1.81h-2.44zM46.07 21.52h2.44v1.81h-2.44zM87.30 23.31h2.44v1.81h-2.44zM50.92 25.11h2.44v1.81h-2.44zM106.70 26.90h2.44v1.81h-2.44zM116.40 30.49h2.44v1.81h-2.44zM128.52 30.49h2.44v1.81h-2.44zM99.42 32.28h2.44v1.81h-2.44zM82.45 37.66h2.44v1.81h-2.44zM99.42 39.45h2.44v1.81h-2.44zM7.27 43.04h2.44v1.81h-2.44zM38.80 44.83h2.44v1.81h-2.44zM87.30 44.83h2.44v1.81h-2.44zM48.50 46.63h2.44v1.81h-2.44zM60.62 48.42h2.44v1.81h-2.44zM77.60 50.21h2.44v1.81h-2.44zM2.42 52.01h2.44v1.81h-2.44zM21.82 52.01h2.44v1.81h-2.44zM38.80 55.59h2.44v1.81h-2.44zM126.10 57.39h2.44v1.81h-2.44zM99.42 59.18h2.44v1.81h-2.44zM48.50 60.97h2.44v1.81h-2.44zM67.90 60.97h2.44v1.81h-2.44zM70.32 62.77h2.44v1.81h-2.44zM121.25 62.77h2.44v1.81h-2.44zM33.95 64.56h2.44v1.81h-2.44zM31.52 66.35h2.44v1.81h-2.44zM43.65 68.15h2.44v1.81h-2.44zM118.82 68.15h2.44v1.81h-2.44zM0.00 71.73h2.44v1.81h-2.44zM41.22 71.73h2.44v1.81h-2.44zM123.67 73.53h2.44v1.81h-2.44zM9.70 75.32h2.44v1.81h-2.44zM87.30 77.11h2.44v1.81h-2.44zM97.00 77.11h2.44v1.81h-2.44zM26.67 78.91h2.44v1.81h-2.44zM46.07 80.70h2.44v1.81h-2.44zM106.70 80.70h2.44v1.81h-2.44zM24.25 84.29h2.44v1.81h-2.44zM43.65 84.29h2.44v1.81h-2.44zM21.82 86.08h2.44v1.81h-2.44z"/>
<path fill="#cacaca" d="M12.12 5.38h2.44v1.81h-2.44zM97.00 5.38h2.44v1.81h-2.44zM55.77 23.31h2.44v1.81h-2.44zM75.17 25.11h2.44v1.81h-2.44zM70.32 44.83h2.44v1.81h-2.44zM72.75 48.42h2.44v1.81h-2.44zM118.82 57.39h2.44v1.81h-2.44zM0.00 59.18h2.44v1.81h-2.44zM46.07 60.97h2.44v1.81h-2.44zM82.45 60.97h2.44v1.81h-2.44zM106.70 64.56h2.44v1.81h-2.44zM126.10 75.32h2.44v1.81h-2.44zM67.90 78.91h2.44v1.81h-2.44z"/>
<path fill="#dadada" d="M94.57 17.93h2.44v1.81h-2.44zM67.90 73.53h2.44v1.81h-2.44zM4.85 75.32h2.44v1.81h-2.44z"/>
</g></pattern></defs>
<rect x="55" y="83.5" width="291" height="269" fill="#737373"/>
<rect x="55" y="83.5" width="291" height="269" fill="url(#np)"/>
<rect x="55" y="193.8" width="291" height="1.6" fill="#fff" opacity="0.7"/>
<rect x="55" y="197.5" width="291" height="1.2" fill="#fff" opacity="0.4"/>
<rect x="55" y="215.0" width="291" height="1.6" fill="#fff" opacity="0.7"/>
<rect x="55" y="222.1" width="291" height="1.0" fill="#fff" opacity="0.25"/>
<rect x="55" y="229.1" width="291" height="1.6" fill="#fff" opacity="0.7"/>
<rect x="55" y="232.6" width="291" height="1.2" fill="#fff" opacity="0.4"/>
<rect x="55" y="241.1" width="291" height="1.4" fill="#fff" opacity="0.55"/>
<rect x="55" y="247.8" width="291" height="1.6" fill="#fff" opacity="0.7"/>
<rect x="55" y="250.9" width="291" height="1.2" fill="#fff" opacity="0.4"/>
<rect x="55" y="285.3" width="291" height="1.0" fill="#fff" opacity="0.25"/>
<rect x="55" y="291.2" width="291" height="1.0" fill="#fff" opacity="0.22"/>
<rect x="55" y="296.4" width="291" height="1.0" fill="#fff" opacity="0.12"/>
<rect x="55" y="299.7" width="291" height="1.0" fill="#fff" opacity="0.15"/>
<rect x="55" y="350.9" width="291" height="1.2" fill="#fff" opacity="0.3"/>
<defs><linearGradient id="p1g" x1="0" y1="83.5" x2="0" y2="352.5" gradientUnits="userSpaceOnUse"><stop offset="0" stop-opacity="0.3"/><stop offset="0.3" stop-opacity="0.36"/><stop offset="0.4" stop-opacity="0.2"/><stop offset="0.6" stop-opacity="0.28"/><stop offset="0.8" stop-opacity="0.45"/><stop offset="1" stop-opacity="0.4"/></linearGradient><linearGradient id="p2g" x1="0" y1="83.5" x2="0" y2="260" gradientUnits="userSpaceOnUse"><stop offset="0" stop-opacity="0.18"/><stop offset="1" stop-opacity="0"/></linearGradient><linearGradient id="p3g" x1="0" y1="352.5" x2="0" y2="200" gradientUnits="userSpaceOnUse"><stop offset="0" stop-opacity="0.14"/><stop offset="1" stop-opacity="0"/></linearGradient></defs>
<rect x="171.2" y="83.5" width="2.8" height="269" fill="url(#p1g)"/>
<path d="M198.8 83.5 L202.2 83.5 L206 260 L202.6 260 Z" fill="url(#p2g)"/>
<path d="M214 200 L217.4 200 L221.6 352.5 L218.2 352.5 Z" fill="url(#p3g)"/>
<g shape-rendering="crispEdges">
<rect x="469.50" y="83.50" width="12.40" height="18.23" fill="#dddddd"/>
<rect x="481.60" y="83.50" width="12.40" height="18.23" fill="#cdcdcd"/>
<rect x="493.70" y="83.50" width="12.40" height="18.23" fill="#b4b4b4"/>
<rect x="505.80" y="83.50" width="12.40" height="18.23" fill="#8f8f8f"/>
<rect x="517.90" y="83.50" width="12.40" height="18.23" fill="#666666"/>
<rect x="530.00" y="83.50" width="12.40" height="18.23" fill="#4a4a4a"/>
<rect x="542.10" y="83.50" width="12.40" height="18.23" fill="#4a4a4a"/>
<rect x="554.20" y="83.50" width="12.40" height="18.23" fill="#5a5a5a"/>
<rect x="566.30" y="83.50" width="12.40" height="18.23" fill="#6f6f6f"/>
<rect x="578.40" y="83.50" width="12.40" height="18.23" fill="#a0a0a0"/>
<rect x="590.50" y="83.50" width="12.40" height="18.23" fill="#b8b8b8"/>
<rect x="602.60" y="83.50" width="12.40" height="18.23" fill="#c0c0c0"/>
<rect x="614.70" y="83.50" width="12.40" height="18.23" fill="#bdbdbd"/>
<rect x="626.80" y="83.50" width="12.40" height="18.23" fill="#b8b8b8"/>
<rect x="638.90" y="83.50" width="12.40" height="18.23" fill="#b8b8b8"/>
<rect x="651.00" y="83.50" width="12.40" height="18.23" fill="#b5b5b5"/>
<rect x="663.10" y="83.50" width="12.40" height="18.23" fill="#c0c0c0"/>
<rect x="675.20" y="83.50" width="12.40" height="18.23" fill="#d8d8d8"/>
<rect x="687.30" y="83.50" width="12.40" height="18.23" fill="#e8e8e8"/>
<rect x="699.40" y="83.50" width="12.40" height="18.23" fill="#f8f8f8"/>
<rect x="711.50" y="83.50" width="12.40" height="18.23" fill="#fbfbfb"/>
<rect x="723.60" y="83.50" width="12.40" height="18.23" fill="#eeeeee"/>
<rect x="735.70" y="83.50" width="12.40" height="18.23" fill="#d8d8d8"/>
<rect x="747.80" y="83.50" width="11.50" height="18.23" fill="#cdcdcd"/>
<rect x="469.50" y="101.43" width="12.40" height="18.23" fill="#dddddd"/>
<rect x="481.60" y="101.43" width="12.40" height="18.23" fill="#cccccc"/>
<rect x="493.70" y="101.43" width="12.40" height="18.23" fill="#b5b5b5"/>
<rect x="505.80" y="101.43" width="12.40" height="18.23" fill="#8f8f8f"/>
<rect x="517.90" y="101.43" width="12.40" height="18.23" fill="#6a6a6a"/>
<rect x="530.00" y="101.43" width="12.40" height="18.23" fill="#4a4a4a"/>
<rect x="542.10" y="101.43" width="12.40" height="18.23" fill="#484848"/>
<rect x="554.20" y="101.43" width="12.40" height="18.23" fill="#5a5a5a"/>
<rect x="566.30" y="101.43" width="12.40" height="18.23" fill="#7a7a7a"/>
<rect x="578.40" y="101.43" width="12.40" height="18.23" fill="#a5a5a5"/>
<rect x="590.50" y="101.43" width="12.40" height="18.23" fill="#bcbcbc"/>
<rect x="602.60" y="101.43" width="12.40" height="18.23" fill="#c8c8c8"/>
<rect x="614.70" y="101.43" width="12.40" height="18.23" fill="#c5c5c5"/>
<rect x="626.80" y="101.43" width="12.40" height="18.23" fill="#bcbcbc"/>
<rect x="638.90" y="101.43" width="12.40" height="18.23" fill="#b8b8b8"/>
<rect x="651.00" y="101.43" width="12.40" height="18.23" fill="#b8b8b8"/>
<rect x="663.10" y="101.43" width="12.40" height="18.23" fill="#c0c0c0"/>
<rect x="675.20" y="101.43" width="12.40" height="18.23" fill="#d8d8d8"/>
<rect x="687.30" y="101.43" width="12.40" height="18.23" fill="#e4e4e4"/>
<rect x="699.40" y="101.43" width="12.40" height="18.23" fill="#f4f4f4"/>
<rect x="711.50" y="101.43" width="12.40" height="18.23" fill="#f6f6f6"/>
<rect x="723.60" y="101.43" width="12.40" height="18.23" fill="#e8e8e8"/>
<rect x="735.70" y="101.43" width="12.40" height="18.23" fill="#d5d5d5"/>
<rect x="747.80" y="101.43" width="11.50" height="18.23" fill="#cccccc"/>
<rect x="469.50" y="119.37" width="12.40" height="18.23" fill="#e0e0e0"/>
<rect x="481.60" y="119.37" width="12.40" height="18.23" fill="#cfcfcf"/>
<rect x="493.70" y="119.37" width="12.40" height="18.23" fill="#bbbbbb"/>
<rect x="505.80" y="119.37" width="12.40" height="18.23" fill="#999999"/>
<rect x="517.90" y="119.37" width="12.40" height="18.23" fill="#777777"/>
<rect x="530.00" y="119.37" width="12.40" height="18.23" fill="#555555"/>
<rect x="542.10" y="119.37" width="12.40" height="18.23" fill="#555555"/>
<rect x="554.20" y="119.37" width="12.40" height="18.23" fill="#606060"/>
<rect x="566.30" y="119.37" width="12.40" height="18.23" fill="#808080"/>
<rect x="578.40" y="119.37" width="12.40" height="18.23" fill="#a8a8a8"/>
<rect x="590.50" y="119.37" width="12.40" height="18.23" fill="#bfbfbf"/>
<rect x="602.60" y="119.37" width="12.40" height="18.23" fill="#cacaca"/>
<rect x="614.70" y="119.37" width="12.40" height="18.23" fill="#c9c9c9"/>
<rect x="626.80" y="119.37" width="12.40" height="18.23" fill="#c0c0c0"/>
<rect x="638.90" y="119.37" width="12.40" height="18.23" fill="#bcbcbc"/>
<rect x="651.00" y="119.37" width="12.40" height="18.23" fill="#b8b8b8"/>
<rect x="663.10" y="119.37" width="12.40" height="18.23" fill="#bebebe"/>
<rect x="675.20" y="119.37" width="12.40" height="18.23" fill="#d0d0d0"/>
<rect x="687.30" y="119.37" width="12.40" height="18.23" fill="#dddddd"/>
<rect x="699.40" y="119.37" width="12.40" height="18.23" fill="#eaeaea"/>
<rect x="711.50" y="119.37" width="12.40" height="18.23" fill="#ececec"/>
<rect x="723.60" y="119.37" width="12.40" height="18.23" fill="#e4e4e4"/>
<rect x="735.70" y="119.37" width="12.40" height="18.23" fill="#d5d5d5"/>
<rect x="747.80" y="119.37" width="11.50" height="18.23" fill="#c8c8c8"/>
<rect x="469.50" y="137.30" width="12.40" height="18.23" fill="#e0e0e0"/>
<rect x="481.60" y="137.30" width="12.40" height="18.23" fill="#d0d0d0"/>
<rect x="493.70" y="137.30" width="12.40" height="18.23" fill="#c5c5c5"/>
<rect x="505.80" y="137.30" width="12.40" height="18.23" fill="#a5a5a5"/>
<rect x="517.90" y="137.30" width="12.40" height="18.23" fill="#888888"/>
<rect x="530.00" y="137.30" width="12.40" height="18.23" fill="#666666"/>
<rect x="542.10" y="137.30" width="12.40" height="18.23" fill="#666666"/>
<rect x="554.20" y="137.30" width="12.40" height="18.23" fill="#6a6a6a"/>
<rect x="566.30" y="137.30" width="12.40" height="18.23" fill="#8a8a8a"/>
<rect x="578.40" y="137.30" width="12.40" height="18.23" fill="#aaaaaa"/>
<rect x="590.50" y="137.30" width="12.40" height="18.23" fill="#c4c4c4"/>
<rect x="602.60" y="137.30" width="12.40" height="18.23" fill="#d0d0d0"/>
<rect x="614.70" y="137.30" width="12.40" height="18.23" fill="#cfcfcf"/>
<rect x="626.80" y="137.30" width="12.40" height="18.23" fill="#c5c5c5"/>
<rect x="638.90" y="137.30" width="12.40" height="18.23" fill="#bcbcbc"/>
<rect x="651.00" y="137.30" width="12.40" height="18.23" fill="#b5b5b5"/>
<rect x="663.10" y="137.30" width="12.40" height="18.23" fill="#bbbbbb"/>
<rect x="675.20" y="137.30" width="12.40" height="18.23" fill="#cccccc"/>
<rect x="687.30" y="137.30" width="12.40" height="18.23" fill="#d8d8d8"/>
<rect x="699.40" y="137.30" width="12.40" height="18.23" fill="#e0e0e0"/>
<rect x="711.50" y="137.30" width="12.40" height="18.23" fill="#e0e0e0"/>
<rect x="723.60" y="137.30" width="12.40" height="18.23" fill="#dcdcdc"/>
<rect x="735.70" y="137.30" width="12.40" height="18.23" fill="#d0d0d0"/>
<rect x="747.80" y="137.30" width="11.50" height="18.23" fill="#c5c5c5"/>
<rect x="469.50" y="155.23" width="12.40" height="18.23" fill="#dddddd"/>
<rect x="481.60" y="155.23" width="12.40" height="18.23" fill="#d5d5d5"/>
<rect x="493.70" y="155.23" width="12.40" height="18.23" fill="#cccccc"/>
<rect x="505.80" y="155.23" width="12.40" height="18.23" fill="#b0b0b0"/>
<rect x="517.90" y="155.23" width="12.40" height="18.23" fill="#999999"/>
<rect x="530.00" y="155.23" width="12.40" height="18.23" fill="#7a7a7a"/>
<rect x="542.10" y="155.23" width="12.40" height="18.23" fill="#777777"/>
<rect x="554.20" y="155.23" width="12.40" height="18.23" fill="#777777"/>
<rect x="566.30" y="155.23" width="12.40" height="18.23" fill="#909090"/>
<rect x="578.40" y="155.23" width="12.40" height="18.23" fill="#b0b0b0"/>
<rect x="590.50" y="155.23" width="12.40" height="18.23" fill="#c8c8c8"/>
<rect x="602.60" y="155.23" width="12.40" height="18.23" fill="#d4d4d4"/>
<rect x="614.70" y="155.23" width="12.40" height="18.23" fill="#d2d2d2"/>
<rect x="626.80" y="155.23" width="12.40" height="18.23" fill="#c8c8c8"/>
<rect x="638.90" y="155.23" width="12.40" height="18.23" fill="#bcbcbc"/>
<rect x="651.00" y="155.23" width="12.40" height="18.23" fill="#b0b0b0"/>
<rect x="663.10" y="155.23" width="12.40" height="18.23" fill="#b8b8b8"/>
<rect x="675.20" y="155.23" width="12.40" height="18.23" fill="#c8c8c8"/>
<rect x="687.30" y="155.23" width="12.40" height="18.23" fill="#d3d3d3"/>
<rect x="699.40" y="155.23" width="12.40" height="18.23" fill="#d8d8d8"/>
<rect x="711.50" y="155.23" width="12.40" height="18.23" fill="#d8d8d8"/>
<rect x="723.60" y="155.23" width="12.40" height="18.23" fill="#d5d5d5"/>
<rect x="735.70" y="155.23" width="12.40" height="18.23" fill="#cecece"/>
<rect x="747.80" y="155.23" width="11.50" height="18.23" fill="#c5c5c5"/>
<rect x="469.50" y="173.17" width="12.40" height="18.23" fill="#d5d5d5"/>
<rect x="481.60" y="173.17" width="12.40" height="18.23" fill="#d3d3d3"/>
<rect x="493.70" y="173.17" width="12.40" height="18.23" fill="#cbcbcb"/>
<rect x="505.80" y="173.17" width="12.40" height="18.23" fill="#bdbdbd"/>
<rect x="517.90" y="173.17" width="12.40" height="18.23" fill="#a9a9a9"/>
<rect x="530.00" y="173.17" width="12.40" height="18.23" fill="#8e8e8e"/>
<rect x="542.10" y="173.17" width="12.40" height="18.23" fill="#878787"/>
<rect x="554.20" y="173.17" width="12.40" height="18.23" fill="#929292"/>
<rect x="566.30" y="173.17" width="12.40" height="18.23" fill="#9c9c9c"/>
<rect x="578.40" y="173.17" width="12.40" height="18.23" fill="#b5b5b5"/>
<rect x="590.50" y="173.17" width="12.40" height="18.23" fill="#cbcbcb"/>
<rect x="602.60" y="173.17" width="12.40" height="18.23" fill="#d5d5d5"/>
<rect x="614.70" y="173.17" width="12.40" height="18.23" fill="#d5d5d5"/>
<rect x="626.80" y="173.17" width="12.40" height="18.23" fill="#cbcbcb"/>
<rect x="638.90" y="173.17" width="12.40" height="18.23" fill="#c0c0c0"/>
<rect x="651.00" y="173.17" width="12.40" height="18.23" fill="#b8b8b8"/>
<rect x="663.10" y="173.17" width="12.40" height="18.23" fill="#b8b8b8"/>
<rect x="675.20" y="173.17" width="12.40" height="18.23" fill="#c5c5c5"/>
<rect x="687.30" y="173.17" width="12.40" height="18.23" fill="#cecece"/>
<rect x="699.40" y="173.17" width="12.40" height="18.23" fill="#d4d4d4"/>
<rect x="711.50" y="173.17" width="12.40" height="18.23" fill="#d5d5d5"/>
<rect x="723.60" y="173.17" width="12.40" height="18.23" fill="#d2d2d2"/>
<rect x="735.70" y="173.17" width="12.40" height="18.23" fill="#cbcbcb"/>
<rect x="747.80" y="173.17" width="11.50" height="18.23" fill="#c5c5c5"/>
<rect x="469.50" y="191.10" width="12.40" height="18.23" fill="#cfcfcf"/>
<rect x="481.60" y="191.10" width="12.40" height="18.23" fill="#cdcdcd"/>
<rect x="493.70" y="191.10" width="12.40" height="18.23" fill="#c5c5c5"/>
<rect x="505.80" y="191.10" width="12.40" height="18.23" fill="#bcbcbc"/>
<rect x="517.90" y="191.10" width="12.40" height="18.23" fill="#aeaeae"/>
<rect x="530.00" y="191.10" width="12.40" height="18.23" fill="#9b9b9b"/>
<rect x="542.10" y="191.10" width="12.40" height="18.23" fill="#959595"/>
<rect x="554.20" y="191.10" width="12.40" height="18.23" fill="#9c9c9c"/>
<rect x="566.30" y="191.10" width="12.40" height="18.23" fill="#a8a8a8"/>
<rect x="578.40" y="191.10" width="12.40" height="18.23" fill="#bcbcbc"/>
<rect x="590.50" y="191.10" width="12.40" height="18.23" fill="#cecece"/>
<rect x="602.60" y="191.10" width="12.40" height="18.23" fill="#d7d7d7"/>
<rect x="614.70" y="191.10" width="12.40" height="18.23" fill="#d5d5d5"/>
<rect x="626.80" y="191.10" width="12.40" height="18.23" fill="#cacaca"/>
<rect x="638.90" y="191.10" width="12.40" height="18.23" fill="#bdbdbd"/>
<rect x="651.00" y="191.10" width="12.40" height="18.23" fill="#b5b5b5"/>
<rect x="663.10" y="191.10" width="12.40" height="18.23" fill="#b5b5b5"/>
<rect x="675.20" y="191.10" width="12.40" height="18.23" fill="#c3c3c3"/>
<rect x="687.30" y="191.10" width="12.40" height="18.23" fill="#cccccc"/>
<rect x="699.40" y="191.10" width="12.40" height="18.23" fill="#d2d2d2"/>
<rect x="711.50" y="191.10" width="12.40" height="18.23" fill="#d2d2d2"/>
<rect x="723.60" y="191.10" width="12.40" height="18.23" fill="#d0d0d0"/>
<rect x="735.70" y="191.10" width="12.40" height="18.23" fill="#c8c8c8"/>
<rect x="747.80" y="191.10" width="11.50" height="18.23" fill="#c3c3c3"/>
<rect x="469.50" y="209.03" width="12.40" height="18.23" fill="#cbcbcb"/>
<rect x="481.60" y="209.03" width="12.40" height="18.23" fill="#c8c8c8"/>
<rect x="493.70" y="209.03" width="12.40" height="18.23" fill="#c2c2c2"/>
<rect x="505.80" y="209.03" width="12.40" height="18.23" fill="#b9b9b9"/>
<rect x="517.90" y="209.03" width="12.40" height="18.23" fill="#b0b0b0"/>
<rect x="530.00" y="209.03" width="12.40" height="18.23" fill="#a5a5a5"/>
<rect x="542.10" y="209.03" width="12.40" height="18.23" fill="#a3a3a3"/>
<rect x="554.20" y="209.03" width="12.40" height="18.23" fill="#a8a8a8"/>
<rect x="566.30" y="209.03" width="12.40" height="18.23" fill="#b2b2b2"/>
<rect x="578.40" y="209.03" width="12.40" height="18.23" fill="#c0c0c0"/>
<rect x="590.50" y="209.03" width="12.40" height="18.23" fill="#cecece"/>
<rect x="602.60" y="209.03" width="12.40" height="18.23" fill="#d5d5d5"/>
<rect x="614.70" y="209.03" width="12.40" height="18.23" fill="#d0d0d0"/>
<rect x="626.80" y="209.03" width="12.40" height="18.23" fill="#c5c5c5"/>
<rect x="638.90" y="209.03" width="12.40" height="18.23" fill="#b8b8b8"/>
<rect x="651.00" y="209.03" width="12.40" height="18.23" fill="#b0b0b0"/>
<rect x="663.10" y="209.03" width="12.40" height="18.23" fill="#b0b0b0"/>
<rect x="675.20" y="209.03" width="12.40" height="18.23" fill="#bdbdbd"/>
<rect x="687.30" y="209.03" width="12.40" height="18.23" fill="#c8c8c8"/>
<rect x="699.40" y="209.03" width="12.40" height="18.23" fill="#cdcdcd"/>
<rect x="711.50" y="209.03" width="12.40" height="18.23" fill="#cecece"/>
<rect x="723.60" y="209.03" width="12.40" height="18.23" fill="#cbcbcb"/>
<rect x="735.70" y="209.03" width="12.40" height="18.23" fill="#c5c5c5"/>
<rect x="747.80" y="209.03" width="11.50" height="18.23" fill="#c0c0c0"/>
<rect x="469.50" y="226.97" width="12.40" height="18.23" fill="#c6c6c6"/>
<rect x="481.60" y="226.97" width="12.40" height="18.23" fill="#c3c3c3"/>
<rect x="493.70" y="226.97" width="12.40" height="18.23" fill="#bdbdbd"/>
<rect x="505.80" y="226.97" width="12.40" height="18.23" fill="#b5b5b5"/>
<rect x="517.90" y="226.97" width="12.40" height="18.23" fill="#aeaeae"/>
<rect x="530.00" y="226.97" width="12.40" height="18.23" fill="#a8a8a8"/>
<rect x="542.10" y="226.97" width="12.40" height="18.23" fill="#a8a8a8"/>
<rect x="554.20" y="226.97" width="12.40" height="18.23" fill="#acacac"/>
<rect x="566.30" y="226.97" width="12.40" height="18.23" fill="#b5b5b5"/>
<rect x="578.40" y="226.97" width="12.40" height="18.23" fill="#c0c0c0"/>
<rect x="590.50" y="226.97" width="12.40" height="18.23" fill="#cacaca"/>
<rect x="602.60" y="226.97" width="12.40" height="18.23" fill="#cccccc"/>
<rect x="614.70" y="226.97" width="12.40" height="18.23" fill="#c5c5c5"/>
<rect x="626.80" y="226.97" width="12.40" height="18.23" fill="#b8b8b8"/>
<rect x="638.90" y="226.97" width="12.40" height="18.23" fill="#acacac"/>
<rect x="651.00" y="226.97" width="12.40" height="18.23" fill="#a5a5a5"/>
<rect x="663.10" y="226.97" width="12.40" height="18.23" fill="#a0a0a0"/>
<rect x="675.20" y="226.97" width="12.40" height="18.23" fill="#a8a8a8"/>
<rect x="687.30" y="226.97" width="12.40" height="18.23" fill="#b5b5b5"/>
<rect x="699.40" y="226.97" width="12.40" height="18.23" fill="#bebebe"/>
<rect x="711.50" y="226.97" width="12.40" height="18.23" fill="#c4c4c4"/>
<rect x="723.60" y="226.97" width="12.40" height="18.23" fill="#c4c4c4"/>
<rect x="735.70" y="226.97" width="12.40" height="18.23" fill="#c0c0c0"/>
<rect x="747.80" y="226.97" width="11.50" height="18.23" fill="#bdbdbd"/>
<rect x="469.50" y="244.90" width="12.40" height="18.23" fill="#c0c0c0"/>
<rect x="481.60" y="244.90" width="12.40" height="18.23" fill="#bdbdbd"/>
<rect x="493.70" y="244.90" width="12.40" height="18.23" fill="#b8b8b8"/>
<rect x="505.80" y="244.90" width="12.40" height="18.23" fill="#b2b2b2"/>
<rect x="517.90" y="244.90" width="12.40" height="18.23" fill="#adadad"/>
<rect x="530.00" y="244.90" width="12.40" height="18.23" fill="#aaaaaa"/>
<rect x="542.10" y="244.90" width="12.40" height="18.23" fill="#ababab"/>
<rect x="554.20" y="244.90" width="12.40" height="18.23" fill="#adadad"/>
<rect x="566.30" y="244.90" width="12.40" height="18.23" fill="#b5b5b5"/>
<rect x="578.40" y="244.90" width="12.40" height="18.23" fill="#bebebe"/>
<rect x="590.50" y="244.90" width="12.40" height="18.23" fill="#c5c5c5"/>
<rect x="602.60" y="244.90" width="12.40" height="18.23" fill="#c3c3c3"/>
<rect x="614.70" y="244.90" width="12.40" height="18.23" fill="#b8b8b8"/>
<rect x="626.80" y="244.90" width="12.40" height="18.23" fill="#a8a8a8"/>
<rect x="638.90" y="244.90" width="12.40" height="18.23" fill="#9c9c9c"/>
<rect x="651.00" y="244.90" width="12.40" height="18.23" fill="#979797"/>
<rect x="663.10" y="244.90" width="12.40" height="18.23" fill="#8a8a8a"/>
<rect x="675.20" y="244.90" width="12.40" height="18.23" fill="#939393"/>
<rect x="687.30" y="244.90" width="12.40" height="18.23" fill="#a0a0a0"/>
<rect x="699.40" y="244.90" width="12.40" height="18.23" fill="#aeaeae"/>
<rect x="711.50" y="244.90" width="12.40" height="18.23" fill="#b8b8b8"/>
<rect x="723.60" y="244.90" width="12.40" height="18.23" fill="#bcbcbc"/>
<rect x="735.70" y="244.90" width="12.40" height="18.23" fill="#bcbcbc"/>
<rect x="747.80" y="244.90" width="11.50" height="18.23" fill="#bbbbbb"/>
<rect x="469.50" y="262.83" width="12.40" height="18.23" fill="#bfbfbf"/>
<rect x="481.60" y="262.83" width="12.40" height="18.23" fill="#bcbcbc"/>
<rect x="493.70" y="262.83" width="12.40" height="18.23" fill="#b8b8b8"/>
<rect x="505.80" y="262.83" width="12.40" height="18.23" fill="#b2b2b2"/>
<rect x="517.90" y="262.83" width="12.40" height="18.23" fill="#aaaaaa"/>
<rect x="530.00" y="262.83" width="12.40" height="18.23" fill="#a8a8a8"/>
<rect x="542.10" y="262.83" width="12.40" height="18.23" fill="#ababab"/>
<rect x="554.20" y="262.83" width="12.40" height="18.23" fill="#b5b5b5"/>
<rect x="566.30" y="262.83" width="12.40" height="18.23" fill="#bcbcbc"/>
<rect x="578.40" y="262.83" width="12.40" height="18.23" fill="#c2c2c2"/>
<rect x="590.50" y="262.83" width="12.40" height="18.23" fill="#c5c5c5"/>
<rect x="602.60" y="262.83" width="12.40" height="18.23" fill="#bdbdbd"/>
<rect x="614.70" y="262.83" width="12.40" height="18.23" fill="#ababab"/>
<rect x="626.80" y="262.83" width="12.40" height="18.23" fill="#989898"/>
<rect x="638.90" y="262.83" width="12.40" height="18.23" fill="#888888"/>
<rect x="651.00" y="262.83" width="12.40" height="18.23" fill="#7f7f7f"/>
<rect x="663.10" y="262.83" width="12.40" height="18.23" fill="#7a7a7a"/>
<rect x="675.20" y="262.83" width="12.40" height="18.23" fill="#7c7c7c"/>
<rect x="687.30" y="262.83" width="12.40" height="18.23" fill="#858585"/>
<rect x="699.40" y="262.83" width="12.40" height="18.23" fill="#999999"/>
<rect x="711.50" y="262.83" width="12.40" height="18.23" fill="#aaaaaa"/>
<rect x="723.60" y="262.83" width="12.40" height="18.23" fill="#b5b5b5"/>
<rect x="735.70" y="262.83" width="12.40" height="18.23" fill="#bbbbbb"/>
<rect x="747.80" y="262.83" width="11.50" height="18.23" fill="#bcbcbc"/>
<rect x="469.50" y="280.77" width="12.40" height="18.23" fill="#bababa"/>
<rect x="481.60" y="280.77" width="12.40" height="18.23" fill="#b8b8b8"/>
<rect x="493.70" y="280.77" width="12.40" height="18.23" fill="#b5b5b5"/>
<rect x="505.80" y="280.77" width="12.40" height="18.23" fill="#b3b3b3"/>
<rect x="517.90" y="280.77" width="12.40" height="18.23" fill="#afafaf"/>
<rect x="530.00" y="280.77" width="12.40" height="18.23" fill="#acacac"/>
<rect x="542.10" y="280.77" width="12.40" height="18.23" fill="#b0b0b0"/>
<rect x="554.20" y="280.77" width="12.40" height="18.23" fill="#b8b8b8"/>
<rect x="566.30" y="280.77" width="12.40" height="18.23" fill="#bbbbbb"/>
<rect x="578.40" y="280.77" width="12.40" height="18.23" fill="#c0c0c0"/>
<rect x="590.50" y="280.77" width="12.40" height="18.23" fill="#bfbfbf"/>
<rect x="602.60" y="280.77" width="12.40" height="18.23" fill="#b2b2b2"/>
<rect x="614.70" y="280.77" width="12.40" height="18.23" fill="#999999"/>
<rect x="626.80" y="280.77" width="12.40" height="18.23" fill="#7a7a7a"/>
<rect x="638.90" y="280.77" width="12.40" height="18.23" fill="#606060"/>
<rect x="651.00" y="280.77" width="12.40" height="18.23" fill="#505050"/>
<rect x="663.10" y="280.77" width="12.40" height="18.23" fill="#4a4a4a"/>
<rect x="675.20" y="280.77" width="12.40" height="18.23" fill="#4e4e4e"/>
<rect x="687.30" y="280.77" width="12.40" height="18.23" fill="#5e5e5e"/>
<rect x="699.40" y="280.77" width="12.40" height="18.23" fill="#7c7c7c"/>
<rect x="711.50" y="280.77" width="12.40" height="18.23" fill="#9a9a9a"/>
<rect x="723.60" y="280.77" width="12.40" height="18.23" fill="#afafaf"/>
<rect x="735.70" y="280.77" width="12.40" height="18.23" fill="#b8b8b8"/>
<rect x="747.80" y="280.77" width="11.50" height="18.23" fill="#bbbbbb"/>
<rect x="469.50" y="298.70" width="12.40" height="18.23" fill="#b0b0b0"/>
<rect x="481.60" y="298.70" width="12.40" height="18.23" fill="#b0b0b0"/>
<rect x="493.70" y="298.70" width="12.40" height="18.23" fill="#b3b3b3"/>
<rect x="505.80" y="298.70" width="12.40" height="18.23" fill="#b5b5b5"/>
<rect x="517.90" y="298.70" width="12.40" height="18.23" fill="#b5b5b5"/>
<rect x="530.00" y="298.70" width="12.40" height="18.23" fill="#b3b3b3"/>
<rect x="542.10" y="298.70" width="12.40" height="18.23" fill="#b5b5b5"/>
<rect x="554.20" y="298.70" width="12.40" height="18.23" fill="#bbbbbb"/>
<rect x="566.30" y="298.70" width="12.40" height="18.23" fill="#bcbcbc"/>
<rect x="578.40" y="298.70" width="12.40" height="18.23" fill="#bcbcbc"/>
<rect x="590.50" y="298.70" width="12.40" height="18.23" fill="#b8b8b8"/>
<rect x="602.60" y="298.70" width="12.40" height="18.23" fill="#a5a5a5"/>
<rect x="614.70" y="298.70" width="12.40" height="18.23" fill="#878787"/>
<rect x="626.80" y="298.70" width="12.40" height="18.23" fill="#626262"/>
<rect x="638.90" y="298.70" width="12.40" height="18.23" fill="#404040"/>
<rect x="651.00" y="298.70" width="12.40" height="18.23" fill="#2f2f2f"/>
<rect x="663.10" y="298.70" width="12.40" height="18.23" fill="#2a2a2a"/>
<rect x="675.20" y="298.70" width="12.40" height="18.23" fill="#303030"/>
<rect x="687.30" y="298.70" width="12.40" height="18.23" fill="#464646"/>
<rect x="699.40" y="298.70" width="12.40" height="18.23" fill="#6a6a6a"/>
<rect x="711.50" y="298.70" width="12.40" height="18.23" fill="#8f8f8f"/>
<rect x="723.60" y="298.70" width="12.40" height="18.23" fill="#aaaaaa"/>
<rect x="735.70" y="298.70" width="12.40" height="18.23" fill="#b5b5b5"/>
<rect x="747.80" y="298.70" width="11.50" height="18.23" fill="#b8b8b8"/>
<rect x="469.50" y="316.63" width="12.40" height="18.23" fill="#a5a5a5"/>
<rect x="481.60" y="316.63" width="12.40" height="18.23" fill="#a8a8a8"/>
<rect x="493.70" y="316.63" width="12.40" height="18.23" fill="#b0b0b0"/>
<rect x="505.80" y="316.63" width="12.40" height="18.23" fill="#b8b8b8"/>
<rect x="517.90" y="316.63" width="12.40" height="18.23" fill="#bcbcbc"/>
<rect x="530.00" y="316.63" width="12.40" height="18.23" fill="#bcbcbc"/>
<rect x="542.10" y="316.63" width="12.40" height="18.23" fill="#bcbcbc"/>
<rect x="554.20" y="316.63" width="12.40" height="18.23" fill="#bdbdbd"/>
<rect x="566.30" y="316.63" width="12.40" height="18.23" fill="#bcbcbc"/>
<rect x="578.40" y="316.63" width="12.40" height="18.23" fill="#bbbbbb"/>
<rect x="590.50" y="316.63" width="12.40" height="18.23" fill="#b2b2b2"/>
<rect x="602.60" y="316.63" width="12.40" height="18.23" fill="#9c9c9c"/>
<rect x="614.70" y="316.63" width="12.40" height="18.23" fill="#7a7a7a"/>
<rect x="626.80" y="316.63" width="12.40" height="18.23" fill="#525252"/>
<rect x="638.90" y="316.63" width="12.40" height="18.23" fill="#2d2d2d"/>
<rect x="651.00" y="316.63" width="12.40" height="18.23" fill="#1d1d1d"/>
<rect x="663.10" y="316.63" width="12.40" height="18.23" fill="#151515"/>
<rect x="675.20" y="316.63" width="12.40" height="18.23" fill="#1e1e1e"/>
<rect x="687.30" y="316.63" width="12.40" height="18.23" fill="#383838"/>
<rect x="699.40" y="316.63" width="12.40" height="18.23" fill="#5f5f5f"/>
<rect x="711.50" y="316.63" width="12.40" height="18.23" fill="#878787"/>
<rect x="723.60" y="316.63" width="12.40" height="18.23" fill="#a5a5a5"/>
<rect x="735.70" y="316.63" width="12.40" height="18.23" fill="#b3b3b3"/>
<rect x="747.80" y="316.63" width="11.50" height="18.23" fill="#b8b8b8"/>
<rect x="469.50" y="334.57" width="12.40" height="18.23" fill="#a0a0a0"/>
<rect x="481.60" y="334.57" width="12.40" height="18.23" fill="#a5a5a5"/>
<rect x="493.70" y="334.57" width="12.40" height="18.23" fill="#aeaeae"/>
<rect x="505.80" y="334.57" width="12.40" height="18.23" fill="#b8b8b8"/>
<rect x="517.90" y="334.57" width="12.40" height="18.23" fill="#bdbdbd"/>
<rect x="530.00" y="334.57" width="12.40" height="18.23" fill="#bdbdbd"/>
<rect x="542.10" y="334.57" width="12.40" height="18.23" fill="#bdbdbd"/>
<rect x="554.20" y="334.57" width="12.40" height="18.23" fill="#c0c0c0"/>
<rect x="566.30" y="334.57" width="12.40" height="18.23" fill="#bcbcbc"/>
<rect x="578.40" y="334.57" width="12.40" height="18.23" fill="#b8b8b8"/>
<rect x="590.50" y="334.57" width="12.40" height="18.23" fill="#adadad"/>
<rect x="602.60" y="334.57" width="12.40" height="18.23" fill="#959595"/>
<rect x="614.70" y="334.57" width="12.40" height="18.23" fill="#737373"/>
<rect x="626.80" y="334.57" width="12.40" height="18.23" fill="#4a4a4a"/>
<rect x="638.90" y="334.57" width="12.40" height="18.23" fill="#252525"/>
<rect x="651.00" y="334.57" width="12.40" height="18.23" fill="#101010"/>
<rect x="663.10" y="334.57" width="12.40" height="18.23" fill="#0a0a0a"/>
<rect x="675.20" y="334.57" width="12.40" height="18.23" fill="#181818"/>
<rect x="687.30" y="334.57" width="12.40" height="18.23" fill="#333333"/>
<rect x="699.40" y="334.57" width="12.40" height="18.23" fill="#5a5a5a"/>
<rect x="711.50" y="334.57" width="12.40" height="18.23" fill="#858585"/>
<rect x="723.60" y="334.57" width="12.40" height="18.23" fill="#a3a3a3"/>
<rect x="735.70" y="334.57" width="12.40" height="18.23" fill="#b2b2b2"/>
<rect x="747.80" y="334.57" width="11.50" height="18.23" fill="#b8b8b8"/>
</g>
<polyline fill="none" stroke="#000" stroke-width="1.9" stroke-linejoin="round" points="507.6,83.5 509.4,105.7 512.1,132.1 515.9,158.6 520.8,181.2 526.4,200.1 533.2,215.2 545.3,222.8 557.4,205.8 562.3,188.8 568.0,158.6 572.5,132.1 575.6,105.7 577.4,83.5"/>
<polyline fill="none" stroke="#000" stroke-width="1.9" stroke-linejoin="round" points="610.3,352.5 610.8,334.7 612.9,318.8 616.9,305.6 622.2,293.7 628.8,283.1 636.8,273.8 646.0,264.6 658.0,258.5 669.9,255.3 683.2,257.4 696.5,261.9 709.7,272.5 720.3,287.1 728.2,301.6 733.0,316.2 735.1,332.1 735.7,352.5"/>
<line x1="554.8" y1="83.5" x2="665" y2="350.4" stroke="#fff" stroke-width="1.8"/>
<polygon fill="#808080" stroke="none" points="350.6,83.5 355.2,87.6 363.0,92.6 360.3,96.9 370.7,100.3 358.0,104.2 359.1,110.7 364.0,118.1 356.6,125.8 376.2,131.5 359.9,143.0 367.2,152.7 361.5,160.1 369.7,164.2 364.0,169.1 367.3,170.0 362.6,180.6 374.4,184.2 361.4,190.1 372.0,198.4 362.6,205.5 370.8,209.0 361.4,212.6 362.6,224.4 369.7,231.5 364.9,238.6 368.5,245.7 364.9,252.8 365.0,260.0 367.5,267.0 365.0,272.0 381.8,275.5 368.7,279.0 370.0,288.7 377.0,298.2 380.6,301.8 374.7,306.6 365.9,320.0 369.8,323.3 376.4,331.6 369.2,336.0 385.2,343.8 361.5,348.7 367.0,352.5 438.7,352.5 440.0,351.4 464.3,344.2 448.9,340.2 454.6,336.2 446.5,332.1 462.7,327.3 445.7,322.4 453.5,311.4 455.9,298.2 451.1,288.7 454.7,283.9 451.1,269.6 454.7,263.6 448.9,262.0 435.9,254.0 441.8,248.1 425.3,241.0 444.2,238.6 434.7,225.6 444.2,220.9 430.0,207.9 435.9,199.6 424.1,194.8 445.4,190.1 428.8,180.6 438.3,174.7 434.9,169.9 452.0,165.0 434.9,156.0 447.2,147.8 431.7,140.5 443.9,134.8 426.0,130.7 434.9,127.1 426.0,122.2 429.2,118.9 431.7,108.3 424.3,104.2 430.0,100.1 426.8,96.1 427.6,91.2 420.2,87.1 421.0,83.5"/>
<polyline fill="none" stroke="#000" stroke-width="2.0" stroke-linejoin="miter" points="386.9,83.5 387.7,86.1 392.4,89.2 396.2,91.5 394.7,94.6 400.8,100.8 390.8,104.6 395.4,110.8 394.7,115.4 397.8,118.5 393.1,123.2 397.8,128.6 408.6,134.0 398.5,138.6 398.1,142.3 405.1,147.7 399.7,155.4 399.7,160.1 412.0,164.7 399.7,169.3 408.2,177.8 394.3,181.7 408.2,186.3 395.8,194.8 402.0,198.0 397.4,201.9 402.8,205.7 394.3,211.9 406.6,220.4 397.4,225.0 408.9,236.6 395.8,242.0 405.1,245.9 402.8,252.1 403.9,255.0 400.8,258.1 419.3,262.7 407.0,268.1 408.5,272.0 419.3,275.8 413.2,280.5 408.5,287.4 414.7,292.8 416.3,297.5 421.7,301.3 417.3,307.9 415.1,313.7 410.1,318.0 406.5,323.0 412.3,325.9 418.0,327.3 410.8,330.9 411.5,336.0 413.7,340.3 425.9,343.9 405.8,347.5 402.2,352.5"/>
<polyline points="397.8,83.5 398.3,140 400.4,198 403,230 405.5,257 409,286 411.5,310 416.6,352.5" fill="none" stroke="#000" stroke-width="1.8" stroke-dasharray="1.8,3"/>
<polyline fill="none" stroke="#f00" stroke-width="1.8" stroke-dasharray="2,3.1" points="55.5,71.4 56.0,71.4 56.5,71.4 57.0,71.4 57.5,71.4 58.0,71.4 58.5,71.4 59.0,71.4 59.5,71.4 60.0,71.4 60.5,71.4 61.0,71.4 61.5,71.4 62.0,71.4 62.5,71.4 63.0,71.4 63.5,71.4 64.0,71.4 64.5,71.4 65.0,71.4 65.5,71.4 66.0,71.4 66.5,71.4 67.0,71.4 67.5,71.4 68.0,71.4 68.5,71.4 69.0,71.4 69.5,71.4 70.0,71.4 70.5,71.4 71.0,71.4 71.5,71.4 72.0,71.4 72.5,71.4 73.0,71.4 73.5,71.4 74.0,71.4 74.5,71.4 75.0,71.4 75.5,71.4 76.0,71.4 76.5,71.4 77.0,71.4 77.5,71.4 78.0,71.4 78.5,71.4 79.0,71.4 79.5,71.4 80.0,71.4 80.5,71.4 81.0,71.4 81.5,71.4 82.0,71.4 82.5,71.4 83.0,71.4 83.5,71.4 84.0,71.4 84.5,71.4 85.0,71.4 85.5,71.4 86.0,71.4 86.5,71.4 87.0,71.4 87.5,71.4 88.0,71.4 88.5,71.4 89.0,71.4 89.5,71.4 90.0,71.4 90.5,71.4 91.0,71.4 91.5,71.4 92.0,71.4 92.5,71.4 93.0,71.4 93.5,71.4 94.0,71.4 94.5,71.4 95.0,71.4 95.5,71.4 96.0,71.4 96.5,71.4 97.0,71.4 97.5,71.4 98.0,71.4 98.5,71.4 99.0,71.4 99.5,71.4 100.0,71.4 100.5,71.4 101.0,71.4 101.5,71.4 102.0,71.4 102.5,71.4 103.0,71.4 103.5,71.4 104.0,71.4 104.5,71.4 105.0,71.4 105.5,71.4 106.0,71.4 106.5,71.4 107.0,71.4 107.5,71.4 108.0,71.4 108.5,71.4 109.0,71.4 109.5,71.4 110.0,71.4 110.5,71.4 111.0,71.4 111.5,71.4 112.0,71.4 112.5,71.4 113.0,71.4 113.5,71.4 114.0,71.4 114.5,71.4 115.0,71.4 115.5,71.4 116.0,71.4 116.5,71.4 117.0,71.4 117.5,71.4 118.0,71.4 118.5,71.4 119.0,71.4 119.5,71.4 120.0,71.4 120.5,71.4 121.0,71.4 121.5,71.4 122.0,71.4 122.5,71.4 123.0,71.4 123.5,71.4 124.0,71.4 124.5,71.4 125.0,71.4 125.5,71.4 126.0,71.4 126.5,71.4 127.0,71.4 127.5,71.4 128.0,71.4 128.5,71.4 129.0,71.4 129.5,71.4 130.0,71.4 130.5,71.4 131.0,71.4 131.5,71.4 132.0,71.4 132.5,71.4 133.0,71.4 133.5,71.4 134.0,71.4 134.5,71.4 135.0,71.4 135.5,71.4 136.0,71.4 136.5,71.4 137.0,71.4 137.5,71.4 138.0,71.4 138.5,71.4 139.0,71.4 139.5,71.4 140.0,71.4 140.5,71.4 141.0,71.4 141.5,71.4 142.0,71.4 142.5,71.4 143.0,71.4 143.5,71.4 144.0,71.4 144.5,71.4 145.0,71.4 145.5,71.4 146.0,71.4 146.5,71.4 147.0,71.4 147.5,71.4 148.0,71.4 148.5,71.4 149.0,71.4 149.5,71.4 150.0,71.4 150.5,71.4 151.0,71.4 151.5,71.4 152.0,71.4 152.5,71.4 153.0,71.4 153.5,71.4 154.0,71.4 154.5,71.4 155.0,71.4 155.5,71.4 156.0,71.4 156.5,71.4 157.0,71.4 157.5,71.4 158.0,71.4 158.5,71.3 159.0,71.3 159.5,71.2 160.0,71.2 160.5,71.0 161.0,70.9 161.5,70.6 162.0,70.3 162.5,69.8 163.0,69.2 163.5,68.4 164.0,67.3 164.5,66.0 165.0,64.4 165.5,62.4 166.0,60.0 166.5,57.3 167.0,54.1 167.5,50.6 168.0,46.7 168.5,42.6 169.0,38.3 169.5,33.9 170.0,29.6 170.5,25.6 171.0,22.0 171.5,18.9 172.0,16.4 172.5,14.8 173.0,14.0 173.5,14.1 174.0,15.0 174.5,16.9 175.0,19.4 175.5,22.7 176.0,26.4 176.5,30.5 177.0,34.8 177.5,39.1 178.0,43.4 178.5,47.5 179.0,51.3 179.5,54.8 180.0,57.8 180.5,60.5 181.0,62.8 181.5,64.7 182.0,66.3 182.5,67.5 183.0,68.5 183.5,69.3 184.0,69.9 184.5,70.3 185.0,70.7 185.5,70.9 186.0,71.1 186.5,71.2 187.0,71.3 187.5,71.3 188.0,71.3 188.5,71.4 189.0,71.4 189.5,71.4 190.0,71.4 190.5,71.4 191.0,71.4 191.5,71.4 192.0,71.4 192.5,71.4 193.0,71.4 193.5,71.4 194.0,71.4 194.5,71.4 195.0,71.4 195.5,71.4 196.0,71.4 196.5,71.4 197.0,71.4 197.5,71.4 198.0,71.4 198.5,71.4 199.0,71.4 199.5,71.4 200.0,71.4 200.5,71.4 201.0,71.4 201.5,71.4 202.0,71.4 202.5,71.4 203.0,71.4 203.5,71.4 204.0,71.4 204.5,71.4 205.0,71.4 205.5,71.4 206.0,71.4 206.5,71.4 207.0,71.4 207.5,71.4 208.0,71.4 208.5,71.4 209.0,71.4 209.5,71.4 210.0,71.4 210.5,71.4 211.0,71.4 211.5,71.4 212.0,71.4 212.5,71.4 213.0,71.4 213.5,71.4 214.0,71.4 214.5,71.4 215.0,71.4 215.5,71.4 216.0,71.4 216.5,71.4 217.0,71.4 217.5,71.4 218.0,71.4 218.5,71.4 219.0,71.4 219.5,71.4 220.0,71.4 220.5,71.4 221.0,71.4 221.5,71.4 222.0,71.4 222.5,71.4 223.0,71.4 223.5,71.4 224.0,71.4 224.5,71.4 225.0,71.4 225.5,71.4 226.0,71.4 226.5,71.4 227.0,71.4 227.5,71.4 228.0,71.4 228.5,71.4 229.0,71.4 229.5,71.4 230.0,71.4 230.5,71.4 231.0,71.4 231.5,71.4 232.0,71.4 232.5,71.4 233.0,71.4 233.5,71.4 234.0,71.4 234.5,71.4 235.0,71.4 235.5,71.4 236.0,71.4 236.5,71.4 237.0,71.4 237.5,71.4 238.0,71.4 238.5,71.4 239.0,71.4 239.5,71.4 240.0,71.4 240.5,71.4 241.0,71.4 241.5,71.4 242.0,71.4 242.5,71.4 243.0,71.4 243.5,71.4 244.0,71.4 244.5,71.4 245.0,71.4 245.5,71.4 246.0,71.4 246.5,71.4 247.0,71.4 247.5,71.4 248.0,71.4 248.5,71.4 249.0,71.4 249.5,71.4 250.0,71.4 250.5,71.4 251.0,71.4 251.5,71.4 252.0,71.4 252.5,71.4 253.0,71.4 253.5,71.4 254.0,71.4 254.5,71.4 255.0,71.4 255.5,71.4 256.0,71.4 256.5,71.4 257.0,71.4 257.5,71.4 258.0,71.4 258.5,71.4 259.0,71.4 259.5,71.4 260.0,71.4 260.5,71.4 261.0,71.4 261.5,71.4 262.0,71.4 262.5,71.4 263.0,71.4 263.5,71.4 264.0,71.4 264.5,71.4 265.0,71.4 265.5,71.4 266.0,71.4 266.5,71.4 267.0,71.4 267.5,71.4 268.0,71.4 268.5,71.4 269.0,71.4 269.5,71.4 270.0,71.4 270.5,71.4 271.0,71.4 271.5,71.4 272.0,71.4 272.5,71.4 273.0,71.4 273.5,71.4 274.0,71.4 274.5,71.4 275.0,71.4 275.5,71.4 276.0,71.4 276.5,71.4 277.0,71.4 277.5,71.4 278.0,71.4 278.5,71.4 279.0,71.4 279.5,71.4 280.0,71.4 280.5,71.4 281.0,71.4 281.5,71.4 282.0,71.4 282.5,71.4 283.0,71.4 283.5,71.4 284.0,71.4 284.5,71.4 285.0,71.4 285.5,71.4 286.0,71.4 286.5,71.4 287.0,71.4 287.5,71.4 288.0,71.4 288.5,71.4 289.0,71.4 289.5,71.4 290.0,71.4 290.5,71.4 291.0,71.4 291.5,71.4 292.0,71.4 292.5,71.4 293.0,71.4 293.5,71.4 294.0,71.4 294.5,71.4 295.0,71.4 295.5,71.4 296.0,71.4 296.5,71.4 297.0,71.4 297.5,71.4 298.0,71.4 298.5,71.4 299.0,71.4 299.5,71.4 300.0,71.4 300.5,71.4 301.0,71.4 301.5,71.4 302.0,71.4 302.5,71.4 303.0,71.4 303.5,71.4 304.0,71.4 304.5,71.4 305.0,71.4 305.5,71.4 306.0,71.4 306.5,71.4 307.0,71.4 307.5,71.4 308.0,71.4 308.5,71.4 309.0,71.4 309.5,71.4 310.0,71.4 310.5,71.4 311.0,71.4 311.5,71.4 312.0,71.4 312.5,71.4 313.0,71.4 313.5,71.4 314.0,71.4 314.5,71.4 315.0,71.4 315.5,71.4 316.0,71.4 316.5,71.4 317.0,71.4 317.5,71.4 318.0,71.4 318.5,71.4 319.0,71.4 319.5,71.4 320.0,71.4 320.5,71.4 321.0,71.4 321.5,71.4 322.0,71.4 322.5,71.4 323.0,71.4 323.5,71.4 324.0,71.4 324.5,71.4 325.0,71.4 325.5,71.4 326.0,71.4 326.5,71.4 327.0,71.4 327.5,71.4 328.0,71.4 328.5,71.4 329.0,71.4 329.5,71.4 330.0,71.4 330.5,71.4 331.0,71.4 331.5,71.4 332.0,71.4 332.5,71.4 333.0,71.4 333.5,71.4 334.0,71.4 334.5,71.4 335.0,71.4 335.5,71.4 336.0,71.4 336.5,71.4 337.0,71.4 337.5,71.4 338.0,71.4 338.5,71.4 339.0,71.4 339.5,71.4 340.0,71.4 340.5,71.4 341.0,71.4 341.5,71.4 342.0,71.4 342.5,71.4 343.0,71.4 343.5,71.4 344.0,71.4 344.5,71.4 345.0,71.4 345.5,71.4"/>
<polyline fill="none" stroke="#008000" stroke-width="1.8" stroke-dasharray="2,3.1" points="55.5,71.9 56.0,71.9 56.5,71.9 57.0,71.9 57.5,71.9 58.0,71.9 58.5,71.9 59.0,71.9 59.5,71.9 60.0,71.9 60.5,71.9 61.0,71.9 61.5,71.9 62.0,71.9 62.5,71.9 63.0,71.9 63.5,71.9 64.0,71.9 64.5,71.9 65.0,71.9 65.5,71.9 66.0,71.9 66.5,71.9 67.0,71.9 67.5,71.9 68.0,71.9 68.5,71.9 69.0,71.9 69.5,71.9 70.0,71.9 70.5,71.9 71.0,71.9 71.5,71.9 72.0,71.9 72.5,71.9 73.0,71.9 73.5,71.9 74.0,71.9 74.5,71.9 75.0,71.9 75.5,71.9 76.0,71.9 76.5,71.9 77.0,71.9 77.5,71.9 78.0,71.9 78.5,71.9 79.0,71.9 79.5,71.9 80.0,71.9 80.5,71.9 81.0,71.9 81.5,71.9 82.0,71.9 82.5,71.9 83.0,71.9 83.5,71.9 84.0,71.9 84.5,71.9 85.0,71.9 85.5,71.9 86.0,71.9 86.5,71.9 87.0,71.9 87.5,71.9 88.0,71.9 88.5,71.9 89.0,71.9 89.5,71.9 90.0,71.9 90.5,71.9 91.0,71.9 91.5,71.9 92.0,71.9 92.5,71.9 93.0,71.9 93.5,71.9 94.0,71.9 94.5,71.9 95.0,71.9 95.5,71.9 96.0,71.9 96.5,71.9 97.0,71.9 97.5,71.9 98.0,71.9 98.5,71.9 99.0,71.9 99.5,71.9 100.0,71.9 100.5,71.9 101.0,71.9 101.5,71.9 102.0,71.9 102.5,71.9 103.0,71.9 103.5,71.9 104.0,71.9 104.5,71.9 105.0,71.9 105.5,71.9 106.0,71.9 106.5,71.9 107.0,71.9 107.5,71.9 108.0,71.9 108.5,71.9 109.0,71.9 109.5,71.9 110.0,71.9 110.5,71.9 111.0,71.9 111.5,71.9 112.0,71.9 112.5,71.9 113.0,71.9 113.5,71.9 114.0,71.9 114.5,71.9 115.0,71.9 115.5,71.9 116.0,71.9 116.5,71.9 117.0,71.9 117.5,71.9 118.0,71.9 118.5,71.9 119.0,71.9 119.5,71.9 120.0,71.9 120.5,71.9 121.0,71.9 121.5,71.9 122.0,71.9 122.5,71.9 123.0,71.9 123.5,71.9 124.0,71.9 124.5,71.9 125.0,71.9 125.5,71.9 126.0,71.9 126.5,71.9 127.0,71.9 127.5,71.9 128.0,71.9 128.5,71.9 129.0,71.9 129.5,71.9 130.0,71.9 130.5,71.9 131.0,71.9 131.5,71.9 132.0,71.9 132.5,71.9 133.0,71.9 133.5,71.9 134.0,71.9 134.5,71.9 135.0,71.9 135.5,71.9 136.0,71.9 136.5,71.9 137.0,71.9 137.5,71.9 138.0,71.9 138.5,71.9 139.0,71.9 139.5,71.9 140.0,71.9 140.5,71.9 141.0,71.9 141.5,71.9 142.0,71.9 142.5,71.9 143.0,71.9 143.5,71.9 144.0,71.9 144.5,71.9 145.0,71.9 145.5,71.9 146.0,71.9 146.5,71.9 147.0,71.9 147.5,71.9 148.0,71.9 148.5,71.9 149.0,71.9 149.5,71.9 150.0,71.9 150.5,71.9 151.0,71.9 151.5,71.9 152.0,71.9 152.5,71.9 153.0,71.9 153.5,71.9 154.0,71.9 154.5,71.9 155.0,71.9 155.5,71.9 156.0,71.9 156.5,71.9 157.0,71.9 157.5,71.9 158.0,71.9 158.5,71.9 159.0,71.9 159.5,71.9 160.0,71.9 160.5,71.9 161.0,71.9 161.5,71.9 162.0,71.9 162.5,71.9 163.0,71.9 163.5,71.9 164.0,71.9 164.5,71.9 165.0,71.9 165.5,71.9 166.0,71.9 166.5,71.9 167.0,71.9 167.5,71.9 168.0,71.9 168.5,71.9 169.0,71.9 169.5,71.9 170.0,71.9 170.5,71.9 171.0,71.9 171.5,71.9 172.0,71.9 172.5,71.9 173.0,71.9 173.5,71.9 174.0,71.9 174.5,71.9 175.0,71.9 175.5,71.9 176.0,71.9 176.5,71.9 177.0,71.9 177.5,71.9 178.0,71.9 178.5,71.9 179.0,71.9 179.5,71.9 180.0,71.9 180.5,71.9 181.0,71.9 181.5,71.9 182.0,71.9 182.5,71.9 183.0,71.9 183.5,71.9 184.0,71.9 184.5,71.9 185.0,71.9 185.5,71.9 186.0,71.9 186.5,71.9 187.0,71.9 187.5,71.9 188.0,71.9 188.5,71.9 189.0,71.9 189.5,71.9 190.0,71.9 190.5,71.9 191.0,71.9 191.5,71.9 192.0,71.9 192.5,71.9 193.0,71.9 193.5,71.9 194.0,71.8 194.5,71.7 195.0,71.6 195.5,71.3 196.0,70.9 196.5,70.2 197.0,69.2 197.5,67.9 198.0,66.2 198.5,64.2 199.0,61.9 199.5,59.6 200.0,57.3 200.5,55.5 201.0,54.3 201.5,53.9 202.0,54.3 202.5,55.5 203.0,57.3 203.5,59.6 204.0,61.9 204.5,64.2 205.0,66.2 205.5,67.9 206.0,69.2 206.5,70.2 207.0,70.9 207.5,71.3 208.0,71.6 208.5,71.7 209.0,71.8 209.5,71.9 210.0,71.9 210.5,71.9 211.0,71.9 211.5,71.9 212.0,71.9 212.5,71.9 213.0,71.9 213.5,71.9 214.0,71.9 214.5,71.9 215.0,71.9 215.5,71.9 216.0,71.9 216.5,71.9 217.0,71.9 217.5,71.9 218.0,71.9 218.5,71.9 219.0,71.9 219.5,71.9 220.0,71.9 220.5,71.9 221.0,71.9 221.5,71.9 222.0,71.9 222.5,71.9 223.0,71.9 223.5,71.9 224.0,71.9 224.5,71.9 225.0,71.9 225.5,71.9 226.0,71.9 226.5,71.9 227.0,71.9 227.5,71.9 228.0,71.9 228.5,71.9 229.0,71.9 229.5,71.9 230.0,71.9 230.5,71.9 231.0,71.9 231.5,71.9 232.0,71.9 232.5,71.9 233.0,71.9 233.5,71.9 234.0,71.9 234.5,71.9 235.0,71.9 235.5,71.9 236.0,71.9 236.5,71.9 237.0,71.9 237.5,71.9 238.0,71.9 238.5,71.9 239.0,71.9 239.5,71.9 240.0,71.9 240.5,71.9 241.0,71.9 241.5,71.9 242.0,71.9 242.5,71.9 243.0,71.9 243.5,71.9 244.0,71.9 244.5,71.9 245.0,71.9 245.5,71.9 246.0,71.9 246.5,71.9 247.0,71.9 247.5,71.9 248.0,71.9 248.5,71.9 249.0,71.9 249.5,71.9 250.0,71.9 250.5,71.9 251.0,71.9 251.5,71.9 252.0,71.9 252.5,71.9 253.0,71.9 253.5,71.9 254.0,71.9 254.5,71.9 255.0,71.9 255.5,71.9 256.0,71.9 256.5,71.9 257.0,71.9 257.5,71.9 258.0,71.9 258.5,71.9 259.0,71.9 259.5,71.9 260.0,71.9 260.5,71.9 261.0,71.9 261.5,71.9 262.0,71.9 262.5,71.9 263.0,71.9 263.5,71.9 264.0,71.9 264.5,71.9 265.0,71.9 265.5,71.9 266.0,71.9 266.5,71.9 267.0,71.9 267.5,71.9 268.0,71.9 268.5,71.9 269.0,71.9 269.5,71.9 270.0,71.9 270.5,71.9 271.0,71.9 271.5,71.9 272.0,71.9 272.5,71.9 273.0,71.9 273.5,71.9 274.0,71.9 274.5,71.9 275.0,71.9 275.5,71.9 276.0,71.9 276.5,71.9 277.0,71.9 277.5,71.9 278.0,71.9 278.5,71.9 279.0,71.9 279.5,71.9 280.0,71.9 280.5,71.9 281.0,71.9 281.5,71.9 282.0,71.9 282.5,71.9 283.0,71.9 283.5,71.9 284.0,71.9 284.5,71.9 285.0,71.9 285.5,71.9 286.0,71.9 286.5,71.9 287.0,71.9 287.5,71.9 288.0,71.9 288.5,71.9 289.0,71.9 289.5,71.9 290.0,71.9 290.5,71.9 291.0,71.9 291.5,71.9 292.0,71.9 292.5,71.9 293.0,71.9 293.5,71.9 294.0,71.9 294.5,71.9 295.0,71.9 295.5,71.9 296.0,71.9 296.5,71.9 297.0,71.9 297.5,71.9 298.0,71.9 298.5,71.9 299.0,71.9 299.5,71.9 300.0,71.9 300.5,71.9 301.0,71.9 301.5,71.9 302.0,71.9 302.5,71.9 303.0,71.9 303.5,71.9 304.0,71.9 304.5,71.9 305.0,71.9 305.5,71.9 306.0,71.9 306.5,71.9 307.0,71.9 307.5,71.9 308.0,71.9 308.5,71.9 309.0,71.9 309.5,71.9 310.0,71.9 310.5,71.9 311.0,71.9 311.5,71.9 312.0,71.9 312.5,71.9 313.0,71.9 313.5,71.9 314.0,71.9 314.5,71.9 315.0,71.9 315.5,71.9 316.0,71.9 316.5,71.9 317.0,71.9 317.5,71.9 318.0,71.9 318.5,71.9 319.0,71.9 319.5,71.9 320.0,71.9 320.5,71.9 321.0,71.9 321.5,71.9 322.0,71.9 322.5,71.9 323.0,71.9 323.5,71.9 324.0,71.9 324.5,71.9 325.0,71.9 325.5,71.9 326.0,71.9 326.5,71.9 327.0,71.9 327.5,71.9 328.0,71.9 328.5,71.9 329.0,71.9 329.5,71.9 330.0,71.9 330.5,71.9 331.0,71.9 331.5,71.9 332.0,71.9 332.5,71.9 333.0,71.9 333.5,71.9 334.0,71.9 334.5,71.9 335.0,71.9 335.5,71.9 336.0,71.9 336.5,71.9 337.0,71.9 337.5,71.9 338.0,71.9 338.5,71.9 339.0,71.9 339.5,71.9 340.0,71.9 340.5,71.9 341.0,71.9 341.5,71.9 342.0,71.9 342.5,71.9 343.0,71.9 343.5,71.9 344.0,71.9 344.5,71.9 345.0,71.9 345.5,71.9"/>
<polyline fill="none" stroke="#000" stroke-width="1.9" stroke-linejoin="miter" points="55.5,72.5 56.2,72.3 57.0,75.7 59.4,69.8 60.9,72.8 62.4,72.3 64.9,76.2 66.8,70.3 68.8,75.2 70.8,72.8 72.8,70.3 74.2,72.8 76.2,71.8 78.2,65.9 80.2,71.8 81.6,69.8 84.1,70.3 86.1,69.8 88.1,75.2 90.0,72.8 92.0,70.8 93.5,75.7 95.5,68.3 97.4,71.8 99.4,73.3 101.4,72.3 103.4,70.8 105.3,69.8 107.3,72.8 109.1,79.7 111.3,70.3 113.2,71.8 115.2,72.8 117.2,73.3 120.1,72.3 122.6,67.8 124.1,74.7 126.1,76.7 128.0,72.3 130.0,73.8 131.9,69.8 133.9,75.2 135.9,66.8 137.9,70.8 139.8,69.8 141.8,76.2 143.8,73.3 145.8,77.7 147.7,72.3 149.7,67.3 151.7,70.8 153.7,74.7 155.1,75.2 157.1,66.8 159.1,72.3 161.1,77.7 163.0,76.7 165.0,69.3 167.5,59.0 170.0,18.5 172.3,3.9 174.2,15.4 176.7,30.8 178.5,47.8 179.7,48.6 180.8,52.4 182.4,60.0 184.3,67.8 186.2,70.8 188.2,72.8 190.2,67.3 191.7,70.8 193.6,73.8 195.6,65.9 197.1,67.3 198.5,62.0 201.5,51.6 203.8,62.0 205.5,68.9 207.3,71.3 209.0,76.5 211.3,71.3 213.0,66.6 214.8,60.8 216.5,61.4 219.4,56.2 222.3,52.2 224.6,63.1 226.4,66.0 228.7,71.8 230.4,68.4 232.1,66.0 234.5,66.0 236.2,71.3 237.9,71.3 239.7,67.2 242.0,68.4 244.3,72.4 246.0,74.7 247.8,69.5 249.5,73.6 251.2,72.4 253.6,77.0 255.9,77.0 258.2,73.0 260.5,71.3 262.8,72.4 265.1,69.5 266.9,73.0 268.6,71.8 270.9,78.8 273.0,73.7 274.9,73.2 276.9,73.7 278.9,73.2 280.9,73.7 283.3,74.2 285.8,72.2 287.8,72.2 289.8,74.7 291.7,73.2 293.2,73.7 295.2,62.8 297.2,69.7 299.1,76.6 300.6,70.7 302.6,71.2 305.0,75.2 307.0,70.7 309.0,73.7 311.0,75.7 312.9,71.2 314.9,71.2 316.4,68.3 318.4,69.7 320.3,73.2 322.3,76.6 324.3,77.1 326.3,74.7 327.7,75.7 329.7,69.7 331.7,75.2 333.7,72.7 335.6,68.8 337.1,69.7 339.1,69.2 340.1,71.2 341.9,75.1 343.5,72.2 345.5,71.7"/>
<polyline fill="none" stroke="#00f" stroke-width="1.8" stroke-dasharray="2,3.1" points="55.5,72.5 56.0,72.5 56.5,72.5 57.0,72.5 57.5,72.5 58.0,72.5 58.5,72.5 59.0,72.5 59.5,72.5 60.0,72.5 60.5,72.5 61.0,72.5 61.5,72.5 62.0,72.5 62.5,72.5 63.0,72.5 63.5,72.5 64.0,72.5 64.5,72.5 65.0,72.5 65.5,72.5 66.0,72.5 66.5,72.5 67.0,72.5 67.5,72.5 68.0,72.5 68.5,72.5 69.0,72.5 69.5,72.5 70.0,72.5 70.5,72.5 71.0,72.5 71.5,72.5 72.0,72.5 72.5,72.5 73.0,72.5 73.5,72.5 74.0,72.5 74.5,72.5 75.0,72.5 75.5,72.5 76.0,72.5 76.5,72.5 77.0,72.5 77.5,72.5 78.0,72.5 78.5,72.5 79.0,72.5 79.5,72.5 80.0,72.5 80.5,72.5 81.0,72.5 81.5,72.5 82.0,72.5 82.5,72.5 83.0,72.5 83.5,72.5 84.0,72.5 84.5,72.5 85.0,72.5 85.5,72.5 86.0,72.5 86.5,72.5 87.0,72.5 87.5,72.5 88.0,72.5 88.5,72.5 89.0,72.5 89.5,72.5 90.0,72.5 90.5,72.5 91.0,72.5 91.5,72.5 92.0,72.5 92.5,72.5 93.0,72.5 93.5,72.5 94.0,72.5 94.5,72.5 95.0,72.5 95.5,72.5 96.0,72.5 96.5,72.5 97.0,72.5 97.5,72.5 98.0,72.5 98.5,72.5 99.0,72.5 99.5,72.5 100.0,72.5 100.5,72.5 101.0,72.5 101.5,72.5 102.0,72.5 102.5,72.5 103.0,72.5 103.5,72.5 104.0,72.5 104.5,72.5 105.0,72.5 105.5,72.5 106.0,72.5 106.5,72.5 107.0,72.5 107.5,72.5 108.0,72.5 108.5,72.5 109.0,72.5 109.5,72.5 110.0,72.5 110.5,72.5 111.0,72.5 111.5,72.5 112.0,72.5 112.5,72.5 113.0,72.5 113.5,72.5 114.0,72.5 114.5,72.5 115.0,72.5 115.5,72.5 116.0,72.5 116.5,72.5 117.0,72.5 117.5,72.5 118.0,72.5 118.5,72.5 119.0,72.5 119.5,72.5 120.0,72.5 120.5,72.5 121.0,72.5 121.5,72.5 122.0,72.5 122.5,72.5 123.0,72.5 123.5,72.5 124.0,72.5 124.5,72.5 125.0,72.5 125.5,72.5 126.0,72.5 126.5,72.5 127.0,72.5 127.5,72.5 128.0,72.5 128.5,72.5 129.0,72.5 129.5,72.5 130.0,72.5 130.5,72.5 131.0,72.5 131.5,72.5 132.0,72.5 132.5,72.5 133.0,72.5 133.5,72.5 134.0,72.5 134.5,72.5 135.0,72.5 135.5,72.5 136.0,72.5 136.5,72.5 137.0,72.5 137.5,72.5 138.0,72.5 138.5,72.5 139.0,72.5 139.5,72.5 140.0,72.5 140.5,72.5 141.0,72.5 141.5,72.5 142.0,72.5 142.5,72.5 143.0,72.5 143.5,72.5 144.0,72.5 144.5,72.5 145.0,72.5 145.5,72.5 146.0,72.5 146.5,72.5 147.0,72.5 147.5,72.5 148.0,72.5 148.5,72.5 149.0,72.5 149.5,72.5 150.0,72.5 150.5,72.5 151.0,72.5 151.5,72.5 152.0,72.5 152.5,72.5 153.0,72.5 153.5,72.5 154.0,72.5 154.5,72.5 155.0,72.5 155.5,72.5 156.0,72.5 156.5,72.5 157.0,72.5 157.5,72.5 158.0,72.5 158.5,72.5 159.0,72.5 159.5,72.5 160.0,72.5 160.5,72.5 161.0,72.5 161.5,72.5 162.0,72.5 162.5,72.5 163.0,72.5 163.5,72.5 164.0,72.5 164.5,72.5 165.0,72.5 165.5,72.5 166.0,72.5 166.5,72.5 167.0,72.5 167.5,72.5 168.0,72.5 168.5,72.5 169.0,72.5 169.5,72.5 170.0,72.5 170.5,72.5 171.0,72.5 171.5,72.5 172.0,72.5 172.5,72.5 173.0,72.5 173.5,72.5 174.0,72.5 174.5,72.5 175.0,72.5 175.5,72.5 176.0,72.5 176.5,72.5 177.0,72.5 177.5,72.5 178.0,72.5 178.5,72.5 179.0,72.5 179.5,72.5 180.0,72.5 180.5,72.5 181.0,72.5 181.5,72.5 182.0,72.5 182.5,72.5 183.0,72.5 183.5,72.5 184.0,72.5 184.5,72.5 185.0,72.5 185.5,72.5 186.0,72.5 186.5,72.5 187.0,72.5 187.5,72.5 188.0,72.5 188.5,72.5 189.0,72.5 189.5,72.5 190.0,72.5 190.5,72.5 191.0,72.5 191.5,72.5 192.0,72.5 192.5,72.5 193.0,72.5 193.5,72.5 194.0,72.5 194.5,72.5 195.0,72.5 195.5,72.5 196.0,72.5 196.5,72.5 197.0,72.5 197.5,72.5 198.0,72.5 198.5,72.5 199.0,72.5 199.5,72.5 200.0,72.5 200.5,72.5 201.0,72.5 201.5,72.5 202.0,72.5 202.5,72.5 203.0,72.5 203.5,72.5 204.0,72.5 204.5,72.5 205.0,72.5 205.5,72.5 206.0,72.5 206.5,72.5 207.0,72.4 207.5,72.4 208.0,72.4 208.5,72.3 209.0,72.2 209.5,72.1 210.0,72.0 210.5,71.8 211.0,71.5 211.5,71.2 212.0,70.8 212.5,70.3 213.0,69.7 213.5,69.0 214.0,68.1 214.5,67.2 215.0,66.1 215.5,65.0 216.0,63.7 216.5,62.4 217.0,61.2 217.5,59.9 218.0,58.7 218.5,57.7 219.0,56.8 219.5,56.1 220.0,55.7 220.5,55.5 221.0,55.6 221.5,55.9 222.0,56.5 222.5,57.3 223.0,58.3 223.5,59.4 224.0,60.7 224.5,61.9 225.0,63.2 225.5,64.5 226.0,65.7 226.5,66.8 227.0,67.8 227.5,68.7 228.0,69.4 228.5,70.1 229.0,70.6 229.5,71.1 230.0,71.4 230.5,71.7 231.0,71.9 231.5,72.1 232.0,72.2 232.5,72.3 233.0,72.4 233.5,72.4 234.0,72.4 234.5,72.5 235.0,72.5 235.5,72.5 236.0,72.5 236.5,72.5 237.0,72.5 237.5,72.5 238.0,72.5 238.5,72.5 239.0,72.5 239.5,72.5 240.0,72.5 240.5,72.5 241.0,72.5 241.5,72.5 242.0,72.5 242.5,72.5 243.0,72.5 243.5,72.5 244.0,72.5 244.5,72.5 245.0,72.5 245.5,72.5 246.0,72.5 246.5,72.5 247.0,72.5 247.5,72.5 248.0,72.5 248.5,72.5 249.0,72.5 249.5,72.5 250.0,72.5 250.5,72.5 251.0,72.5 251.5,72.5 252.0,72.5 252.5,72.5 253.0,72.5 253.5,72.5 254.0,72.5 254.5,72.5 255.0,72.5 255.5,72.5 256.0,72.5 256.5,72.5 257.0,72.5 257.5,72.5 258.0,72.5 258.5,72.5 259.0,72.5 259.5,72.5 260.0,72.5 260.5,72.5 261.0,72.5 261.5,72.5 262.0,72.5 262.5,72.5 263.0,72.5 263.5,72.5 264.0,72.5 264.5,72.5 265.0,72.5 265.5,72.5 266.0,72.5 266.5,72.5 267.0,72.5 267.5,72.5 268.0,72.5 268.5,72.5 269.0,72.5 269.5,72.5 270.0,72.5 270.5,72.5 271.0,72.5 271.5,72.5 272.0,72.5 272.5,72.5 273.0,72.5 273.5,72.5 274.0,72.5 274.5,72.5 275.0,72.5 275.5,72.5 276.0,72.5 276.5,72.5 277.0,72.5 277.5,72.5 278.0,72.5 278.5,72.5 279.0,72.5 279.5,72.5 280.0,72.5 280.5,72.5 281.0,72.5 281.5,72.5 282.0,72.5 282.5,72.5 283.0,72.5 283.5,72.5 284.0,72.5 284.5,72.5 285.0,72.5 285.5,72.5 286.0,72.5 286.5,72.5 287.0,72.5 287.5,72.5 288.0,72.5 288.5,72.5 289.0,72.5 289.5,72.5 290.0,72.5 290.5,72.5 291.0,72.5 291.5,72.5 292.0,72.5 292.5,72.5 293.0,72.5 293.5,72.5 294.0,72.5 294.5,72.5 295.0,72.5 295.5,72.5 296.0,72.5 296.5,72.5 297.0,72.5 297.5,72.5 298.0,72.5 298.5,72.5 299.0,72.5 299.5,72.5 300.0,72.5 300.5,72.5 301.0,72.5 301.5,72.5 302.0,72.5 302.5,72.5 303.0,72.5 303.5,72.5 304.0,72.5 304.5,72.5 305.0,72.5 305.5,72.5 306.0,72.5 306.5,72.5 307.0,72.5 307.5,72.5 308.0,72.5 308.5,72.5 309.0,72.5 309.5,72.5 310.0,72.5 310.5,72.5 311.0,72.5 311.5,72.5 312.0,72.5 312.5,72.5 313.0,72.5 313.5,72.5 314.0,72.5 314.5,72.5 315.0,72.5 315.5,72.5 316.0,72.5 316.5,72.5 317.0,72.5 317.5,72.5 318.0,72.5 318.5,72.5 319.0,72.5 319.5,72.5 320.0,72.5 320.5,72.5 321.0,72.5 321.5,72.5 322.0,72.5 322.5,72.5 323.0,72.5 323.5,72.5 324.0,72.5 324.5,72.5 325.0,72.5 325.5,72.5 326.0,72.5 326.5,72.5 327.0,72.5 327.5,72.5 328.0,72.5 328.5,72.5 329.0,72.5 329.5,72.5 330.0,72.5 330.5,72.5 331.0,72.5 331.5,72.5 332.0,72.5 332.5,72.5 333.0,72.5 333.5,72.5 334.0,72.5 334.5,72.5 335.0,72.5 335.5,72.5 336.0,72.5 336.5,72.5 337.0,72.5 337.5,72.5 338.0,72.5 338.5,72.5 339.0,72.5 339.5,72.5 340.0,72.5 340.5,72.5 341.0,72.5 341.5,72.5 342.0,72.5 342.5,72.5 343.0,72.5 343.5,72.5 344.0,72.5 344.5,72.5 345.0,72.5 345.5,72.5"/>
<polyline fill="none" stroke="#000" stroke-width="1.8" stroke-linejoin="miter" points="470.0,56.0 482.4,63.2 494.7,64.2 507.1,50.0 519.7,56.6 532.4,25.5 545.0,3.9 557.9,20.5 570.5,67.1 582.8,58.0 596.1,79.3 608.4,65.1 622.2,57.6 634.0,36.0 646.3,39.6 658.6,33.9 671.9,20.1 683.7,17.0 696.0,53.8 709.0,58.0 721.6,68.7 734.4,71.0 747.2,50.2 759.0,54.0"/>
<polyline fill="none" stroke="#000" stroke-width="1.7" stroke-dasharray="2.4,2.7" stroke-dashoffset="-1.8" points="470.3,69.10 471.0,69.10 471.7,69.10 472.4,69.10 473.1,69.10 473.8,69.10 474.5,69.10 475.2,69.10 475.9,69.10 476.6,69.10 477.3,69.10 478.0,69.10 478.7,69.10 479.4,69.10 480.1,69.10 480.8,69.10 481.5,69.10 482.2,69.10 482.9,69.09 483.6,69.09 484.3,69.09 485.0,69.09 485.7,69.09 486.4,69.09 487.1,69.08 487.8,69.08 488.5,69.08 489.2,69.07 489.9,69.06 490.6,69.06 491.3,69.05 492.0,69.04 492.7,69.03 493.4,69.01 494.1,69.00 494.8,68.98 495.5,68.96 496.2,68.93 496.9,68.90 497.6,68.87 498.3,68.83 499.0,68.78 499.7,68.73 500.4,68.67 501.1,68.60 501.8,68.52 502.5,68.43 503.2,68.33 503.9,68.21 504.6,68.08 505.3,67.93 506.0,67.77 506.7,67.58 507.4,67.38 508.1,67.14 508.8,66.89 509.5,66.60 510.2,66.29 510.9,65.94 511.6,65.56 512.3,65.14 513.0,64.68 513.7,64.18 514.4,63.63 515.1,63.04 515.8,62.40 516.5,61.71 517.2,60.96 517.9,60.17 518.6,59.31 519.3,58.39 520.0,57.42 520.7,56.39 521.4,55.30 522.1,54.15 522.8,52.93 523.5,51.66 524.2,50.34 524.9,48.95 525.6,47.52 526.3,46.03 527.0,44.50 527.7,42.93 528.4,41.31 529.1,39.67 529.8,38.00 530.5,36.31 531.2,34.60 531.9,32.89 532.6,31.18 533.3,29.48 534.0,27.79 534.7,26.13 535.4,24.51 536.1,22.93 536.8,21.40 537.5,19.93 538.2,18.54 538.9,17.22 539.6,15.99 540.3,14.85 541.0,13.81 541.7,12.88 542.4,12.06 543.1,11.36 543.8,10.79 544.5,10.35 545.2,10.03 545.9,9.85 546.6,9.80 547.3,9.89 548.0,10.11 548.7,10.46 549.4,10.94 550.1,11.55 550.8,12.28 551.5,13.13 552.2,14.09 552.9,15.16 553.6,16.32 554.3,17.58 555.0,18.92 555.7,20.34 556.4,21.82 557.1,23.37 557.8,24.96 558.5,26.59 559.2,28.26 559.9,29.95 560.6,31.65 561.3,33.36 562.0,35.07 562.7,36.77 563.4,38.46 564.1,40.12 564.8,41.75 565.5,43.35 566.2,44.91 566.9,46.42 567.6,47.89 568.3,49.31 569.0,50.67 569.7,51.98 570.4,53.23 571.1,54.41 571.8,55.54 572.5,56.61 573.2,57.62 573.9,58.56 574.6,59.45 575.3,60.28 576.0,61.05 576.7,61.77 577.4,62.43 578.1,63.05 578.8,63.61 579.5,64.12 580.2,64.59 580.9,65.02 581.6,65.41 582.3,65.76 583.0,66.07 583.7,66.35 584.4,66.59 585.1,66.81 585.8,67.00 586.5,67.16 587.2,67.30 587.9,67.41 588.6,67.51 589.3,67.59 590.0,67.64 590.7,67.69 591.4,67.71 592.1,67.72 592.8,67.72 593.5,67.70 594.2,67.67 594.9,67.63 595.6,67.58 596.3,67.51 597.0,67.44 597.7,67.35 598.4,67.26 599.1,67.15 599.8,67.03 600.5,66.91 601.2,66.77 601.9,66.63 602.6,66.47 603.3,66.30 604.0,66.12 604.7,65.94 605.4,65.74 606.1,65.52 606.8,65.30 607.5,65.07 608.2,64.82 608.9,64.56 609.6,64.29 610.3,64.00 611.0,63.70 611.7,63.39 612.4,63.06 613.1,62.72 613.8,62.36 614.5,61.99 615.2,61.61 615.9,61.21 616.6,60.79 617.3,60.35 618.0,59.91 618.7,59.44 619.4,58.96 620.1,58.46 620.8,57.94 621.5,57.41 622.2,56.86 622.9,56.30 623.6,55.71 624.3,55.11 625.0,54.50 625.7,53.87 626.4,53.22 627.1,52.56 627.8,51.88 628.5,51.18 629.2,50.47 629.9,49.75 630.6,49.01 631.3,48.26 632.0,47.50 632.7,46.72 633.4,45.94 634.1,45.14 634.8,44.33 635.5,43.52 636.2,42.69 636.9,41.86 637.6,41.02 638.3,40.18 639.0,39.33 639.7,38.48 640.4,37.62 641.1,36.77 641.8,35.92 642.5,35.07 643.2,34.22 643.9,33.37 644.6,32.53 645.3,31.70 646.0,30.87 646.7,30.06 647.4,29.25 648.1,28.46 648.8,27.68 649.5,26.92 650.2,26.17 650.9,25.44 651.6,24.73 652.3,24.04 653.0,23.38 653.7,22.73 654.4,22.11 655.1,21.51 655.8,20.94 656.5,20.40 657.2,19.89 657.9,19.41 658.6,18.95 659.3,18.53 660.0,18.15 660.7,17.79 661.4,17.47 662.1,17.19 662.8,16.94 663.5,16.72 664.2,16.54 664.9,16.40 665.6,16.30 666.3,16.23 667.0,16.20 667.7,16.21 668.4,16.26 669.1,16.34 669.8,16.46 670.5,16.61 671.2,16.81 671.9,17.04 672.6,17.30 673.3,17.60 674.0,17.94 674.7,18.31 675.4,18.71 676.1,19.14 676.8,19.61 677.5,20.11 678.2,20.63 678.9,21.18 679.6,21.76 680.3,22.37 681.0,23.00 681.7,23.66 682.4,24.34 683.1,25.04 683.8,25.75 684.5,26.49 685.2,27.25 685.9,28.02 686.6,28.80 687.3,29.60 688.0,30.41 688.7,31.23 689.4,32.05 690.1,32.89 690.8,33.73 691.5,34.58 692.2,35.43 692.9,36.28 693.6,37.14 694.3,37.99 695.0,38.84 695.7,39.69 696.4,40.54 697.1,41.38 697.8,42.22 698.5,43.04 699.2,43.87 699.9,44.68 700.6,45.48 701.3,46.28 702.0,47.06 702.7,47.83 703.4,48.59 704.1,49.33 704.8,50.06 705.5,50.78 706.2,51.48 706.9,52.17 707.6,52.84 708.3,53.50 709.0,54.14 709.7,54.76 710.4,55.37 711.1,55.96 711.8,56.54 712.5,57.10 713.2,57.64 713.9,58.17 714.6,58.67 715.3,59.17 716.0,59.64 716.7,60.10 717.4,60.54 718.1,60.97 718.8,61.38 719.5,61.78 720.2,62.16 720.9,62.52 721.6,62.87 722.3,63.21 723.0,63.53 723.7,63.84 724.4,64.13 725.1,64.41 725.8,64.68 726.5,64.94 727.2,65.18 727.9,65.41 728.6,65.63 729.3,65.84 730.0,66.04 730.7,66.23 731.4,66.41 732.1,66.58 732.8,66.74 733.5,66.89 734.2,67.04 734.9,67.17 735.6,67.30 736.3,67.42 737.0,67.54 737.7,67.64 738.4,67.74 739.1,67.84 739.8,67.93 740.5,68.01 741.2,68.09 741.9,68.16 742.6,68.23 743.3,68.30 744.0,68.36 744.7,68.41 745.4,68.46 746.1,68.51 746.8,68.56 747.5,68.60 748.2,68.64 748.9,68.68 749.6,68.71 750.3,68.74 751.0,68.77 751.7,68.80 752.4,68.82 753.1,68.84 753.8,68.87 754.5,68.89 755.2,68.90 755.9,68.92 756.6,68.94 757.3,68.95 758.0,68.96 758.7,68.98"/>
<g stroke="#000" stroke-width="1.2" fill="none">
<line x1="55.55" y1="0" x2="55.55" y2="353.55"/>
<line x1="345.5" y1="0" x2="345.5" y2="353.55"/>
<line x1="469.75" y1="0" x2="469.75" y2="353.55"/>
<line x1="759.4" y1="0" x2="759.4" y2="353.55"/>
<line x1="54.949999999999996" y1="0.6" x2="346.1" y2="0.6"/>
<line x1="469.15" y1="0.6" x2="760.0" y2="0.6"/>
<line x1="54.949999999999996" y1="83.5" x2="760.0" y2="83.5"/>
<line x1="54.949999999999996" y1="352.95" x2="760.0" y2="352.95"/>
</g>
<g stroke="#000" stroke-width="1.1">
<line x1="51.65" y1="353.20" x2="55.55" y2="353.20"/>
<line x1="341.60" y1="353.20" x2="345.50" y2="353.20"/>
<line x1="465.85" y1="353.20" x2="469.75" y2="353.20"/>
<line x1="51.65" y1="299.27" x2="55.55" y2="299.27"/>
<line x1="341.60" y1="299.27" x2="345.50" y2="299.27"/>
<line x1="465.85" y1="299.27" x2="469.75" y2="299.27"/>
<line x1="51.65" y1="245.34" x2="55.55" y2="245.34"/>
<line x1="341.60" y1="245.34" x2="345.50" y2="245.34"/>
<line x1="465.85" y1="245.34" x2="469.75" y2="245.34"/>
<line x1="51.65" y1="191.41" x2="55.55" y2="191.41"/>
<line x1="341.60" y1="191.41" x2="345.50" y2="191.41"/>
<line x1="465.85" y1="191.41" x2="469.75" y2="191.41"/>
<line x1="51.65" y1="137.48" x2="55.55" y2="137.48"/>
<line x1="341.60" y1="137.48" x2="345.50" y2="137.48"/>
<line x1="465.85" y1="137.48" x2="469.75" y2="137.48"/>
<line x1="51.65" y1="83.55" x2="55.55" y2="83.55"/>
<line x1="341.60" y1="83.55" x2="345.50" y2="83.55"/>
<line x1="465.85" y1="83.55" x2="469.75" y2="83.55"/>
<line x1="75.99" y1="352.95" x2="75.99" y2="356.85"/>
<line x1="75.99" y1="83.50" x2="75.99" y2="87.40"/>
<line x1="124.48" y1="352.95" x2="124.48" y2="356.85"/>
<line x1="124.48" y1="83.50" x2="124.48" y2="87.40"/>
<line x1="172.97" y1="352.95" x2="172.97" y2="356.85"/>
<line x1="172.97" y1="83.50" x2="172.97" y2="87.40"/>
<line x1="221.46" y1="352.95" x2="221.46" y2="356.85"/>
<line x1="221.46" y1="83.50" x2="221.46" y2="87.40"/>
<line x1="269.95" y1="352.95" x2="269.95" y2="356.85"/>
<line x1="269.95" y1="83.50" x2="269.95" y2="87.40"/>
<line x1="318.44" y1="352.95" x2="318.44" y2="356.85"/>
<line x1="318.44" y1="83.50" x2="318.44" y2="87.40"/>
<line x1="51.65" y1="69.56" x2="55.55" y2="69.56"/>
<line x1="51.65" y1="28.42" x2="55.55" y2="28.42"/>
<line x1="389.96" y1="352.95" x2="389.96" y2="356.85"/>
<line x1="449.86" y1="352.95" x2="449.86" y2="356.85"/>
<line x1="491.00" y1="352.95" x2="491.00" y2="356.85"/>
<line x1="491.00" y1="83.50" x2="491.00" y2="87.40"/>
<line x1="552.48" y1="352.95" x2="552.48" y2="356.85"/>
<line x1="552.48" y1="83.50" x2="552.48" y2="87.40"/>
<line x1="613.96" y1="352.95" x2="613.96" y2="356.85"/>
<line x1="613.96" y1="83.50" x2="613.96" y2="87.40"/>
<line x1="675.44" y1="352.95" x2="675.44" y2="356.85"/>
<line x1="675.44" y1="83.50" x2="675.44" y2="87.40"/>
<line x1="736.92" y1="352.95" x2="736.92" y2="356.85"/>
<line x1="736.92" y1="83.50" x2="736.92" y2="87.40"/>
<line x1="465.85" y1="64.79" x2="469.75" y2="64.79"/>
<line x1="465.85" y1="15.42" x2="469.75" y2="15.42"/>
</g>
<text x="47.4" y="357.5" font-size="12" text-anchor="end"  textLength="29.68" lengthAdjust="spacingAndGlyphs">1000</text>
<text x="47.4" y="303.57" font-size="12" text-anchor="end"  textLength="29.68" lengthAdjust="spacingAndGlyphs">1100</text>
<text x="47.4" y="249.64" font-size="12" text-anchor="end"  textLength="29.68" lengthAdjust="spacingAndGlyphs">1200</text>
<text x="47.4" y="195.71" font-size="12" text-anchor="end"  textLength="29.68" lengthAdjust="spacingAndGlyphs">1300</text>
<text x="47.4" y="141.78" font-size="12" text-anchor="end"  textLength="29.68" lengthAdjust="spacingAndGlyphs">1400</text>
<text x="47.4" y="87.85" font-size="12" text-anchor="end"  textLength="29.68" lengthAdjust="spacingAndGlyphs">1500</text>
<text x="75.99" y="369.9" font-size="12" text-anchor="middle"  textLength="24.62" lengthAdjust="spacingAndGlyphs">−20</text>
<text x="124.47999999999999" y="369.9" font-size="12" text-anchor="middle"  textLength="24.62" lengthAdjust="spacingAndGlyphs">−10</text>
<text x="172.97" y="369.9" font-size="12" text-anchor="middle"  textLength="7.42" lengthAdjust="spacingAndGlyphs">0</text>
<text x="221.46" y="369.9" font-size="12" text-anchor="middle"  textLength="14.84" lengthAdjust="spacingAndGlyphs">10</text>
<text x="269.95" y="369.9" font-size="12" text-anchor="middle"  textLength="14.84" lengthAdjust="spacingAndGlyphs">20</text>
<text x="318.44" y="369.9" font-size="12" text-anchor="middle"  textLength="14.84" lengthAdjust="spacingAndGlyphs">30</text>
<text x="47.4" y="32.72" font-size="12" text-anchor="end"  textLength="22.26" lengthAdjust="spacingAndGlyphs">500</text>
<text x="47.4" y="73.86" font-size="12" text-anchor="end"  textLength="7.42" lengthAdjust="spacingAndGlyphs">0</text>
<text x="389.96" y="369.9" font-size="12" text-anchor="middle"  textLength="7.42" lengthAdjust="spacingAndGlyphs">0</text>
<text x="449.86" y="369.9" font-size="12" text-anchor="middle"  textLength="14.84" lengthAdjust="spacingAndGlyphs">20</text>
<text x="491.0" y="369.9" font-size="12" text-anchor="middle"  textLength="7.42" lengthAdjust="spacingAndGlyphs">4</text>
<text x="552.48" y="369.9" font-size="12" text-anchor="middle"  textLength="7.42" lengthAdjust="spacingAndGlyphs">6</text>
<text x="613.96" y="369.9" font-size="12" text-anchor="middle"  textLength="7.42" lengthAdjust="spacingAndGlyphs">8</text>
<text x="675.44" y="369.9" font-size="12" text-anchor="middle"  textLength="14.84" lengthAdjust="spacingAndGlyphs">10</text>
<text x="736.92" y="369.9" font-size="12" text-anchor="middle"  textLength="14.84" lengthAdjust="spacingAndGlyphs">12</text>
<text x="461.6" y="19.720000000000002" font-size="12" text-anchor="end"  textLength="22.26" lengthAdjust="spacingAndGlyphs">200</text>
<text x="461.6" y="69.09" font-size="12" text-anchor="end"  textLength="7.42" lengthAdjust="spacingAndGlyphs">0</text>
<text x="200.5" y="387" font-size="14" text-anchor="middle"  textLength="140" lengthAdjust="spacingAndGlyphs">Time - 2644.22 (ms)</text>
<text x="614" y="387" font-size="14" text-anchor="middle"  textLength="141" lengthAdjust="spacingAndGlyphs">Time - 2644.22 (ms)</text>
<text x="407.5" y="387" font-size="14" text-anchor="middle"  textLength="86" lengthAdjust="spacingAndGlyphs">On - Off (P1)</text>
<text x="0" y="0" font-size="14" text-anchor="middle" textLength="60" lengthAdjust="spacingAndGlyphs" transform="translate(17.8,42.0) rotate(-90)">Intensity</text>
<text x="0" y="0" font-size="14" text-anchor="middle" textLength="59.5" lengthAdjust="spacingAndGlyphs" transform="translate(432.3,42.3) rotate(-90)">Intensity</text>
<text x="0" y="0" font-size="14" text-anchor="middle" textLength="117" lengthAdjust="spacingAndGlyphs" transform="translate(10.7,218.1) rotate(-90)">Frequency (MHz)</text>
<text x="176" y="18" font-size="11" text-anchor="start" >P1</text>
<text x="195" y="51.5" font-size="11" text-anchor="start" >P2</text>
<text x="219.5" y="51.5" font-size="11" text-anchor="start" >P3</text>
<text x="553" y="11" font-size="11" text-anchor="start" >P2</text>
<text x="660.5" y="11" font-size="11" text-anchor="start" >P3</text>
</svg></body></html>
